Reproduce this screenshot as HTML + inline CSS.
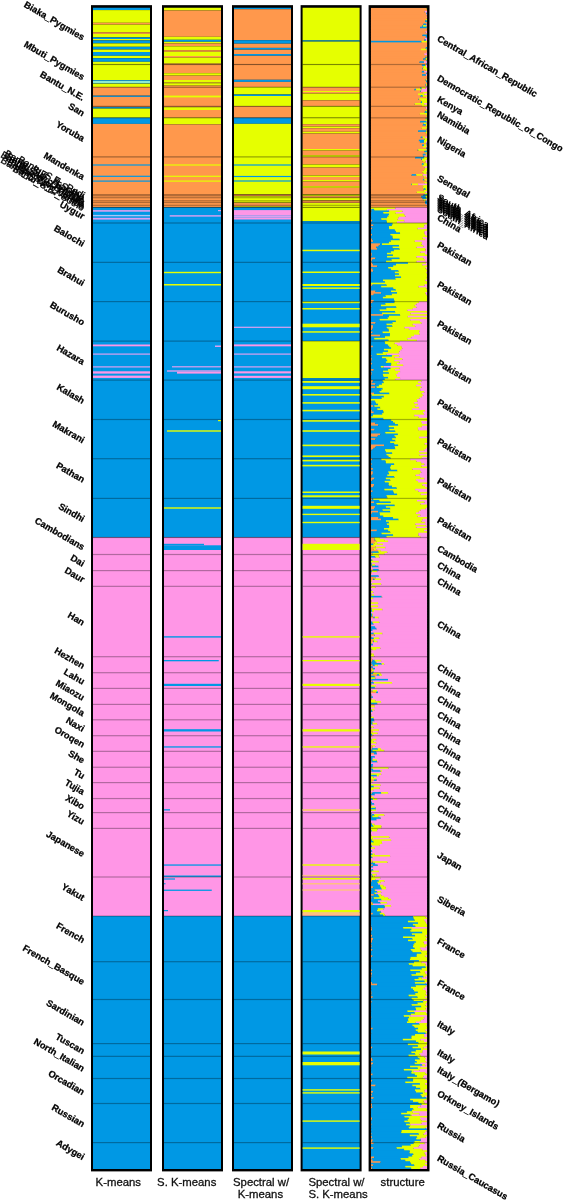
<!DOCTYPE html>
<html><head><meta charset="utf-8"><style>
html,body{margin:0;padding:0;background:#fff;width:564px;height:1200px;overflow:hidden}
svg{display:block}
body{position:relative}
.lab{position:absolute;left:0;top:0;will-change:transform}
</style></head><body>
<svg width="564" height="1200" viewBox="0 0 564 1200">
<rect x="91.00" y="5.15" width="61.00" height="1166.25" fill="#000"/>
<rect x="162.00" y="5.15" width="61.00" height="1166.25" fill="#000"/>
<rect x="232.00" y="5.15" width="61.00" height="1166.25" fill="#000"/>
<rect x="300.60" y="5.15" width="61.00" height="1166.25" fill="#000"/>
<rect x="368.60" y="5.15" width="60.90" height="1166.25" fill="#000"/>
<rect x="93.00" y="7.75" width="57.00" height="2.35" fill="#0098E4"/>
<rect x="93.00" y="10.10" width="57.00" height="12.70" fill="#E6FF00"/>
<rect x="93.00" y="22.80" width="57.00" height="1.80" fill="#FF984C"/>
<rect x="93.00" y="24.60" width="57.00" height="7.70" fill="#E6FF00"/>
<rect x="93.00" y="32.30" width="57.00" height="1.60" fill="#FF984C"/>
<rect x="93.00" y="33.90" width="57.00" height="3.50" fill="#E6FF00"/>
<rect x="93.00" y="37.40" width="57.00" height="1.60" fill="#0098E4"/>
<rect x="93.00" y="39.00" width="57.00" height="1.40" fill="#E6FF00"/>
<rect x="93.00" y="40.40" width="57.00" height="3.00" fill="#0098E4"/>
<rect x="93.00" y="43.40" width="57.00" height="3.40" fill="#E6FF00"/>
<rect x="93.00" y="46.80" width="57.00" height="2.70" fill="#0098E4"/>
<rect x="93.00" y="49.50" width="57.00" height="2.50" fill="#E6FF00"/>
<rect x="93.00" y="52.00" width="57.00" height="3.80" fill="#0098E4"/>
<rect x="93.00" y="55.80" width="57.00" height="2.40" fill="#E6FF00"/>
<rect x="93.00" y="58.20" width="57.00" height="3.60" fill="#0098E4"/>
<rect x="93.00" y="61.80" width="57.00" height="2.60" fill="#E6FF00"/>
<rect x="93.00" y="64.40" width="57.00" height="15.60" fill="#E6FF00"/>
<rect x="93.00" y="80.00" width="57.00" height="0.80" fill="#0098E4"/>
<rect x="93.00" y="80.80" width="57.00" height="2.20" fill="#8CEBD2"/>
<rect x="93.00" y="83.00" width="57.00" height="0.60" fill="#0098E4"/>
<rect x="93.00" y="83.60" width="57.00" height="3.50" fill="#E6FF00"/>
<rect x="93.00" y="87.10" width="57.00" height="8.60" fill="#FF984C"/>
<rect x="93.00" y="95.70" width="57.00" height="1.20" fill="#0098E4"/>
<rect x="93.00" y="96.90" width="57.00" height="9.35" fill="#FF984C"/>
<rect x="93.00" y="106.25" width="57.00" height="0.95" fill="#FF984C"/>
<rect x="93.00" y="107.20" width="57.00" height="1.40" fill="#0098E4"/>
<rect x="93.00" y="108.60" width="57.00" height="9.15" fill="#E6FF00"/>
<rect x="93.00" y="117.75" width="57.00" height="6.15" fill="#0098E4"/>
<rect x="93.00" y="123.90" width="57.00" height="33.00" fill="#FF984C"/>
<rect x="93.00" y="156.90" width="57.00" height="50.40" fill="#FF984C"/>
<rect x="93.00" y="164.40" width="57.00" height="1.20" fill="#0098E4"/>
<rect x="93.00" y="175.70" width="57.00" height="1.20" fill="#0098E4"/>
<rect x="93.00" y="180.50" width="57.00" height="1.20" fill="#0098E4"/>
<rect x="93.00" y="207.30" width="57.00" height="330.10" fill="#0098E4"/>
<rect x="93.00" y="210.10" width="57.00" height="1.60" fill="#DCA0F0"/>
<rect x="93.00" y="214.90" width="57.00" height="1.40" fill="#A8C4F8"/>
<rect x="93.00" y="217.80" width="57.00" height="1.80" fill="#DCA0F0"/>
<rect x="93.00" y="344.50" width="57.00" height="1.80" fill="#FF96E6"/>
<rect x="93.00" y="353.50" width="57.00" height="1.20" fill="#DCA0F0"/>
<rect x="93.00" y="366.30" width="57.00" height="1.20" fill="#DCA0F0"/>
<rect x="93.00" y="371.30" width="57.00" height="2.30" fill="#FF96E6"/>
<rect x="93.00" y="375.60" width="57.00" height="2.30" fill="#FF96E6"/>
<rect x="93.00" y="537.40" width="57.00" height="378.60" fill="#FF96E6"/>
<rect x="93.00" y="916.00" width="57.00" height="253.00" fill="#0098E4"/>
<rect x="164.00" y="7.75" width="57.00" height="2.75" fill="#E6FF00"/>
<rect x="164.00" y="10.50" width="57.00" height="26.30" fill="#FF984C"/>
<rect x="164.00" y="36.80" width="57.00" height="3.00" fill="#E6FF00"/>
<rect x="164.00" y="39.80" width="57.00" height="2.00" fill="#0098E4"/>
<rect x="164.00" y="41.80" width="57.00" height="1.70" fill="#E6FF00"/>
<rect x="164.00" y="43.50" width="57.00" height="2.80" fill="#FF984C"/>
<rect x="164.00" y="46.30" width="57.00" height="3.90" fill="#E6FF00"/>
<rect x="164.00" y="50.20" width="57.00" height="1.60" fill="#FF984C"/>
<rect x="164.00" y="51.80" width="57.00" height="4.20" fill="#E6FF00"/>
<rect x="164.00" y="56.00" width="57.00" height="1.70" fill="#FF984C"/>
<rect x="164.00" y="57.70" width="57.00" height="5.90" fill="#E6FF00"/>
<rect x="164.00" y="63.60" width="57.00" height="0.80" fill="#FF984C"/>
<rect x="164.00" y="64.40" width="57.00" height="8.80" fill="#FF984C"/>
<rect x="164.00" y="73.20" width="57.00" height="2.40" fill="#E6FF00"/>
<rect x="164.00" y="75.60" width="57.00" height="4.40" fill="#FF984C"/>
<rect x="164.00" y="80.00" width="57.00" height="2.60" fill="#E6FF00"/>
<rect x="164.00" y="82.60" width="57.00" height="0.60" fill="#FF984C"/>
<rect x="164.00" y="83.20" width="57.00" height="2.40" fill="#E6FF00"/>
<rect x="164.00" y="85.60" width="57.00" height="1.50" fill="#FF984C"/>
<rect x="164.00" y="87.10" width="57.00" height="19.15" fill="#FF984C"/>
<rect x="164.00" y="95.60" width="57.00" height="1.80" fill="#E6FF00"/>
<rect x="164.00" y="106.25" width="57.00" height="0.95" fill="#FF984C"/>
<rect x="164.00" y="107.20" width="57.00" height="2.80" fill="#E6FF00"/>
<rect x="164.00" y="110.00" width="57.00" height="7.75" fill="#FF984C"/>
<rect x="164.00" y="117.75" width="57.00" height="6.65" fill="#E6FF00"/>
<rect x="164.00" y="124.40" width="57.00" height="32.50" fill="#FF984C"/>
<rect x="164.00" y="156.90" width="57.00" height="50.40" fill="#FF984C"/>
<rect x="164.00" y="164.40" width="57.00" height="1.20" fill="#E6FF00"/>
<rect x="164.00" y="175.70" width="57.00" height="1.20" fill="#E6FF00"/>
<rect x="164.00" y="180.50" width="57.00" height="1.20" fill="#E6FF00"/>
<rect x="164.00" y="207.30" width="57.00" height="330.10" fill="#0098E4"/>
<rect x="164.00" y="271.80" width="57.00" height="1.40" fill="#E6FF00"/>
<rect x="164.00" y="284.00" width="57.00" height="1.50" fill="#E6FF00"/>
<rect x="164.00" y="507.30" width="57.00" height="1.40" fill="#E6FF00"/>
<rect x="164.00" y="537.40" width="57.00" height="378.60" fill="#FF96E6"/>
<rect x="164.00" y="545.30" width="57.00" height="4.70" fill="#0098E4"/>
<rect x="164.00" y="636.20" width="57.00" height="1.40" fill="#0098E4"/>
<rect x="164.00" y="683.80" width="57.00" height="2.20" fill="#0098E4"/>
<rect x="164.00" y="729.20" width="57.00" height="2.30" fill="#0098E4"/>
<rect x="164.00" y="746.30" width="57.00" height="1.30" fill="#0098E4"/>
<rect x="164.00" y="864.40" width="57.00" height="1.30" fill="#0098E4"/>
<rect x="164.00" y="875.50" width="57.00" height="1.40" fill="#0098E4"/>
<rect x="164.00" y="916.00" width="57.00" height="253.00" fill="#0098E4"/>
<rect x="169.70" y="215.20" width="51.30" height="1.40" fill="#DCA0F0"/>
<rect x="218.00" y="210.00" width="3.00" height="1.20" fill="#DCA0F0"/>
<rect x="215.00" y="345.50" width="6.00" height="1.50" fill="#DCA0F0"/>
<rect x="172.00" y="366.20" width="49.00" height="1.20" fill="#DCA0F0"/>
<rect x="167.00" y="370.30" width="54.00" height="1.40" fill="#DCA0F0"/>
<rect x="177.00" y="371.70" width="44.00" height="1.90" fill="#FF96E6"/>
<rect x="218.00" y="420.00" width="3.00" height="1.20" fill="#E6FF00"/>
<rect x="167.00" y="430.30" width="54.00" height="1.40" fill="#E6FF00"/>
<rect x="164.00" y="543.80" width="40.00" height="1.50" fill="#0098E4"/>
<rect x="164.00" y="660.00" width="54.75" height="1.30" fill="#0098E4"/>
<rect x="164.00" y="809.20" width="6.00" height="1.30" fill="#0098E4"/>
<rect x="164.00" y="878.40" width="11.00" height="1.20" fill="#0098E4"/>
<rect x="164.00" y="883.20" width="1.50" height="1.10" fill="#0098E4"/>
<rect x="164.00" y="889.60" width="47.75" height="1.30" fill="#0098E4"/>
<rect x="164.00" y="910.00" width="4.00" height="1.20" fill="#0098E4"/>
<rect x="234.00" y="7.75" width="57.00" height="1.45" fill="#0098E4"/>
<rect x="234.00" y="9.20" width="57.00" height="31.00" fill="#FF984C"/>
<rect x="234.00" y="40.20" width="57.00" height="3.50" fill="#0098E4"/>
<rect x="234.00" y="43.70" width="57.00" height="4.20" fill="#FF984C"/>
<rect x="234.00" y="47.90" width="57.00" height="1.80" fill="#0098E4"/>
<rect x="234.00" y="49.70" width="57.00" height="4.30" fill="#FF984C"/>
<rect x="234.00" y="54.00" width="57.00" height="1.80" fill="#0098E4"/>
<rect x="234.00" y="55.80" width="57.00" height="8.60" fill="#FF984C"/>
<rect x="234.00" y="64.40" width="57.00" height="15.40" fill="#FF984C"/>
<rect x="234.00" y="79.80" width="57.00" height="2.10" fill="#0098E4"/>
<rect x="234.00" y="81.90" width="57.00" height="5.20" fill="#FF984C"/>
<rect x="234.00" y="87.10" width="57.00" height="7.40" fill="#E6FF00"/>
<rect x="234.00" y="94.50" width="57.00" height="1.50" fill="#0098E4"/>
<rect x="234.00" y="96.00" width="57.00" height="10.25" fill="#E6FF00"/>
<rect x="234.00" y="106.25" width="57.00" height="11.50" fill="#FF984C"/>
<rect x="234.00" y="117.75" width="57.00" height="6.05" fill="#0098E4"/>
<rect x="234.00" y="123.80" width="57.00" height="33.10" fill="#E6FF00"/>
<rect x="234.00" y="156.90" width="57.00" height="37.60" fill="#E6FF00"/>
<rect x="234.00" y="164.40" width="57.00" height="1.20" fill="#0098E4"/>
<rect x="234.00" y="175.90" width="57.00" height="1.20" fill="#0098E4"/>
<rect x="234.00" y="180.40" width="57.00" height="1.20" fill="#0098E4"/>
<rect x="234.00" y="194.50" width="57.00" height="1.70" fill="#FF984C"/>
<rect x="234.00" y="196.20" width="57.00" height="6.60" fill="#E6FF00"/>
<rect x="234.00" y="202.80" width="57.00" height="3.60" fill="#FF984C"/>
<rect x="234.00" y="206.40" width="57.00" height="0.90" fill="#E6FF00"/>
<rect x="234.00" y="207.30" width="57.00" height="330.10" fill="#0098E4"/>
<rect x="234.00" y="210.10" width="57.00" height="5.50" fill="#FF96E6"/>
<rect x="234.00" y="217.40" width="57.00" height="2.10" fill="#FF96E6"/>
<rect x="234.00" y="215.60" width="57.00" height="1.80" fill="#DCA0F0"/>
<rect x="234.00" y="326.70" width="57.00" height="1.20" fill="#DCA0F0"/>
<rect x="234.00" y="344.40" width="57.00" height="1.90" fill="#FF96E6"/>
<rect x="234.00" y="353.50" width="57.00" height="1.20" fill="#DCA0F0"/>
<rect x="234.00" y="366.30" width="57.00" height="1.20" fill="#DCA0F0"/>
<rect x="234.00" y="371.30" width="57.00" height="2.10" fill="#FF96E6"/>
<rect x="234.00" y="375.80" width="57.00" height="2.10" fill="#FF96E6"/>
<rect x="234.00" y="537.40" width="57.00" height="378.60" fill="#FF96E6"/>
<rect x="234.00" y="916.00" width="57.00" height="253.00" fill="#0098E4"/>
<rect x="302.60" y="7.75" width="57.00" height="32.65" fill="#E6FF00"/>
<rect x="302.60" y="40.40" width="57.00" height="1.20" fill="#0098E4"/>
<rect x="302.60" y="41.60" width="57.00" height="22.80" fill="#E6FF00"/>
<rect x="302.60" y="64.40" width="57.00" height="22.70" fill="#E6FF00"/>
<rect x="302.60" y="87.10" width="57.00" height="3.90" fill="#FF984C"/>
<rect x="302.60" y="91.00" width="57.00" height="1.00" fill="#E6FF00"/>
<rect x="302.60" y="92.00" width="57.00" height="1.60" fill="#FF984C"/>
<rect x="302.60" y="93.60" width="57.00" height="6.80" fill="#E6FF00"/>
<rect x="302.60" y="100.40" width="57.00" height="5.85" fill="#FF984C"/>
<rect x="302.60" y="106.25" width="57.00" height="11.50" fill="#E6FF00"/>
<rect x="302.60" y="117.75" width="57.00" height="6.45" fill="#E6FF00"/>
<rect x="302.60" y="124.20" width="57.00" height="2.30" fill="#FF984C"/>
<rect x="302.60" y="126.50" width="57.00" height="1.70" fill="#E6FF00"/>
<rect x="302.60" y="128.20" width="57.00" height="3.60" fill="#FF984C"/>
<rect x="302.60" y="131.80" width="57.00" height="1.70" fill="#E6FF00"/>
<rect x="302.60" y="133.50" width="57.00" height="15.50" fill="#FF984C"/>
<rect x="302.60" y="149.00" width="57.00" height="1.60" fill="#E6FF00"/>
<rect x="302.60" y="150.60" width="57.00" height="4.70" fill="#FF984C"/>
<rect x="302.60" y="155.30" width="57.00" height="1.60" fill="#E6FF00"/>
<rect x="302.60" y="156.90" width="57.00" height="7.60" fill="#FF984C"/>
<rect x="302.60" y="164.50" width="57.00" height="3.00" fill="#E6FF00"/>
<rect x="302.60" y="167.50" width="57.00" height="8.00" fill="#FF984C"/>
<rect x="302.60" y="175.50" width="57.00" height="1.50" fill="#E6FF00"/>
<rect x="302.60" y="177.00" width="57.00" height="3.00" fill="#FF984C"/>
<rect x="302.60" y="180.00" width="57.00" height="1.60" fill="#E6FF00"/>
<rect x="302.60" y="181.60" width="57.00" height="4.60" fill="#FF984C"/>
<rect x="302.60" y="186.20" width="57.00" height="1.60" fill="#E6FF00"/>
<rect x="302.60" y="187.80" width="57.00" height="6.70" fill="#FF984C"/>
<rect x="302.60" y="194.50" width="57.00" height="1.50" fill="#E6FF00"/>
<rect x="302.60" y="196.00" width="57.00" height="1.80" fill="#FF984C"/>
<rect x="302.60" y="197.80" width="57.00" height="2.80" fill="#E6FF00"/>
<rect x="302.60" y="200.60" width="57.00" height="2.40" fill="#FF984C"/>
<rect x="302.60" y="203.00" width="57.00" height="4.30" fill="#E6FF00"/>
<rect x="302.60" y="207.30" width="57.00" height="13.90" fill="#E6FF00"/>
<rect x="302.60" y="221.20" width="57.00" height="119.80" fill="#0098E4"/>
<rect x="302.60" y="249.70" width="57.00" height="1.50" fill="#E6FF00"/>
<rect x="302.60" y="271.50" width="57.00" height="1.50" fill="#E6FF00"/>
<rect x="302.60" y="284.00" width="57.00" height="2.00" fill="#E6FF00"/>
<rect x="302.60" y="287.40" width="57.00" height="1.50" fill="#E6FF00"/>
<rect x="302.60" y="301.50" width="57.00" height="1.70" fill="#E6FF00"/>
<rect x="302.60" y="308.00" width="57.00" height="1.50" fill="#E6FF00"/>
<rect x="302.60" y="323.70" width="57.00" height="3.60" fill="#E6FF00"/>
<rect x="302.60" y="331.20" width="57.00" height="1.50" fill="#E6FF00"/>
<rect x="302.60" y="341.00" width="57.00" height="37.20" fill="#E6FF00"/>
<rect x="302.60" y="378.20" width="57.00" height="159.20" fill="#0098E4"/>
<rect x="302.60" y="381.00" width="57.00" height="1.80" fill="#E6FF00"/>
<rect x="302.60" y="386.20" width="57.00" height="3.00" fill="#E6FF00"/>
<rect x="302.60" y="394.00" width="57.00" height="1.60" fill="#E6FF00"/>
<rect x="302.60" y="402.10" width="57.00" height="1.60" fill="#E6FF00"/>
<rect x="302.60" y="409.80" width="57.00" height="1.60" fill="#E6FF00"/>
<rect x="302.60" y="420.10" width="57.00" height="1.60" fill="#E6FF00"/>
<rect x="302.60" y="430.20" width="57.00" height="1.60" fill="#E6FF00"/>
<rect x="302.60" y="444.60" width="57.00" height="1.60" fill="#E6FF00"/>
<rect x="302.60" y="455.40" width="57.00" height="1.60" fill="#E6FF00"/>
<rect x="302.60" y="459.80" width="57.00" height="1.60" fill="#E6FF00"/>
<rect x="302.60" y="464.80" width="57.00" height="1.60" fill="#E6FF00"/>
<rect x="302.60" y="491.50" width="57.00" height="1.50" fill="#E6FF00"/>
<rect x="302.60" y="495.30" width="57.00" height="2.00" fill="#E6FF00"/>
<rect x="302.60" y="505.80" width="57.00" height="3.00" fill="#E6FF00"/>
<rect x="302.60" y="513.70" width="57.00" height="1.40" fill="#E6FF00"/>
<rect x="302.60" y="521.80" width="57.00" height="1.40" fill="#E6FF00"/>
<rect x="302.60" y="537.40" width="57.00" height="378.60" fill="#FF96E6"/>
<rect x="302.60" y="543.80" width="57.00" height="6.20" fill="#E6FF00"/>
<rect x="302.60" y="636.20" width="57.00" height="1.40" fill="#E6FF00"/>
<rect x="302.60" y="660.00" width="57.00" height="1.30" fill="#E6FF00"/>
<rect x="302.60" y="683.80" width="57.00" height="2.20" fill="#E6FF00"/>
<rect x="302.60" y="729.20" width="57.00" height="2.30" fill="#E6FF00"/>
<rect x="302.60" y="746.30" width="57.00" height="1.30" fill="#E6FF00"/>
<rect x="302.60" y="809.00" width="57.00" height="2.00" fill="#FFC080"/>
<rect x="302.60" y="864.30" width="57.00" height="1.40" fill="#E6FF00"/>
<rect x="302.60" y="874.90" width="57.00" height="1.40" fill="#FFC080"/>
<rect x="302.60" y="878.00" width="57.00" height="1.50" fill="#E6FF00"/>
<rect x="302.60" y="883.00" width="57.00" height="1.50" fill="#FFC080"/>
<rect x="302.60" y="889.30" width="57.00" height="1.40" fill="#FFC080"/>
<rect x="302.60" y="910.00" width="57.00" height="2.50" fill="#E6FF00"/>
<rect x="302.60" y="912.80" width="57.00" height="2.80" fill="#FFC080"/>
<rect x="302.60" y="916.00" width="57.00" height="253.00" fill="#0098E4"/>
<rect x="302.60" y="1051.50" width="57.00" height="3.00" fill="#E6FF00"/>
<rect x="302.60" y="1062.00" width="57.00" height="3.30" fill="#E6FF00"/>
<rect x="302.60" y="1089.20" width="57.00" height="1.40" fill="#E6FF00"/>
<rect x="302.60" y="1092.20" width="57.00" height="1.40" fill="#E6FF00"/>
<rect x="302.60" y="1120.40" width="57.00" height="1.40" fill="#E6FF00"/>
<rect x="302.60" y="1147.40" width="57.00" height="1.40" fill="#E6FF00"/>
<defs><clipPath id="c5"><rect x="370.80" y="7.75" width="56.40" height="1161.25"/></clipPath></defs>
<g clip-path="url(#c5)">
<rect x="370.80" y="7.75" width="55.71" height="2.57" fill="#FF984C"/>
<rect x="426.51" y="7.75" width="0.12" height="2.57" fill="#0098E4"/>
<rect x="426.62" y="7.75" width="0.58" height="2.57" fill="#E6FF00"/>
<rect x="370.80" y="9.32" width="56.34" height="2.57" fill="#FF984C"/>
<rect x="427.14" y="9.32" width="0.06" height="2.57" fill="#0098E4"/>
<rect x="370.80" y="10.90" width="53.84" height="2.57" fill="#FF984C"/>
<rect x="424.64" y="10.90" width="0.20" height="2.57" fill="#0098E4"/>
<rect x="424.84" y="10.90" width="2.36" height="2.57" fill="#FF96E6"/>
<rect x="370.80" y="12.47" width="55.28" height="2.57" fill="#FF984C"/>
<rect x="426.08" y="12.47" width="0.78" height="2.57" fill="#0098E4"/>
<rect x="426.86" y="12.47" width="0.06" height="2.57" fill="#E6FF00"/>
<rect x="426.92" y="12.47" width="0.28" height="2.57" fill="#FF96E6"/>
<rect x="370.80" y="14.04" width="55.31" height="2.57" fill="#FF984C"/>
<rect x="426.11" y="14.04" width="0.25" height="2.57" fill="#E6FF00"/>
<rect x="426.35" y="14.04" width="0.85" height="2.57" fill="#FF96E6"/>
<rect x="370.80" y="15.62" width="56.32" height="2.57" fill="#FF984C"/>
<rect x="427.12" y="15.62" width="0.08" height="2.57" fill="#E6FF00"/>
<rect x="370.80" y="17.19" width="55.89" height="2.57" fill="#FF984C"/>
<rect x="426.69" y="17.19" width="0.51" height="2.57" fill="#FF96E6"/>
<rect x="370.80" y="18.77" width="54.94" height="2.57" fill="#FF984C"/>
<rect x="425.74" y="18.77" width="1.46" height="2.57" fill="#E6FF00"/>
<rect x="370.80" y="20.34" width="54.26" height="2.57" fill="#FF984C"/>
<rect x="425.06" y="20.34" width="2.04" height="2.57" fill="#0098E4"/>
<rect x="427.10" y="20.34" width="0.10" height="2.57" fill="#FF96E6"/>
<rect x="370.80" y="21.91" width="56.15" height="2.57" fill="#FF984C"/>
<rect x="426.95" y="21.91" width="0.21" height="2.57" fill="#E6FF00"/>
<rect x="370.80" y="23.49" width="52.54" height="2.57" fill="#FF984C"/>
<rect x="423.34" y="23.49" width="3.13" height="2.57" fill="#0098E4"/>
<rect x="426.48" y="23.49" width="0.72" height="2.57" fill="#FF96E6"/>
<rect x="370.80" y="25.06" width="51.21" height="2.57" fill="#FF984C"/>
<rect x="422.01" y="25.06" width="0.90" height="2.57" fill="#0098E4"/>
<rect x="422.91" y="25.06" width="3.43" height="2.57" fill="#E6FF00"/>
<rect x="426.34" y="25.06" width="0.86" height="2.57" fill="#FF96E6"/>
<rect x="370.80" y="26.63" width="49.26" height="2.57" fill="#FF984C"/>
<rect x="420.06" y="26.63" width="6.78" height="2.57" fill="#0098E4"/>
<rect x="426.84" y="26.63" width="0.36" height="2.57" fill="#E6FF00"/>
<rect x="370.80" y="28.21" width="56.13" height="2.57" fill="#FF984C"/>
<rect x="426.97" y="28.21" width="0.23" height="2.57" fill="#E6FF00"/>
<rect x="370.80" y="29.78" width="56.40" height="2.57" fill="#FF984C"/>
<rect x="370.80" y="31.35" width="54.52" height="2.57" fill="#FF984C"/>
<rect x="425.32" y="31.35" width="0.13" height="2.57" fill="#0098E4"/>
<rect x="425.45" y="31.35" width="1.75" height="2.57" fill="#FF96E6"/>
<rect x="370.80" y="32.93" width="56.40" height="2.57" fill="#FF984C"/>
<rect x="370.80" y="34.50" width="51.65" height="2.57" fill="#FF984C"/>
<rect x="422.45" y="34.50" width="4.75" height="2.57" fill="#0098E4"/>
<rect x="370.80" y="36.08" width="55.02" height="2.57" fill="#FF984C"/>
<rect x="425.82" y="36.08" width="1.38" height="2.57" fill="#0098E4"/>
<rect x="370.80" y="37.65" width="53.94" height="2.57" fill="#FF984C"/>
<rect x="424.74" y="37.65" width="2.46" height="2.57" fill="#FF96E6"/>
<rect x="370.80" y="39.22" width="53.46" height="2.57" fill="#FF984C"/>
<rect x="424.26" y="39.22" width="1.72" height="2.57" fill="#0098E4"/>
<rect x="425.97" y="39.22" width="1.23" height="2.57" fill="#FF96E6"/>
<rect x="370.80" y="40.80" width="50.76" height="2.57" fill="#0098E4"/>
<rect x="421.56" y="40.80" width="5.64" height="2.57" fill="#E6FF00"/>
<rect x="370.80" y="42.37" width="56.40" height="2.57" fill="#FF984C"/>
<rect x="370.80" y="43.94" width="56.40" height="2.57" fill="#FF984C"/>
<rect x="370.80" y="45.52" width="56.40" height="2.57" fill="#FF984C"/>
<rect x="370.80" y="47.09" width="54.92" height="2.57" fill="#FF984C"/>
<rect x="425.72" y="47.09" width="1.48" height="2.57" fill="#0098E4"/>
<rect x="370.80" y="48.66" width="50.20" height="2.57" fill="#FF984C"/>
<rect x="421.00" y="48.66" width="5.70" height="2.57" fill="#E6FF00"/>
<rect x="426.70" y="48.66" width="0.50" height="2.57" fill="#FF96E6"/>
<rect x="370.80" y="50.24" width="56.40" height="2.57" fill="#FF984C"/>
<rect x="370.80" y="51.81" width="55.77" height="2.57" fill="#FF984C"/>
<rect x="426.57" y="51.81" width="0.63" height="2.57" fill="#FF96E6"/>
<rect x="370.80" y="53.38" width="53.37" height="2.57" fill="#FF984C"/>
<rect x="424.20" y="53.38" width="3.00" height="2.57" fill="#FF96E6"/>
<rect x="370.80" y="54.96" width="56.40" height="2.57" fill="#FF984C"/>
<rect x="370.80" y="56.53" width="54.70" height="2.57" fill="#FF984C"/>
<rect x="425.50" y="56.53" width="1.20" height="2.57" fill="#0098E4"/>
<rect x="426.70" y="56.53" width="0.50" height="2.57" fill="#E6FF00"/>
<rect x="370.80" y="58.11" width="52.44" height="2.57" fill="#FF984C"/>
<rect x="423.24" y="58.11" width="2.39" height="2.57" fill="#0098E4"/>
<rect x="425.63" y="58.11" width="1.57" height="2.57" fill="#E6FF00"/>
<rect x="370.80" y="59.68" width="55.68" height="2.57" fill="#FF984C"/>
<rect x="426.48" y="59.68" width="0.72" height="2.57" fill="#0098E4"/>
<rect x="370.80" y="61.25" width="48.80" height="2.57" fill="#FF984C"/>
<rect x="419.60" y="61.25" width="4.33" height="2.57" fill="#0098E4"/>
<rect x="423.94" y="61.25" width="3.26" height="2.57" fill="#FF96E6"/>
<rect x="370.80" y="62.83" width="55.69" height="2.57" fill="#FF984C"/>
<rect x="426.49" y="62.83" width="0.71" height="2.57" fill="#0098E4"/>
<rect x="370.80" y="64.40" width="51.10" height="2.62" fill="#FF984C"/>
<rect x="421.90" y="64.40" width="3.32" height="2.62" fill="#0098E4"/>
<rect x="425.21" y="64.40" width="0.75" height="2.62" fill="#E6FF00"/>
<rect x="425.97" y="64.40" width="1.23" height="2.62" fill="#FF96E6"/>
<rect x="370.80" y="66.02" width="52.49" height="2.62" fill="#FF984C"/>
<rect x="423.29" y="66.02" width="2.83" height="2.62" fill="#E6FF00"/>
<rect x="426.11" y="66.02" width="1.09" height="2.62" fill="#FF96E6"/>
<rect x="370.80" y="67.64" width="51.61" height="2.62" fill="#FF984C"/>
<rect x="422.41" y="67.64" width="0.60" height="2.62" fill="#0098E4"/>
<rect x="423.00" y="67.64" width="4.20" height="2.62" fill="#E6FF00"/>
<rect x="370.80" y="69.26" width="54.80" height="2.62" fill="#FF984C"/>
<rect x="425.60" y="69.26" width="1.60" height="2.62" fill="#E6FF00"/>
<rect x="370.80" y="70.89" width="51.04" height="2.62" fill="#FF984C"/>
<rect x="421.84" y="70.89" width="2.35" height="2.62" fill="#0098E4"/>
<rect x="424.20" y="70.89" width="3.00" height="2.62" fill="#FF96E6"/>
<rect x="370.80" y="72.51" width="55.55" height="2.62" fill="#FF984C"/>
<rect x="426.35" y="72.51" width="0.67" height="2.62" fill="#0098E4"/>
<rect x="427.02" y="72.51" width="0.18" height="2.62" fill="#E6FF00"/>
<rect x="370.80" y="74.13" width="51.24" height="2.62" fill="#FF984C"/>
<rect x="422.04" y="74.13" width="3.84" height="2.62" fill="#0098E4"/>
<rect x="425.88" y="74.13" width="1.32" height="2.62" fill="#FF96E6"/>
<rect x="370.80" y="75.75" width="56.40" height="2.62" fill="#FF984C"/>
<rect x="370.80" y="77.37" width="56.40" height="2.62" fill="#FF984C"/>
<rect x="370.80" y="78.99" width="54.25" height="2.62" fill="#FF984C"/>
<rect x="425.05" y="78.99" width="0.66" height="2.62" fill="#0098E4"/>
<rect x="425.71" y="78.99" width="1.05" height="2.62" fill="#E6FF00"/>
<rect x="426.76" y="78.99" width="0.44" height="2.62" fill="#FF96E6"/>
<rect x="370.80" y="80.61" width="55.26" height="2.62" fill="#FF984C"/>
<rect x="426.06" y="80.61" width="1.14" height="2.62" fill="#0098E4"/>
<rect x="370.80" y="82.24" width="56.24" height="2.62" fill="#FF984C"/>
<rect x="427.04" y="82.24" width="0.16" height="2.62" fill="#FF96E6"/>
<rect x="370.80" y="83.86" width="54.65" height="2.62" fill="#FF984C"/>
<rect x="425.45" y="83.86" width="0.62" height="2.62" fill="#0098E4"/>
<rect x="426.08" y="83.86" width="1.03" height="2.62" fill="#E6FF00"/>
<rect x="427.11" y="83.86" width="0.09" height="2.62" fill="#FF96E6"/>
<rect x="370.80" y="85.48" width="55.37" height="2.62" fill="#FF984C"/>
<rect x="426.17" y="85.48" width="0.45" height="2.62" fill="#0098E4"/>
<rect x="426.61" y="85.48" width="0.59" height="2.62" fill="#FF96E6"/>
<rect x="370.80" y="87.10" width="49.40" height="2.60" fill="#FF984C"/>
<rect x="420.20" y="87.10" width="1.37" height="2.60" fill="#0098E4"/>
<rect x="421.57" y="87.10" width="3.98" height="2.60" fill="#E6FF00"/>
<rect x="425.55" y="87.10" width="1.65" height="2.60" fill="#FF96E6"/>
<rect x="370.80" y="88.70" width="43.67" height="2.60" fill="#FF984C"/>
<rect x="414.47" y="88.70" width="1.58" height="2.60" fill="#0098E4"/>
<rect x="416.05" y="88.70" width="5.29" height="2.60" fill="#E6FF00"/>
<rect x="421.33" y="88.70" width="5.87" height="2.60" fill="#FF96E6"/>
<rect x="370.80" y="90.29" width="49.46" height="2.60" fill="#FF984C"/>
<rect x="420.26" y="90.29" width="0.66" height="2.60" fill="#0098E4"/>
<rect x="420.92" y="90.29" width="6.28" height="2.60" fill="#FF96E6"/>
<rect x="370.80" y="91.89" width="52.10" height="2.60" fill="#FF984C"/>
<rect x="422.90" y="91.89" width="4.30" height="2.60" fill="#E6FF00"/>
<rect x="370.80" y="93.48" width="47.20" height="2.60" fill="#FF984C"/>
<rect x="418.00" y="93.48" width="6.27" height="2.60" fill="#E6FF00"/>
<rect x="424.28" y="93.48" width="2.92" height="2.60" fill="#FF96E6"/>
<rect x="370.80" y="95.08" width="49.77" height="2.60" fill="#FF984C"/>
<rect x="420.57" y="95.08" width="2.20" height="2.60" fill="#0098E4"/>
<rect x="422.77" y="95.08" width="4.43" height="2.60" fill="#E6FF00"/>
<rect x="370.80" y="96.67" width="55.35" height="2.60" fill="#FF984C"/>
<rect x="426.15" y="96.67" width="1.05" height="2.60" fill="#FF96E6"/>
<rect x="370.80" y="98.27" width="47.87" height="2.60" fill="#FF984C"/>
<rect x="418.67" y="98.27" width="0.45" height="2.60" fill="#0098E4"/>
<rect x="419.12" y="98.27" width="8.08" height="2.60" fill="#E6FF00"/>
<rect x="370.80" y="99.87" width="50.47" height="2.60" fill="#FF984C"/>
<rect x="421.27" y="99.87" width="5.93" height="2.60" fill="#E6FF00"/>
<rect x="370.80" y="101.46" width="50.02" height="2.60" fill="#FF984C"/>
<rect x="420.82" y="101.46" width="1.23" height="2.60" fill="#0098E4"/>
<rect x="422.05" y="101.46" width="5.15" height="2.60" fill="#E6FF00"/>
<rect x="370.80" y="103.06" width="43.95" height="2.60" fill="#FF984C"/>
<rect x="414.75" y="103.06" width="0.13" height="2.60" fill="#0098E4"/>
<rect x="414.88" y="103.06" width="9.29" height="2.60" fill="#E6FF00"/>
<rect x="424.17" y="103.06" width="3.03" height="2.60" fill="#FF96E6"/>
<rect x="370.80" y="104.65" width="50.95" height="2.60" fill="#FF984C"/>
<rect x="421.75" y="104.65" width="5.45" height="2.60" fill="#E6FF00"/>
<rect x="370.80" y="106.25" width="54.60" height="2.64" fill="#FF984C"/>
<rect x="425.40" y="106.25" width="1.80" height="2.64" fill="#FF96E6"/>
<rect x="370.80" y="107.89" width="55.48" height="2.64" fill="#FF984C"/>
<rect x="426.28" y="107.89" width="0.92" height="2.64" fill="#FF96E6"/>
<rect x="370.80" y="109.54" width="54.64" height="2.64" fill="#FF984C"/>
<rect x="425.44" y="109.54" width="1.76" height="2.64" fill="#E6FF00"/>
<rect x="370.80" y="111.18" width="53.93" height="2.64" fill="#FF984C"/>
<rect x="424.73" y="111.18" width="2.12" height="2.64" fill="#0098E4"/>
<rect x="426.85" y="111.18" width="0.28" height="2.64" fill="#E6FF00"/>
<rect x="427.13" y="111.18" width="0.07" height="2.64" fill="#FF96E6"/>
<rect x="370.80" y="112.82" width="49.07" height="2.64" fill="#FF984C"/>
<rect x="419.87" y="112.82" width="7.33" height="2.64" fill="#E6FF00"/>
<rect x="370.80" y="114.46" width="55.51" height="2.64" fill="#FF984C"/>
<rect x="426.31" y="114.46" width="0.89" height="2.64" fill="#E6FF00"/>
<rect x="370.80" y="116.11" width="56.40" height="2.64" fill="#FF984C"/>
<rect x="370.80" y="117.75" width="54.98" height="2.57" fill="#FF984C"/>
<rect x="425.78" y="117.75" width="0.91" height="2.57" fill="#0098E4"/>
<rect x="426.68" y="117.75" width="0.52" height="2.57" fill="#E6FF00"/>
<rect x="370.80" y="119.32" width="54.33" height="2.57" fill="#FF984C"/>
<rect x="425.13" y="119.32" width="2.07" height="2.57" fill="#E6FF00"/>
<rect x="370.80" y="120.88" width="49.36" height="2.57" fill="#FF984C"/>
<rect x="420.16" y="120.88" width="6.50" height="2.57" fill="#0098E4"/>
<rect x="426.66" y="120.88" width="0.54" height="2.57" fill="#FF96E6"/>
<rect x="370.80" y="122.45" width="52.85" height="2.57" fill="#FF984C"/>
<rect x="423.65" y="122.45" width="3.10" height="2.57" fill="#E6FF00"/>
<rect x="426.75" y="122.45" width="0.45" height="2.57" fill="#FF96E6"/>
<rect x="370.80" y="124.01" width="52.02" height="2.57" fill="#FF984C"/>
<rect x="422.82" y="124.01" width="3.08" height="2.57" fill="#0098E4"/>
<rect x="425.90" y="124.01" width="1.30" height="2.57" fill="#E6FF00"/>
<rect x="370.80" y="125.58" width="55.61" height="2.57" fill="#FF984C"/>
<rect x="426.41" y="125.58" width="0.79" height="2.57" fill="#E6FF00"/>
<rect x="370.80" y="127.15" width="51.05" height="2.57" fill="#FF984C"/>
<rect x="421.85" y="127.15" width="5.03" height="2.57" fill="#E6FF00"/>
<rect x="426.87" y="127.15" width="0.33" height="2.57" fill="#FF96E6"/>
<rect x="370.80" y="128.71" width="55.94" height="2.57" fill="#FF984C"/>
<rect x="426.74" y="128.71" width="0.46" height="2.57" fill="#0098E4"/>
<rect x="370.80" y="130.28" width="47.34" height="2.57" fill="#FF984C"/>
<rect x="418.14" y="130.28" width="8.09" height="2.57" fill="#0098E4"/>
<rect x="426.24" y="130.28" width="0.63" height="2.57" fill="#E6FF00"/>
<rect x="426.87" y="130.28" width="0.33" height="2.57" fill="#FF96E6"/>
<rect x="370.80" y="131.84" width="54.56" height="2.57" fill="#FF984C"/>
<rect x="425.36" y="131.84" width="1.84" height="2.57" fill="#E6FF00"/>
<rect x="370.80" y="133.41" width="56.39" height="2.57" fill="#FF984C"/>
<rect x="370.80" y="134.98" width="56.40" height="2.57" fill="#FF984C"/>
<rect x="370.80" y="136.54" width="49.97" height="2.57" fill="#FF984C"/>
<rect x="420.77" y="136.54" width="1.81" height="2.57" fill="#0098E4"/>
<rect x="422.59" y="136.54" width="2.58" height="2.57" fill="#E6FF00"/>
<rect x="425.17" y="136.54" width="2.03" height="2.57" fill="#FF96E6"/>
<rect x="370.80" y="138.11" width="53.28" height="2.57" fill="#FF984C"/>
<rect x="424.08" y="138.11" width="0.42" height="2.57" fill="#0098E4"/>
<rect x="424.51" y="138.11" width="2.69" height="2.57" fill="#E6FF00"/>
<rect x="370.80" y="139.67" width="48.11" height="2.57" fill="#FF984C"/>
<rect x="418.91" y="139.67" width="5.11" height="2.57" fill="#0098E4"/>
<rect x="424.02" y="139.67" width="3.04" height="2.57" fill="#E6FF00"/>
<rect x="427.06" y="139.67" width="0.14" height="2.57" fill="#FF96E6"/>
<rect x="370.80" y="141.24" width="49.16" height="2.57" fill="#FF984C"/>
<rect x="419.96" y="141.24" width="3.98" height="2.57" fill="#0098E4"/>
<rect x="423.94" y="141.24" width="2.14" height="2.57" fill="#E6FF00"/>
<rect x="426.08" y="141.24" width="1.12" height="2.57" fill="#FF96E6"/>
<rect x="370.80" y="142.81" width="55.69" height="2.57" fill="#FF984C"/>
<rect x="426.49" y="142.81" width="0.71" height="2.57" fill="#0098E4"/>
<rect x="370.80" y="144.37" width="51.24" height="2.57" fill="#FF984C"/>
<rect x="422.04" y="144.37" width="2.04" height="2.57" fill="#0098E4"/>
<rect x="424.08" y="144.37" width="2.45" height="2.57" fill="#E6FF00"/>
<rect x="426.53" y="144.37" width="0.67" height="2.57" fill="#FF96E6"/>
<rect x="370.80" y="145.94" width="52.18" height="2.57" fill="#FF984C"/>
<rect x="422.98" y="145.94" width="3.45" height="2.57" fill="#E6FF00"/>
<rect x="426.43" y="145.94" width="0.77" height="2.57" fill="#FF96E6"/>
<rect x="370.80" y="147.50" width="55.62" height="2.57" fill="#FF984C"/>
<rect x="426.42" y="147.50" width="0.78" height="2.57" fill="#0098E4"/>
<rect x="370.80" y="149.07" width="46.94" height="2.57" fill="#FF984C"/>
<rect x="417.74" y="149.07" width="0.52" height="2.57" fill="#0098E4"/>
<rect x="418.26" y="149.07" width="8.50" height="2.57" fill="#E6FF00"/>
<rect x="426.76" y="149.07" width="0.44" height="2.57" fill="#FF96E6"/>
<rect x="370.80" y="150.64" width="53.61" height="2.57" fill="#FF984C"/>
<rect x="424.41" y="150.64" width="2.57" height="2.57" fill="#0098E4"/>
<rect x="426.98" y="150.64" width="0.22" height="2.57" fill="#E6FF00"/>
<rect x="370.80" y="152.20" width="55.42" height="2.57" fill="#FF984C"/>
<rect x="426.22" y="152.20" width="0.97" height="2.57" fill="#E6FF00"/>
<rect x="370.80" y="153.77" width="52.01" height="2.57" fill="#FF984C"/>
<rect x="422.81" y="153.77" width="2.92" height="2.57" fill="#0098E4"/>
<rect x="425.73" y="153.77" width="0.85" height="2.57" fill="#E6FF00"/>
<rect x="426.58" y="153.77" width="0.62" height="2.57" fill="#FF96E6"/>
<rect x="370.80" y="155.33" width="52.73" height="2.57" fill="#FF984C"/>
<rect x="423.53" y="155.33" width="0.32" height="2.57" fill="#0098E4"/>
<rect x="423.85" y="155.33" width="0.56" height="2.57" fill="#E6FF00"/>
<rect x="424.41" y="155.33" width="2.79" height="2.57" fill="#FF96E6"/>
<rect x="370.80" y="156.90" width="44.39" height="2.57" fill="#FF984C"/>
<rect x="415.19" y="156.90" width="8.93" height="2.57" fill="#0098E4"/>
<rect x="424.12" y="156.90" width="3.08" height="2.57" fill="#E6FF00"/>
<rect x="370.80" y="158.47" width="50.39" height="2.57" fill="#FF984C"/>
<rect x="421.19" y="158.47" width="0.73" height="2.57" fill="#0098E4"/>
<rect x="421.93" y="158.47" width="4.96" height="2.57" fill="#E6FF00"/>
<rect x="426.88" y="158.47" width="0.32" height="2.57" fill="#FF96E6"/>
<rect x="370.80" y="160.03" width="51.76" height="2.57" fill="#FF984C"/>
<rect x="422.56" y="160.03" width="2.95" height="2.57" fill="#E6FF00"/>
<rect x="425.51" y="160.03" width="1.69" height="2.57" fill="#FF96E6"/>
<rect x="370.80" y="161.60" width="53.90" height="2.57" fill="#FF984C"/>
<rect x="424.70" y="161.60" width="1.11" height="2.57" fill="#E6FF00"/>
<rect x="425.81" y="161.60" width="1.39" height="2.57" fill="#FF96E6"/>
<rect x="370.80" y="163.17" width="51.07" height="2.57" fill="#FF984C"/>
<rect x="421.87" y="163.17" width="1.87" height="2.57" fill="#0098E4"/>
<rect x="423.74" y="163.17" width="3.46" height="2.57" fill="#E6FF00"/>
<rect x="370.80" y="164.73" width="51.42" height="2.57" fill="#FF984C"/>
<rect x="422.22" y="164.73" width="4.98" height="2.57" fill="#E6FF00"/>
<rect x="370.80" y="166.30" width="53.66" height="2.57" fill="#FF984C"/>
<rect x="424.46" y="166.30" width="2.74" height="2.57" fill="#FF96E6"/>
<rect x="370.80" y="167.87" width="54.00" height="2.57" fill="#FF984C"/>
<rect x="424.80" y="167.87" width="2.40" height="2.57" fill="#E6FF00"/>
<rect x="370.80" y="169.43" width="53.05" height="2.57" fill="#FF984C"/>
<rect x="423.85" y="169.43" width="3.35" height="2.57" fill="#E6FF00"/>
<rect x="370.80" y="171.00" width="51.49" height="2.57" fill="#FF984C"/>
<rect x="422.29" y="171.00" width="4.20" height="2.57" fill="#E6FF00"/>
<rect x="426.49" y="171.00" width="0.71" height="2.57" fill="#FF96E6"/>
<rect x="370.80" y="172.57" width="53.17" height="2.57" fill="#FF984C"/>
<rect x="423.97" y="172.57" width="2.78" height="2.57" fill="#E6FF00"/>
<rect x="426.76" y="172.57" width="0.44" height="2.57" fill="#FF96E6"/>
<rect x="370.80" y="174.13" width="40.87" height="2.57" fill="#FF984C"/>
<rect x="411.67" y="174.13" width="4.54" height="2.57" fill="#0098E4"/>
<rect x="416.21" y="174.13" width="6.55" height="2.57" fill="#E6FF00"/>
<rect x="422.77" y="174.13" width="4.43" height="2.57" fill="#FF96E6"/>
<rect x="370.80" y="175.70" width="52.68" height="2.57" fill="#FF984C"/>
<rect x="423.48" y="175.70" width="0.16" height="2.57" fill="#0098E4"/>
<rect x="423.63" y="175.70" width="2.34" height="2.57" fill="#E6FF00"/>
<rect x="425.97" y="175.70" width="1.23" height="2.57" fill="#FF96E6"/>
<rect x="370.80" y="177.27" width="56.24" height="2.57" fill="#FF984C"/>
<rect x="427.04" y="177.27" width="0.16" height="2.57" fill="#E6FF00"/>
<rect x="370.80" y="178.83" width="52.17" height="2.57" fill="#FF984C"/>
<rect x="422.97" y="178.83" width="1.32" height="2.57" fill="#0098E4"/>
<rect x="424.29" y="178.83" width="2.91" height="2.57" fill="#E6FF00"/>
<rect x="370.80" y="180.40" width="55.58" height="2.57" fill="#FF984C"/>
<rect x="426.38" y="180.40" width="0.82" height="2.57" fill="#FF96E6"/>
<rect x="370.80" y="181.97" width="53.52" height="2.57" fill="#FF984C"/>
<rect x="424.32" y="181.97" width="2.88" height="2.57" fill="#E6FF00"/>
<rect x="370.80" y="183.53" width="40.36" height="2.57" fill="#FF984C"/>
<rect x="411.16" y="183.53" width="0.60" height="2.57" fill="#0098E4"/>
<rect x="411.76" y="183.53" width="6.36" height="2.57" fill="#E6FF00"/>
<rect x="418.12" y="183.53" width="9.08" height="2.57" fill="#FF96E6"/>
<rect x="370.80" y="185.10" width="52.38" height="2.57" fill="#FF984C"/>
<rect x="423.18" y="185.10" width="4.02" height="2.57" fill="#E6FF00"/>
<rect x="370.80" y="186.67" width="51.99" height="2.57" fill="#FF984C"/>
<rect x="422.79" y="186.67" width="4.41" height="2.57" fill="#E6FF00"/>
<rect x="370.80" y="188.23" width="52.91" height="2.57" fill="#FF984C"/>
<rect x="423.71" y="188.23" width="1.89" height="2.57" fill="#0098E4"/>
<rect x="425.60" y="188.23" width="1.60" height="2.57" fill="#E6FF00"/>
<rect x="370.80" y="189.80" width="53.03" height="2.57" fill="#FF984C"/>
<rect x="423.83" y="189.80" width="3.37" height="2.57" fill="#E6FF00"/>
<rect x="370.80" y="191.37" width="45.90" height="2.57" fill="#FF984C"/>
<rect x="416.70" y="191.37" width="8.59" height="2.57" fill="#E6FF00"/>
<rect x="425.30" y="191.37" width="1.90" height="2.57" fill="#FF96E6"/>
<rect x="370.80" y="192.93" width="54.09" height="2.57" fill="#FF984C"/>
<rect x="424.89" y="192.93" width="2.31" height="2.57" fill="#E6FF00"/>
<rect x="370.80" y="194.50" width="52.49" height="2.20" fill="#FF984C"/>
<rect x="423.29" y="194.50" width="3.87" height="2.20" fill="#0098E4"/>
<rect x="370.80" y="195.70" width="50.41" height="2.90" fill="#FF984C"/>
<rect x="421.21" y="195.70" width="4.30" height="2.90" fill="#0098E4"/>
<rect x="425.52" y="195.70" width="1.68" height="2.90" fill="#E6FF00"/>
<rect x="370.80" y="197.60" width="51.83" height="2.55" fill="#FF984C"/>
<rect x="422.63" y="197.60" width="3.99" height="2.55" fill="#0098E4"/>
<rect x="426.61" y="197.60" width="0.59" height="2.55" fill="#E6FF00"/>
<rect x="370.80" y="199.15" width="52.89" height="2.55" fill="#FF984C"/>
<rect x="423.69" y="199.15" width="2.25" height="2.55" fill="#E6FF00"/>
<rect x="425.94" y="199.15" width="1.26" height="2.55" fill="#FF96E6"/>
<rect x="370.80" y="200.70" width="54.41" height="2.70" fill="#FF984C"/>
<rect x="425.21" y="200.70" width="1.71" height="2.70" fill="#0098E4"/>
<rect x="426.92" y="200.70" width="0.28" height="2.70" fill="#FF96E6"/>
<rect x="370.80" y="202.40" width="54.19" height="2.40" fill="#FF984C"/>
<rect x="424.99" y="202.40" width="2.21" height="2.40" fill="#0098E4"/>
<rect x="370.80" y="203.80" width="55.22" height="2.40" fill="#FF984C"/>
<rect x="426.02" y="203.80" width="0.25" height="2.40" fill="#0098E4"/>
<rect x="426.28" y="203.80" width="0.92" height="2.40" fill="#FF96E6"/>
<rect x="370.80" y="205.20" width="56.39" height="3.10" fill="#FF984C"/>
<rect x="370.80" y="207.30" width="24.52" height="2.56" fill="#E6FF00"/>
<rect x="395.32" y="207.30" width="31.88" height="2.56" fill="#FF96E6"/>
<rect x="370.80" y="208.86" width="0.51" height="2.56" fill="#FF984C"/>
<rect x="371.31" y="208.86" width="2.93" height="2.56" fill="#0098E4"/>
<rect x="374.24" y="208.86" width="12.72" height="2.56" fill="#E6FF00"/>
<rect x="386.96" y="208.86" width="40.24" height="2.56" fill="#FF96E6"/>
<rect x="370.80" y="210.42" width="0.70" height="2.56" fill="#FF984C"/>
<rect x="371.50" y="210.42" width="17.60" height="2.56" fill="#0098E4"/>
<rect x="389.10" y="210.42" width="13.39" height="2.56" fill="#E6FF00"/>
<rect x="402.49" y="210.42" width="24.71" height="2.56" fill="#FF96E6"/>
<rect x="370.80" y="211.98" width="12.44" height="2.56" fill="#0098E4"/>
<rect x="383.24" y="211.98" width="12.43" height="2.56" fill="#E6FF00"/>
<rect x="395.67" y="211.98" width="31.53" height="2.56" fill="#FF96E6"/>
<rect x="370.80" y="213.54" width="18.23" height="2.56" fill="#0098E4"/>
<rect x="389.03" y="213.54" width="15.31" height="2.56" fill="#E6FF00"/>
<rect x="404.35" y="213.54" width="22.85" height="2.56" fill="#FF96E6"/>
<rect x="370.80" y="215.10" width="17.49" height="2.56" fill="#0098E4"/>
<rect x="388.29" y="215.10" width="17.20" height="2.56" fill="#E6FF00"/>
<rect x="405.49" y="215.10" width="21.71" height="2.56" fill="#FF96E6"/>
<rect x="370.80" y="216.66" width="0.43" height="2.56" fill="#FF984C"/>
<rect x="371.23" y="216.66" width="15.81" height="2.56" fill="#0098E4"/>
<rect x="387.04" y="216.66" width="11.60" height="2.56" fill="#E6FF00"/>
<rect x="398.64" y="216.66" width="28.56" height="2.56" fill="#FF96E6"/>
<rect x="370.80" y="218.22" width="10.41" height="2.56" fill="#0098E4"/>
<rect x="381.21" y="218.22" width="16.55" height="2.56" fill="#E6FF00"/>
<rect x="397.77" y="218.22" width="29.43" height="2.56" fill="#FF96E6"/>
<rect x="370.80" y="219.78" width="1.45" height="2.56" fill="#FF984C"/>
<rect x="372.25" y="219.78" width="14.39" height="2.56" fill="#0098E4"/>
<rect x="386.63" y="219.78" width="17.78" height="2.56" fill="#E6FF00"/>
<rect x="404.41" y="219.78" width="22.79" height="2.56" fill="#FF96E6"/>
<rect x="370.80" y="221.34" width="0.31" height="2.56" fill="#FF984C"/>
<rect x="371.11" y="221.34" width="15.80" height="2.56" fill="#0098E4"/>
<rect x="386.91" y="221.34" width="9.99" height="2.56" fill="#E6FF00"/>
<rect x="396.91" y="221.34" width="30.29" height="2.56" fill="#FF96E6"/>
<rect x="370.80" y="222.90" width="0.49" height="2.57" fill="#FF984C"/>
<rect x="371.29" y="222.90" width="21.43" height="2.57" fill="#0098E4"/>
<rect x="392.72" y="222.90" width="34.48" height="2.57" fill="#E6FF00"/>
<rect x="370.80" y="224.47" width="2.69" height="2.57" fill="#FF984C"/>
<rect x="373.49" y="224.47" width="18.39" height="2.57" fill="#0098E4"/>
<rect x="391.87" y="224.47" width="32.51" height="2.57" fill="#E6FF00"/>
<rect x="424.39" y="224.47" width="2.81" height="2.57" fill="#FF96E6"/>
<rect x="370.80" y="226.05" width="18.13" height="2.57" fill="#0098E4"/>
<rect x="388.93" y="226.05" width="35.01" height="2.57" fill="#E6FF00"/>
<rect x="423.94" y="226.05" width="3.26" height="2.57" fill="#FF96E6"/>
<rect x="370.80" y="227.62" width="1.52" height="2.57" fill="#FF984C"/>
<rect x="372.32" y="227.62" width="16.79" height="2.57" fill="#0098E4"/>
<rect x="389.10" y="227.62" width="28.55" height="2.57" fill="#E6FF00"/>
<rect x="417.66" y="227.62" width="9.54" height="2.57" fill="#FF96E6"/>
<rect x="370.80" y="229.20" width="24.05" height="2.57" fill="#0098E4"/>
<rect x="394.85" y="229.20" width="32.35" height="2.57" fill="#E6FF00"/>
<rect x="370.80" y="230.77" width="25.24" height="2.57" fill="#0098E4"/>
<rect x="396.04" y="230.77" width="28.54" height="2.57" fill="#E6FF00"/>
<rect x="424.58" y="230.77" width="2.62" height="2.57" fill="#FF96E6"/>
<rect x="370.80" y="232.34" width="29.24" height="2.57" fill="#0098E4"/>
<rect x="400.04" y="232.34" width="24.25" height="2.57" fill="#E6FF00"/>
<rect x="424.29" y="232.34" width="2.91" height="2.57" fill="#FF96E6"/>
<rect x="370.80" y="233.92" width="1.37" height="2.57" fill="#FF984C"/>
<rect x="372.17" y="233.92" width="18.18" height="2.57" fill="#0098E4"/>
<rect x="390.35" y="233.92" width="34.76" height="2.57" fill="#E6FF00"/>
<rect x="425.11" y="233.92" width="2.09" height="2.57" fill="#FF96E6"/>
<rect x="370.80" y="235.49" width="21.75" height="2.57" fill="#0098E4"/>
<rect x="392.55" y="235.49" width="34.65" height="2.57" fill="#E6FF00"/>
<rect x="370.80" y="237.07" width="0.11" height="2.57" fill="#FF984C"/>
<rect x="370.91" y="237.07" width="21.81" height="2.57" fill="#0098E4"/>
<rect x="392.72" y="237.07" width="30.08" height="2.57" fill="#E6FF00"/>
<rect x="422.80" y="237.07" width="4.40" height="2.57" fill="#FF96E6"/>
<rect x="370.80" y="238.64" width="1.41" height="2.57" fill="#FF984C"/>
<rect x="372.21" y="238.64" width="27.42" height="2.57" fill="#0098E4"/>
<rect x="399.63" y="238.64" width="25.39" height="2.57" fill="#E6FF00"/>
<rect x="425.03" y="238.64" width="2.17" height="2.57" fill="#FF96E6"/>
<rect x="370.80" y="240.21" width="2.27" height="2.57" fill="#FF984C"/>
<rect x="373.07" y="240.21" width="17.69" height="2.57" fill="#0098E4"/>
<rect x="390.76" y="240.21" width="24.04" height="2.57" fill="#E6FF00"/>
<rect x="414.80" y="240.21" width="12.40" height="2.57" fill="#FF96E6"/>
<rect x="370.80" y="241.79" width="18.13" height="2.57" fill="#0098E4"/>
<rect x="388.93" y="241.79" width="33.12" height="2.57" fill="#E6FF00"/>
<rect x="422.05" y="241.79" width="5.15" height="2.57" fill="#FF96E6"/>
<rect x="370.80" y="243.36" width="9.34" height="2.57" fill="#FF984C"/>
<rect x="380.14" y="243.36" width="1.82" height="2.57" fill="#0098E4"/>
<rect x="381.96" y="243.36" width="39.61" height="2.57" fill="#E6FF00"/>
<rect x="421.57" y="243.36" width="5.63" height="2.57" fill="#FF96E6"/>
<rect x="370.80" y="244.94" width="7.88" height="2.57" fill="#FF984C"/>
<rect x="378.68" y="244.94" width="20.37" height="2.57" fill="#0098E4"/>
<rect x="399.05" y="244.94" width="24.52" height="2.57" fill="#E6FF00"/>
<rect x="423.56" y="244.94" width="3.64" height="2.57" fill="#FF96E6"/>
<rect x="370.80" y="246.51" width="5.19" height="2.57" fill="#FF984C"/>
<rect x="375.99" y="246.51" width="16.54" height="2.57" fill="#0098E4"/>
<rect x="392.53" y="246.51" width="24.06" height="2.57" fill="#E6FF00"/>
<rect x="416.59" y="246.51" width="10.61" height="2.57" fill="#FF96E6"/>
<rect x="370.80" y="248.08" width="6.19" height="2.57" fill="#FF984C"/>
<rect x="376.99" y="248.08" width="22.64" height="2.57" fill="#0098E4"/>
<rect x="399.63" y="248.08" width="25.84" height="2.57" fill="#E6FF00"/>
<rect x="425.47" y="248.08" width="1.73" height="2.57" fill="#FF96E6"/>
<rect x="370.80" y="249.66" width="23.04" height="2.57" fill="#0098E4"/>
<rect x="393.84" y="249.66" width="31.80" height="2.57" fill="#E6FF00"/>
<rect x="425.65" y="249.66" width="1.55" height="2.57" fill="#FF96E6"/>
<rect x="370.80" y="251.23" width="20.05" height="2.57" fill="#0098E4"/>
<rect x="390.85" y="251.23" width="29.41" height="2.57" fill="#E6FF00"/>
<rect x="420.26" y="251.23" width="6.94" height="2.57" fill="#FF96E6"/>
<rect x="370.80" y="252.81" width="0.98" height="2.57" fill="#FF984C"/>
<rect x="371.78" y="252.81" width="15.18" height="2.57" fill="#0098E4"/>
<rect x="386.96" y="252.81" width="38.12" height="2.57" fill="#E6FF00"/>
<rect x="425.08" y="252.81" width="2.12" height="2.57" fill="#FF96E6"/>
<rect x="370.80" y="254.38" width="0.96" height="2.57" fill="#FF984C"/>
<rect x="371.76" y="254.38" width="21.18" height="2.57" fill="#0098E4"/>
<rect x="392.94" y="254.38" width="34.26" height="2.57" fill="#E6FF00"/>
<rect x="370.80" y="255.95" width="16.22" height="2.57" fill="#0098E4"/>
<rect x="387.02" y="255.95" width="29.39" height="2.57" fill="#E6FF00"/>
<rect x="416.40" y="255.95" width="10.80" height="2.57" fill="#FF96E6"/>
<rect x="370.80" y="257.53" width="4.65" height="2.57" fill="#FF984C"/>
<rect x="375.45" y="257.53" width="24.07" height="2.57" fill="#0098E4"/>
<rect x="399.52" y="257.53" width="24.17" height="2.57" fill="#E6FF00"/>
<rect x="423.69" y="257.53" width="3.51" height="2.57" fill="#FF96E6"/>
<rect x="370.80" y="259.10" width="1.40" height="2.57" fill="#FF984C"/>
<rect x="372.20" y="259.10" width="19.38" height="2.57" fill="#0098E4"/>
<rect x="391.57" y="259.10" width="33.51" height="2.57" fill="#E6FF00"/>
<rect x="425.08" y="259.10" width="2.12" height="2.57" fill="#FF96E6"/>
<rect x="370.80" y="260.68" width="0.55" height="2.57" fill="#FF984C"/>
<rect x="371.35" y="260.68" width="14.68" height="2.57" fill="#0098E4"/>
<rect x="386.04" y="260.68" width="30.48" height="2.57" fill="#E6FF00"/>
<rect x="416.51" y="260.68" width="10.69" height="2.57" fill="#FF96E6"/>
<rect x="370.80" y="262.25" width="1.40" height="2.57" fill="#FF984C"/>
<rect x="372.20" y="262.25" width="35.78" height="2.57" fill="#0098E4"/>
<rect x="407.98" y="262.25" width="17.98" height="2.57" fill="#E6FF00"/>
<rect x="425.96" y="262.25" width="1.24" height="2.57" fill="#FF96E6"/>
<rect x="370.80" y="263.82" width="2.30" height="2.57" fill="#FF984C"/>
<rect x="373.10" y="263.82" width="22.92" height="2.57" fill="#0098E4"/>
<rect x="396.02" y="263.82" width="26.24" height="2.57" fill="#E6FF00"/>
<rect x="422.26" y="263.82" width="4.94" height="2.57" fill="#FF96E6"/>
<rect x="370.80" y="265.39" width="6.49" height="2.57" fill="#FF984C"/>
<rect x="377.29" y="265.39" width="15.80" height="2.57" fill="#0098E4"/>
<rect x="393.09" y="265.39" width="34.11" height="2.57" fill="#E6FF00"/>
<rect x="370.80" y="266.96" width="17.36" height="2.57" fill="#0098E4"/>
<rect x="388.16" y="266.96" width="37.40" height="2.57" fill="#E6FF00"/>
<rect x="425.55" y="266.96" width="1.65" height="2.57" fill="#FF96E6"/>
<rect x="370.80" y="268.53" width="1.98" height="2.57" fill="#FF984C"/>
<rect x="372.78" y="268.53" width="18.30" height="2.57" fill="#0098E4"/>
<rect x="391.08" y="268.53" width="35.63" height="2.57" fill="#E6FF00"/>
<rect x="426.71" y="268.53" width="0.49" height="2.57" fill="#FF96E6"/>
<rect x="370.80" y="270.10" width="2.41" height="2.57" fill="#FF984C"/>
<rect x="373.21" y="270.10" width="25.39" height="2.57" fill="#0098E4"/>
<rect x="398.60" y="270.10" width="28.60" height="2.57" fill="#E6FF00"/>
<rect x="370.80" y="271.67" width="23.98" height="2.57" fill="#0098E4"/>
<rect x="394.78" y="271.67" width="31.54" height="2.57" fill="#E6FF00"/>
<rect x="426.32" y="271.67" width="0.88" height="2.57" fill="#FF96E6"/>
<rect x="370.80" y="273.24" width="28.12" height="2.57" fill="#0098E4"/>
<rect x="398.92" y="273.24" width="28.28" height="2.57" fill="#E6FF00"/>
<rect x="370.80" y="274.81" width="24.16" height="2.57" fill="#0098E4"/>
<rect x="394.96" y="274.81" width="32.01" height="2.57" fill="#E6FF00"/>
<rect x="426.97" y="274.81" width="0.23" height="2.57" fill="#FF96E6"/>
<rect x="370.80" y="276.38" width="30.25" height="2.57" fill="#0098E4"/>
<rect x="401.05" y="276.38" width="25.77" height="2.57" fill="#E6FF00"/>
<rect x="426.82" y="276.38" width="0.38" height="2.57" fill="#FF96E6"/>
<rect x="370.80" y="277.95" width="24.63" height="2.57" fill="#0098E4"/>
<rect x="395.43" y="277.95" width="31.77" height="2.57" fill="#E6FF00"/>
<rect x="370.80" y="279.52" width="12.20" height="2.57" fill="#0098E4"/>
<rect x="383.00" y="279.52" width="42.28" height="2.57" fill="#E6FF00"/>
<rect x="425.28" y="279.52" width="1.92" height="2.57" fill="#FF96E6"/>
<rect x="370.80" y="281.09" width="14.14" height="2.57" fill="#0098E4"/>
<rect x="384.94" y="281.09" width="42.26" height="2.57" fill="#E6FF00"/>
<rect x="370.80" y="282.66" width="56.40" height="2.57" fill="#E6FF00"/>
<rect x="370.80" y="284.23" width="1.74" height="2.57" fill="#FF984C"/>
<rect x="372.54" y="284.23" width="14.06" height="2.57" fill="#0098E4"/>
<rect x="386.60" y="284.23" width="38.00" height="2.57" fill="#E6FF00"/>
<rect x="424.60" y="284.23" width="2.60" height="2.57" fill="#FF96E6"/>
<rect x="370.80" y="285.80" width="10.31" height="2.57" fill="#0098E4"/>
<rect x="381.11" y="285.80" width="37.50" height="2.57" fill="#E6FF00"/>
<rect x="418.61" y="285.80" width="8.59" height="2.57" fill="#FF96E6"/>
<rect x="370.80" y="287.37" width="22.47" height="2.57" fill="#0098E4"/>
<rect x="393.27" y="287.37" width="33.18" height="2.57" fill="#E6FF00"/>
<rect x="426.45" y="287.37" width="0.75" height="2.57" fill="#FF96E6"/>
<rect x="370.80" y="288.94" width="24.95" height="2.57" fill="#0098E4"/>
<rect x="395.75" y="288.94" width="31.45" height="2.57" fill="#E6FF00"/>
<rect x="370.80" y="290.51" width="4.72" height="2.57" fill="#FF984C"/>
<rect x="375.52" y="290.51" width="15.41" height="2.57" fill="#0098E4"/>
<rect x="390.93" y="290.51" width="36.27" height="2.57" fill="#E6FF00"/>
<rect x="370.80" y="292.08" width="10.31" height="2.57" fill="#FF984C"/>
<rect x="381.11" y="292.08" width="15.90" height="2.57" fill="#0098E4"/>
<rect x="397.01" y="292.08" width="28.38" height="2.57" fill="#E6FF00"/>
<rect x="425.38" y="292.08" width="1.82" height="2.57" fill="#FF96E6"/>
<rect x="370.80" y="293.65" width="2.86" height="2.57" fill="#FF984C"/>
<rect x="373.66" y="293.65" width="18.14" height="2.57" fill="#0098E4"/>
<rect x="391.80" y="293.65" width="34.41" height="2.57" fill="#E6FF00"/>
<rect x="426.21" y="293.65" width="0.99" height="2.57" fill="#FF96E6"/>
<rect x="370.80" y="295.22" width="14.74" height="2.57" fill="#0098E4"/>
<rect x="385.54" y="295.22" width="41.66" height="2.57" fill="#E6FF00"/>
<rect x="370.80" y="296.79" width="12.09" height="2.57" fill="#0098E4"/>
<rect x="382.89" y="296.79" width="44.31" height="2.57" fill="#E6FF00"/>
<rect x="370.80" y="298.36" width="23.15" height="2.57" fill="#0098E4"/>
<rect x="393.95" y="298.36" width="33.08" height="2.57" fill="#E6FF00"/>
<rect x="427.03" y="298.36" width="0.17" height="2.57" fill="#FF96E6"/>
<rect x="370.80" y="299.93" width="2.99" height="2.57" fill="#FF984C"/>
<rect x="373.79" y="299.93" width="20.86" height="2.57" fill="#0098E4"/>
<rect x="394.65" y="299.93" width="32.55" height="2.57" fill="#E6FF00"/>
<rect x="370.80" y="301.50" width="1.78" height="2.58" fill="#FF984C"/>
<rect x="372.58" y="301.50" width="21.76" height="2.58" fill="#0098E4"/>
<rect x="394.35" y="301.50" width="24.47" height="2.58" fill="#E6FF00"/>
<rect x="418.82" y="301.50" width="8.38" height="2.58" fill="#FF96E6"/>
<rect x="370.80" y="303.08" width="14.56" height="2.58" fill="#0098E4"/>
<rect x="385.36" y="303.08" width="31.18" height="2.58" fill="#E6FF00"/>
<rect x="416.54" y="303.08" width="10.66" height="2.58" fill="#FF96E6"/>
<rect x="370.80" y="304.66" width="10.13" height="2.58" fill="#0098E4"/>
<rect x="380.93" y="304.66" width="33.80" height="2.58" fill="#E6FF00"/>
<rect x="414.72" y="304.66" width="12.48" height="2.58" fill="#FF96E6"/>
<rect x="370.80" y="306.24" width="0.76" height="2.58" fill="#FF984C"/>
<rect x="371.56" y="306.24" width="24.67" height="2.58" fill="#0098E4"/>
<rect x="396.23" y="306.24" width="20.33" height="2.58" fill="#E6FF00"/>
<rect x="416.56" y="306.24" width="10.64" height="2.58" fill="#FF96E6"/>
<rect x="370.80" y="307.82" width="0.20" height="2.58" fill="#FF984C"/>
<rect x="371.00" y="307.82" width="15.23" height="2.58" fill="#0098E4"/>
<rect x="386.22" y="307.82" width="26.59" height="2.58" fill="#E6FF00"/>
<rect x="412.81" y="307.82" width="14.39" height="2.58" fill="#FF96E6"/>
<rect x="370.80" y="309.40" width="8.82" height="2.58" fill="#0098E4"/>
<rect x="379.62" y="309.40" width="27.67" height="2.58" fill="#E6FF00"/>
<rect x="407.28" y="309.40" width="19.92" height="2.58" fill="#FF96E6"/>
<rect x="370.80" y="310.98" width="24.36" height="2.58" fill="#0098E4"/>
<rect x="395.16" y="310.98" width="31.82" height="2.58" fill="#E6FF00"/>
<rect x="426.98" y="310.98" width="0.22" height="2.58" fill="#FF96E6"/>
<rect x="370.80" y="312.56" width="0.12" height="2.58" fill="#FF984C"/>
<rect x="370.92" y="312.56" width="11.18" height="2.58" fill="#0098E4"/>
<rect x="382.10" y="312.56" width="28.51" height="2.58" fill="#E6FF00"/>
<rect x="410.61" y="312.56" width="16.59" height="2.58" fill="#FF96E6"/>
<rect x="370.80" y="314.14" width="12.28" height="2.58" fill="#FF984C"/>
<rect x="383.08" y="314.14" width="17.04" height="2.58" fill="#0098E4"/>
<rect x="400.12" y="314.14" width="27.08" height="2.58" fill="#E6FF00"/>
<rect x="370.80" y="315.72" width="18.19" height="2.58" fill="#0098E4"/>
<rect x="388.99" y="315.72" width="18.83" height="2.58" fill="#E6FF00"/>
<rect x="407.82" y="315.72" width="19.38" height="2.58" fill="#FF96E6"/>
<rect x="370.80" y="317.30" width="16.83" height="2.58" fill="#0098E4"/>
<rect x="387.63" y="317.30" width="39.57" height="2.58" fill="#E6FF00"/>
<rect x="370.80" y="318.88" width="8.77" height="2.58" fill="#0098E4"/>
<rect x="379.57" y="318.88" width="30.71" height="2.58" fill="#E6FF00"/>
<rect x="410.27" y="318.88" width="16.93" height="2.58" fill="#FF96E6"/>
<rect x="370.80" y="320.46" width="25.02" height="2.58" fill="#0098E4"/>
<rect x="395.82" y="320.46" width="24.15" height="2.58" fill="#E6FF00"/>
<rect x="419.97" y="320.46" width="7.23" height="2.58" fill="#FF96E6"/>
<rect x="370.80" y="322.04" width="4.79" height="2.58" fill="#FF984C"/>
<rect x="375.59" y="322.04" width="16.91" height="2.58" fill="#0098E4"/>
<rect x="392.50" y="322.04" width="29.23" height="2.58" fill="#E6FF00"/>
<rect x="421.73" y="322.04" width="5.47" height="2.58" fill="#FF96E6"/>
<rect x="370.80" y="323.62" width="15.60" height="2.58" fill="#0098E4"/>
<rect x="386.40" y="323.62" width="26.32" height="2.58" fill="#E6FF00"/>
<rect x="412.72" y="323.62" width="14.48" height="2.58" fill="#FF96E6"/>
<rect x="370.80" y="325.20" width="2.23" height="2.58" fill="#FF984C"/>
<rect x="373.03" y="325.20" width="19.26" height="2.58" fill="#0098E4"/>
<rect x="392.29" y="325.20" width="22.91" height="2.58" fill="#E6FF00"/>
<rect x="415.20" y="325.20" width="12.00" height="2.58" fill="#FF96E6"/>
<rect x="370.80" y="326.78" width="2.09" height="2.58" fill="#FF984C"/>
<rect x="372.89" y="326.78" width="13.77" height="2.58" fill="#0098E4"/>
<rect x="386.66" y="326.78" width="17.91" height="2.58" fill="#E6FF00"/>
<rect x="404.56" y="326.78" width="22.64" height="2.58" fill="#FF96E6"/>
<rect x="370.80" y="328.36" width="1.50" height="2.58" fill="#FF984C"/>
<rect x="372.30" y="328.36" width="16.27" height="2.58" fill="#0098E4"/>
<rect x="388.58" y="328.36" width="20.57" height="2.58" fill="#E6FF00"/>
<rect x="409.15" y="328.36" width="18.05" height="2.58" fill="#FF96E6"/>
<rect x="370.80" y="329.94" width="18.12" height="2.58" fill="#0098E4"/>
<rect x="388.92" y="329.94" width="30.84" height="2.58" fill="#E6FF00"/>
<rect x="419.76" y="329.94" width="7.44" height="2.58" fill="#FF96E6"/>
<rect x="370.80" y="331.52" width="1.82" height="2.58" fill="#FF984C"/>
<rect x="372.62" y="331.52" width="9.88" height="2.58" fill="#0098E4"/>
<rect x="382.51" y="331.52" width="36.53" height="2.58" fill="#E6FF00"/>
<rect x="419.04" y="331.52" width="8.16" height="2.58" fill="#FF96E6"/>
<rect x="370.80" y="333.10" width="0.11" height="2.58" fill="#FF984C"/>
<rect x="370.91" y="333.10" width="19.10" height="2.58" fill="#0098E4"/>
<rect x="390.01" y="333.10" width="29.77" height="2.58" fill="#E6FF00"/>
<rect x="419.78" y="333.10" width="7.42" height="2.58" fill="#FF96E6"/>
<rect x="370.80" y="334.68" width="9.59" height="2.58" fill="#FF984C"/>
<rect x="380.39" y="334.68" width="9.44" height="2.58" fill="#0098E4"/>
<rect x="389.83" y="334.68" width="24.16" height="2.58" fill="#E6FF00"/>
<rect x="413.99" y="334.68" width="13.21" height="2.58" fill="#FF96E6"/>
<rect x="370.80" y="336.26" width="14.19" height="2.58" fill="#0098E4"/>
<rect x="384.99" y="336.26" width="26.29" height="2.58" fill="#E6FF00"/>
<rect x="411.28" y="336.26" width="15.92" height="2.58" fill="#FF96E6"/>
<rect x="370.80" y="337.84" width="3.38" height="2.58" fill="#0098E4"/>
<rect x="374.18" y="337.84" width="33.21" height="2.58" fill="#E6FF00"/>
<rect x="407.39" y="337.84" width="19.81" height="2.58" fill="#FF96E6"/>
<rect x="370.84" y="339.42" width="17.70" height="2.58" fill="#0098E4"/>
<rect x="388.54" y="339.42" width="28.35" height="2.58" fill="#E6FF00"/>
<rect x="416.89" y="339.42" width="10.31" height="2.58" fill="#FF96E6"/>
<rect x="370.80" y="341.00" width="13.96" height="2.56" fill="#0098E4"/>
<rect x="384.76" y="341.00" width="15.21" height="2.56" fill="#E6FF00"/>
<rect x="399.97" y="341.00" width="27.23" height="2.56" fill="#FF96E6"/>
<rect x="370.80" y="342.56" width="14.41" height="2.56" fill="#0098E4"/>
<rect x="385.21" y="342.56" width="9.45" height="2.56" fill="#E6FF00"/>
<rect x="394.66" y="342.56" width="32.54" height="2.56" fill="#FF96E6"/>
<rect x="370.80" y="344.12" width="17.04" height="2.56" fill="#0098E4"/>
<rect x="387.84" y="344.12" width="9.56" height="2.56" fill="#E6FF00"/>
<rect x="397.40" y="344.12" width="29.80" height="2.56" fill="#FF96E6"/>
<rect x="370.80" y="345.68" width="2.12" height="2.56" fill="#FF984C"/>
<rect x="372.92" y="345.68" width="16.41" height="2.56" fill="#0098E4"/>
<rect x="389.33" y="345.68" width="12.28" height="2.56" fill="#E6FF00"/>
<rect x="401.61" y="345.68" width="25.59" height="2.56" fill="#FF96E6"/>
<rect x="370.80" y="347.24" width="20.24" height="2.56" fill="#0098E4"/>
<rect x="391.04" y="347.24" width="11.25" height="2.56" fill="#E6FF00"/>
<rect x="402.29" y="347.24" width="24.91" height="2.56" fill="#FF96E6"/>
<rect x="370.80" y="348.80" width="0.58" height="2.56" fill="#FF984C"/>
<rect x="371.38" y="348.80" width="12.53" height="2.56" fill="#0098E4"/>
<rect x="383.91" y="348.80" width="17.32" height="2.56" fill="#E6FF00"/>
<rect x="401.23" y="348.80" width="25.97" height="2.56" fill="#FF96E6"/>
<rect x="370.80" y="350.36" width="17.22" height="2.56" fill="#0098E4"/>
<rect x="388.02" y="350.36" width="11.47" height="2.56" fill="#E6FF00"/>
<rect x="399.50" y="350.36" width="27.70" height="2.56" fill="#FF96E6"/>
<rect x="370.80" y="351.92" width="11.93" height="2.56" fill="#0098E4"/>
<rect x="382.73" y="351.92" width="16.12" height="2.56" fill="#E6FF00"/>
<rect x="398.85" y="351.92" width="28.35" height="2.56" fill="#FF96E6"/>
<rect x="370.80" y="353.48" width="5.72" height="2.56" fill="#0098E4"/>
<rect x="376.52" y="353.48" width="10.10" height="2.56" fill="#E6FF00"/>
<rect x="386.61" y="353.48" width="40.59" height="2.56" fill="#FF96E6"/>
<rect x="370.80" y="355.04" width="0.87" height="2.56" fill="#FF984C"/>
<rect x="371.67" y="355.04" width="20.29" height="2.56" fill="#0098E4"/>
<rect x="391.96" y="355.04" width="7.24" height="2.56" fill="#E6FF00"/>
<rect x="399.20" y="355.04" width="28.00" height="2.56" fill="#FF96E6"/>
<rect x="370.80" y="356.60" width="11.17" height="2.56" fill="#0098E4"/>
<rect x="381.97" y="356.60" width="12.48" height="2.56" fill="#E6FF00"/>
<rect x="394.45" y="356.60" width="32.75" height="2.56" fill="#FF96E6"/>
<rect x="370.80" y="358.16" width="1.05" height="2.56" fill="#FF984C"/>
<rect x="371.85" y="358.16" width="14.31" height="2.56" fill="#0098E4"/>
<rect x="386.16" y="358.16" width="16.33" height="2.56" fill="#E6FF00"/>
<rect x="402.49" y="358.16" width="24.71" height="2.56" fill="#FF96E6"/>
<rect x="370.80" y="359.72" width="0.70" height="2.56" fill="#FF984C"/>
<rect x="371.50" y="359.72" width="15.75" height="2.56" fill="#0098E4"/>
<rect x="387.25" y="359.72" width="6.92" height="2.56" fill="#E6FF00"/>
<rect x="394.17" y="359.72" width="33.03" height="2.56" fill="#FF96E6"/>
<rect x="370.80" y="361.28" width="15.04" height="2.56" fill="#0098E4"/>
<rect x="385.84" y="361.28" width="13.67" height="2.56" fill="#E6FF00"/>
<rect x="399.51" y="361.28" width="27.69" height="2.56" fill="#FF96E6"/>
<rect x="370.80" y="362.84" width="1.26" height="2.56" fill="#FF984C"/>
<rect x="372.06" y="362.84" width="19.29" height="2.56" fill="#0098E4"/>
<rect x="391.34" y="362.84" width="5.58" height="2.56" fill="#E6FF00"/>
<rect x="396.92" y="362.84" width="30.28" height="2.56" fill="#FF96E6"/>
<rect x="370.80" y="364.40" width="19.97" height="2.56" fill="#0098E4"/>
<rect x="390.77" y="364.40" width="12.35" height="2.56" fill="#E6FF00"/>
<rect x="403.12" y="364.40" width="24.08" height="2.56" fill="#FF96E6"/>
<rect x="370.80" y="365.96" width="10.00" height="2.56" fill="#0098E4"/>
<rect x="380.80" y="365.96" width="2.98" height="2.56" fill="#E6FF00"/>
<rect x="383.78" y="365.96" width="43.42" height="2.56" fill="#FF96E6"/>
<rect x="370.80" y="367.52" width="19.70" height="2.56" fill="#0098E4"/>
<rect x="390.50" y="367.52" width="9.17" height="2.56" fill="#E6FF00"/>
<rect x="399.67" y="367.52" width="27.53" height="2.56" fill="#FF96E6"/>
<rect x="370.80" y="369.08" width="2.91" height="2.56" fill="#FF984C"/>
<rect x="373.71" y="369.08" width="14.26" height="2.56" fill="#0098E4"/>
<rect x="387.96" y="369.08" width="7.11" height="2.56" fill="#E6FF00"/>
<rect x="395.07" y="369.08" width="32.13" height="2.56" fill="#FF96E6"/>
<rect x="370.80" y="370.64" width="12.23" height="2.56" fill="#0098E4"/>
<rect x="383.03" y="370.64" width="17.05" height="2.56" fill="#E6FF00"/>
<rect x="400.09" y="370.64" width="27.11" height="2.56" fill="#FF96E6"/>
<rect x="370.80" y="372.20" width="0.97" height="2.56" fill="#FF984C"/>
<rect x="371.77" y="372.20" width="17.08" height="2.56" fill="#0098E4"/>
<rect x="388.85" y="372.20" width="9.20" height="2.56" fill="#E6FF00"/>
<rect x="398.05" y="372.20" width="29.15" height="2.56" fill="#FF96E6"/>
<rect x="370.80" y="373.76" width="0.76" height="2.56" fill="#FF984C"/>
<rect x="371.56" y="373.76" width="11.29" height="2.56" fill="#0098E4"/>
<rect x="382.84" y="373.76" width="13.32" height="2.56" fill="#E6FF00"/>
<rect x="396.17" y="373.76" width="31.03" height="2.56" fill="#FF96E6"/>
<rect x="370.80" y="375.32" width="12.62" height="2.56" fill="#0098E4"/>
<rect x="383.42" y="375.32" width="13.59" height="2.56" fill="#E6FF00"/>
<rect x="397.01" y="375.32" width="30.19" height="2.56" fill="#FF96E6"/>
<rect x="370.80" y="376.88" width="17.31" height="2.56" fill="#0098E4"/>
<rect x="388.11" y="376.88" width="12.00" height="2.56" fill="#E6FF00"/>
<rect x="400.10" y="376.88" width="27.10" height="2.56" fill="#FF96E6"/>
<rect x="370.80" y="378.44" width="0.38" height="2.56" fill="#FF984C"/>
<rect x="371.18" y="378.44" width="13.42" height="2.56" fill="#0098E4"/>
<rect x="384.60" y="378.44" width="10.61" height="2.56" fill="#E6FF00"/>
<rect x="395.21" y="378.44" width="31.99" height="2.56" fill="#FF96E6"/>
<rect x="370.80" y="380.00" width="2.39" height="2.58" fill="#FF984C"/>
<rect x="373.19" y="380.00" width="9.47" height="2.58" fill="#0098E4"/>
<rect x="382.66" y="380.00" width="39.00" height="2.58" fill="#E6FF00"/>
<rect x="421.66" y="380.00" width="5.54" height="2.58" fill="#FF96E6"/>
<rect x="370.80" y="381.58" width="0.98" height="2.58" fill="#FF984C"/>
<rect x="371.78" y="381.58" width="11.99" height="2.58" fill="#0098E4"/>
<rect x="383.77" y="381.58" width="34.31" height="2.58" fill="#E6FF00"/>
<rect x="418.08" y="381.58" width="9.12" height="2.58" fill="#FF96E6"/>
<rect x="370.80" y="383.15" width="4.70" height="2.58" fill="#FF984C"/>
<rect x="375.50" y="383.15" width="6.38" height="2.58" fill="#0098E4"/>
<rect x="381.87" y="383.15" width="39.18" height="2.58" fill="#E6FF00"/>
<rect x="421.06" y="383.15" width="6.14" height="2.58" fill="#FF96E6"/>
<rect x="370.80" y="384.73" width="8.05" height="2.58" fill="#0098E4"/>
<rect x="378.85" y="384.73" width="37.31" height="2.58" fill="#E6FF00"/>
<rect x="416.15" y="384.73" width="11.05" height="2.58" fill="#FF96E6"/>
<rect x="370.80" y="386.30" width="4.30" height="2.58" fill="#FF984C"/>
<rect x="375.10" y="386.30" width="1.39" height="2.58" fill="#0098E4"/>
<rect x="376.49" y="386.30" width="45.17" height="2.58" fill="#E6FF00"/>
<rect x="421.66" y="386.30" width="5.54" height="2.58" fill="#FF96E6"/>
<rect x="370.80" y="387.88" width="11.88" height="2.58" fill="#0098E4"/>
<rect x="382.68" y="387.88" width="37.42" height="2.58" fill="#E6FF00"/>
<rect x="420.09" y="387.88" width="7.11" height="2.58" fill="#FF96E6"/>
<rect x="370.80" y="389.46" width="10.47" height="2.58" fill="#0098E4"/>
<rect x="381.27" y="389.46" width="38.95" height="2.58" fill="#E6FF00"/>
<rect x="420.23" y="389.46" width="6.97" height="2.58" fill="#FF96E6"/>
<rect x="370.80" y="391.03" width="8.72" height="2.58" fill="#0098E4"/>
<rect x="379.52" y="391.03" width="44.78" height="2.58" fill="#E6FF00"/>
<rect x="424.30" y="391.03" width="2.90" height="2.58" fill="#FF96E6"/>
<rect x="370.80" y="392.61" width="3.24" height="2.58" fill="#FF984C"/>
<rect x="374.04" y="392.61" width="15.24" height="2.58" fill="#0098E4"/>
<rect x="389.28" y="392.61" width="32.48" height="2.58" fill="#E6FF00"/>
<rect x="421.76" y="392.61" width="5.44" height="2.58" fill="#FF96E6"/>
<rect x="370.80" y="394.18" width="0.88" height="2.58" fill="#0098E4"/>
<rect x="371.68" y="394.18" width="51.56" height="2.58" fill="#E6FF00"/>
<rect x="423.24" y="394.18" width="3.96" height="2.58" fill="#FF96E6"/>
<rect x="370.80" y="395.76" width="0.46" height="2.58" fill="#FF984C"/>
<rect x="371.26" y="395.76" width="12.58" height="2.58" fill="#0098E4"/>
<rect x="383.84" y="395.76" width="38.00" height="2.58" fill="#E6FF00"/>
<rect x="421.84" y="395.76" width="5.36" height="2.58" fill="#FF96E6"/>
<rect x="370.80" y="397.34" width="0.36" height="2.58" fill="#FF984C"/>
<rect x="371.16" y="397.34" width="10.33" height="2.58" fill="#0098E4"/>
<rect x="381.49" y="397.34" width="37.88" height="2.58" fill="#E6FF00"/>
<rect x="419.37" y="397.34" width="7.83" height="2.58" fill="#FF96E6"/>
<rect x="370.80" y="398.91" width="46.25" height="2.58" fill="#E6FF00"/>
<rect x="417.05" y="398.91" width="10.15" height="2.58" fill="#FF96E6"/>
<rect x="370.80" y="400.49" width="0.44" height="2.58" fill="#FF984C"/>
<rect x="371.24" y="400.49" width="3.94" height="2.58" fill="#0098E4"/>
<rect x="375.18" y="400.49" width="42.45" height="2.58" fill="#E6FF00"/>
<rect x="417.63" y="400.49" width="9.57" height="2.58" fill="#FF96E6"/>
<rect x="370.80" y="402.06" width="0.63" height="2.58" fill="#FF984C"/>
<rect x="371.43" y="402.06" width="4.46" height="2.58" fill="#0098E4"/>
<rect x="375.89" y="402.06" width="38.28" height="2.58" fill="#E6FF00"/>
<rect x="414.17" y="402.06" width="13.03" height="2.58" fill="#FF96E6"/>
<rect x="370.80" y="403.64" width="0.25" height="2.58" fill="#FF984C"/>
<rect x="371.05" y="403.64" width="6.91" height="2.58" fill="#0098E4"/>
<rect x="377.96" y="403.64" width="39.96" height="2.58" fill="#E6FF00"/>
<rect x="417.92" y="403.64" width="9.28" height="2.58" fill="#FF96E6"/>
<rect x="370.80" y="405.22" width="2.23" height="2.58" fill="#FF984C"/>
<rect x="373.03" y="405.22" width="1.23" height="2.58" fill="#0098E4"/>
<rect x="374.26" y="405.22" width="40.92" height="2.58" fill="#E6FF00"/>
<rect x="415.18" y="405.22" width="12.02" height="2.58" fill="#FF96E6"/>
<rect x="370.80" y="406.79" width="9.39" height="2.58" fill="#0098E4"/>
<rect x="380.19" y="406.79" width="38.89" height="2.58" fill="#E6FF00"/>
<rect x="419.08" y="406.79" width="8.12" height="2.58" fill="#FF96E6"/>
<rect x="370.80" y="408.37" width="6.43" height="2.58" fill="#0098E4"/>
<rect x="377.23" y="408.37" width="34.86" height="2.58" fill="#E6FF00"/>
<rect x="412.09" y="408.37" width="15.11" height="2.58" fill="#FF96E6"/>
<rect x="370.80" y="409.94" width="1.08" height="2.58" fill="#FF984C"/>
<rect x="371.88" y="409.94" width="11.42" height="2.58" fill="#0098E4"/>
<rect x="383.30" y="409.94" width="41.76" height="2.58" fill="#E6FF00"/>
<rect x="425.06" y="409.94" width="2.14" height="2.58" fill="#FF96E6"/>
<rect x="370.80" y="411.52" width="3.02" height="2.58" fill="#FF984C"/>
<rect x="373.82" y="411.52" width="9.72" height="2.58" fill="#0098E4"/>
<rect x="383.54" y="411.52" width="39.44" height="2.58" fill="#E6FF00"/>
<rect x="422.98" y="411.52" width="4.22" height="2.58" fill="#FF96E6"/>
<rect x="370.80" y="413.10" width="11.35" height="2.58" fill="#0098E4"/>
<rect x="382.15" y="413.10" width="42.00" height="2.58" fill="#E6FF00"/>
<rect x="424.15" y="413.10" width="3.05" height="2.58" fill="#FF96E6"/>
<rect x="370.80" y="414.67" width="1.99" height="2.58" fill="#0098E4"/>
<rect x="372.79" y="414.67" width="41.47" height="2.58" fill="#E6FF00"/>
<rect x="414.26" y="414.67" width="12.94" height="2.58" fill="#FF96E6"/>
<rect x="370.80" y="416.25" width="0.31" height="2.58" fill="#FF984C"/>
<rect x="371.11" y="416.25" width="47.58" height="2.58" fill="#E6FF00"/>
<rect x="418.69" y="416.25" width="8.51" height="2.58" fill="#FF96E6"/>
<rect x="370.80" y="417.82" width="12.63" height="2.58" fill="#0098E4"/>
<rect x="383.43" y="417.82" width="43.77" height="2.58" fill="#E6FF00"/>
<rect x="370.80" y="419.40" width="20.45" height="2.57" fill="#0098E4"/>
<rect x="391.25" y="419.40" width="35.74" height="2.57" fill="#E6FF00"/>
<rect x="426.99" y="419.40" width="0.21" height="2.57" fill="#FF96E6"/>
<rect x="370.80" y="420.97" width="22.25" height="2.57" fill="#0098E4"/>
<rect x="393.05" y="420.97" width="28.06" height="2.57" fill="#E6FF00"/>
<rect x="421.11" y="420.97" width="6.09" height="2.57" fill="#FF96E6"/>
<rect x="370.80" y="422.54" width="4.44" height="2.57" fill="#FF984C"/>
<rect x="375.24" y="422.54" width="19.68" height="2.57" fill="#0098E4"/>
<rect x="394.92" y="422.54" width="27.07" height="2.57" fill="#E6FF00"/>
<rect x="421.99" y="422.54" width="5.21" height="2.57" fill="#FF96E6"/>
<rect x="370.80" y="424.10" width="7.51" height="2.57" fill="#FF984C"/>
<rect x="378.31" y="424.10" width="19.75" height="2.57" fill="#0098E4"/>
<rect x="398.06" y="424.10" width="29.14" height="2.57" fill="#E6FF00"/>
<rect x="370.80" y="425.67" width="17.93" height="2.57" fill="#0098E4"/>
<rect x="388.73" y="425.67" width="33.09" height="2.57" fill="#E6FF00"/>
<rect x="421.82" y="425.67" width="5.38" height="2.57" fill="#FF96E6"/>
<rect x="370.80" y="427.24" width="23.25" height="2.57" fill="#0098E4"/>
<rect x="394.05" y="427.24" width="23.92" height="2.57" fill="#E6FF00"/>
<rect x="417.97" y="427.24" width="9.23" height="2.57" fill="#FF96E6"/>
<rect x="370.80" y="428.81" width="3.78" height="2.57" fill="#FF984C"/>
<rect x="374.58" y="428.81" width="14.68" height="2.57" fill="#0098E4"/>
<rect x="389.26" y="428.81" width="29.22" height="2.57" fill="#E6FF00"/>
<rect x="418.48" y="428.81" width="8.72" height="2.57" fill="#FF96E6"/>
<rect x="370.80" y="430.38" width="24.42" height="2.57" fill="#0098E4"/>
<rect x="395.22" y="430.38" width="31.98" height="2.57" fill="#E6FF00"/>
<rect x="370.80" y="431.94" width="14.49" height="2.57" fill="#0098E4"/>
<rect x="385.29" y="431.94" width="41.91" height="2.57" fill="#E6FF00"/>
<rect x="370.80" y="433.51" width="9.54" height="2.57" fill="#FF984C"/>
<rect x="380.34" y="433.51" width="17.52" height="2.57" fill="#0098E4"/>
<rect x="397.86" y="433.51" width="29.34" height="2.57" fill="#E6FF00"/>
<rect x="370.80" y="435.08" width="6.91" height="2.57" fill="#FF984C"/>
<rect x="377.71" y="435.08" width="16.74" height="2.57" fill="#0098E4"/>
<rect x="394.45" y="435.08" width="32.36" height="2.57" fill="#E6FF00"/>
<rect x="426.82" y="435.08" width="0.38" height="2.57" fill="#FF96E6"/>
<rect x="370.80" y="436.65" width="25.08" height="2.57" fill="#0098E4"/>
<rect x="395.88" y="436.65" width="23.26" height="2.57" fill="#E6FF00"/>
<rect x="419.14" y="436.65" width="8.06" height="2.57" fill="#FF96E6"/>
<rect x="370.80" y="438.22" width="4.69" height="2.57" fill="#FF984C"/>
<rect x="375.49" y="438.22" width="16.63" height="2.57" fill="#0098E4"/>
<rect x="392.12" y="438.22" width="35.08" height="2.57" fill="#E6FF00"/>
<rect x="370.80" y="439.78" width="24.55" height="2.57" fill="#0098E4"/>
<rect x="395.35" y="439.78" width="31.85" height="2.57" fill="#E6FF00"/>
<rect x="370.80" y="441.35" width="19.30" height="2.57" fill="#0098E4"/>
<rect x="390.10" y="441.35" width="37.10" height="2.57" fill="#E6FF00"/>
<rect x="370.80" y="442.92" width="0.21" height="2.57" fill="#FF984C"/>
<rect x="371.01" y="442.92" width="23.30" height="2.57" fill="#0098E4"/>
<rect x="394.31" y="442.92" width="30.29" height="2.57" fill="#E6FF00"/>
<rect x="424.60" y="442.92" width="2.60" height="2.57" fill="#FF96E6"/>
<rect x="370.80" y="444.49" width="13.22" height="2.57" fill="#FF984C"/>
<rect x="384.02" y="444.49" width="14.12" height="2.57" fill="#0098E4"/>
<rect x="398.13" y="444.49" width="29.07" height="2.57" fill="#E6FF00"/>
<rect x="370.80" y="446.06" width="4.73" height="2.57" fill="#FF984C"/>
<rect x="375.53" y="446.06" width="19.10" height="2.57" fill="#0098E4"/>
<rect x="394.63" y="446.06" width="32.57" height="2.57" fill="#E6FF00"/>
<rect x="370.80" y="447.62" width="2.71" height="2.57" fill="#FF984C"/>
<rect x="373.51" y="447.62" width="21.69" height="2.57" fill="#0098E4"/>
<rect x="395.20" y="447.62" width="30.87" height="2.57" fill="#E6FF00"/>
<rect x="426.07" y="447.62" width="1.13" height="2.57" fill="#FF96E6"/>
<rect x="370.80" y="449.19" width="0.70" height="2.57" fill="#FF984C"/>
<rect x="371.50" y="449.19" width="13.50" height="2.57" fill="#0098E4"/>
<rect x="385.00" y="449.19" width="39.19" height="2.57" fill="#E6FF00"/>
<rect x="424.19" y="449.19" width="3.01" height="2.57" fill="#FF96E6"/>
<rect x="370.80" y="450.76" width="15.09" height="2.57" fill="#0098E4"/>
<rect x="385.89" y="450.76" width="33.19" height="2.57" fill="#E6FF00"/>
<rect x="419.08" y="450.76" width="8.12" height="2.57" fill="#FF96E6"/>
<rect x="370.80" y="452.33" width="21.33" height="2.57" fill="#0098E4"/>
<rect x="392.13" y="452.33" width="35.07" height="2.57" fill="#E6FF00"/>
<rect x="370.80" y="453.90" width="15.60" height="2.57" fill="#0098E4"/>
<rect x="386.40" y="453.90" width="32.98" height="2.57" fill="#E6FF00"/>
<rect x="419.38" y="453.90" width="7.82" height="2.57" fill="#FF96E6"/>
<rect x="370.80" y="455.46" width="17.69" height="2.57" fill="#0098E4"/>
<rect x="388.49" y="455.46" width="38.71" height="2.57" fill="#E6FF00"/>
<rect x="370.80" y="457.03" width="19.86" height="2.57" fill="#0098E4"/>
<rect x="390.66" y="457.03" width="31.47" height="2.57" fill="#E6FF00"/>
<rect x="422.14" y="457.03" width="5.06" height="2.57" fill="#FF96E6"/>
<rect x="370.80" y="458.60" width="1.45" height="2.59" fill="#FF984C"/>
<rect x="372.25" y="458.60" width="9.05" height="2.59" fill="#0098E4"/>
<rect x="381.30" y="458.60" width="28.82" height="2.59" fill="#E6FF00"/>
<rect x="410.12" y="458.60" width="17.08" height="2.59" fill="#FF96E6"/>
<rect x="370.80" y="460.19" width="14.83" height="2.59" fill="#0098E4"/>
<rect x="385.63" y="460.19" width="30.85" height="2.59" fill="#E6FF00"/>
<rect x="416.48" y="460.19" width="10.72" height="2.59" fill="#FF96E6"/>
<rect x="370.80" y="461.78" width="15.08" height="2.59" fill="#0098E4"/>
<rect x="385.88" y="461.78" width="35.45" height="2.59" fill="#E6FF00"/>
<rect x="421.33" y="461.78" width="5.87" height="2.59" fill="#FF96E6"/>
<rect x="370.80" y="463.36" width="0.97" height="2.59" fill="#FF984C"/>
<rect x="371.77" y="463.36" width="22.37" height="2.59" fill="#0098E4"/>
<rect x="394.14" y="463.36" width="30.28" height="2.59" fill="#E6FF00"/>
<rect x="424.42" y="463.36" width="2.78" height="2.59" fill="#FF96E6"/>
<rect x="370.80" y="464.95" width="20.20" height="2.59" fill="#0098E4"/>
<rect x="391.00" y="464.95" width="30.43" height="2.59" fill="#E6FF00"/>
<rect x="421.43" y="464.95" width="5.77" height="2.59" fill="#FF96E6"/>
<rect x="370.80" y="466.54" width="0.69" height="2.59" fill="#FF984C"/>
<rect x="371.49" y="466.54" width="18.58" height="2.59" fill="#0098E4"/>
<rect x="390.07" y="466.54" width="37.13" height="2.59" fill="#E6FF00"/>
<rect x="370.80" y="468.13" width="2.09" height="2.59" fill="#FF984C"/>
<rect x="372.89" y="468.13" width="17.78" height="2.59" fill="#0098E4"/>
<rect x="390.66" y="468.13" width="21.89" height="2.59" fill="#E6FF00"/>
<rect x="412.55" y="468.13" width="14.65" height="2.59" fill="#FF96E6"/>
<rect x="370.80" y="469.72" width="0.13" height="2.59" fill="#FF984C"/>
<rect x="370.93" y="469.72" width="26.34" height="2.59" fill="#0098E4"/>
<rect x="397.27" y="469.72" width="22.96" height="2.59" fill="#E6FF00"/>
<rect x="420.23" y="469.72" width="6.97" height="2.59" fill="#FF96E6"/>
<rect x="370.80" y="471.30" width="2.10" height="2.59" fill="#FF984C"/>
<rect x="372.90" y="471.30" width="15.33" height="2.59" fill="#0098E4"/>
<rect x="388.23" y="471.30" width="33.12" height="2.59" fill="#E6FF00"/>
<rect x="421.36" y="471.30" width="5.84" height="2.59" fill="#FF96E6"/>
<rect x="370.80" y="472.89" width="1.97" height="2.59" fill="#FF984C"/>
<rect x="372.77" y="472.89" width="16.25" height="2.59" fill="#0098E4"/>
<rect x="389.02" y="472.89" width="30.79" height="2.59" fill="#E6FF00"/>
<rect x="419.81" y="472.89" width="7.39" height="2.59" fill="#FF96E6"/>
<rect x="370.80" y="474.48" width="0.64" height="2.59" fill="#FF984C"/>
<rect x="371.44" y="474.48" width="15.70" height="2.59" fill="#0098E4"/>
<rect x="387.15" y="474.48" width="28.50" height="2.59" fill="#E6FF00"/>
<rect x="415.65" y="474.48" width="11.55" height="2.59" fill="#FF96E6"/>
<rect x="370.80" y="476.07" width="0.36" height="2.59" fill="#FF984C"/>
<rect x="371.16" y="476.07" width="23.21" height="2.59" fill="#0098E4"/>
<rect x="394.38" y="476.07" width="25.79" height="2.59" fill="#E6FF00"/>
<rect x="420.17" y="476.07" width="7.03" height="2.59" fill="#FF96E6"/>
<rect x="370.80" y="477.66" width="3.66" height="2.59" fill="#FF984C"/>
<rect x="374.46" y="477.66" width="11.30" height="2.59" fill="#0098E4"/>
<rect x="385.76" y="477.66" width="38.60" height="2.59" fill="#E6FF00"/>
<rect x="424.36" y="477.66" width="2.84" height="2.59" fill="#FF96E6"/>
<rect x="370.80" y="479.24" width="1.57" height="2.59" fill="#FF984C"/>
<rect x="372.37" y="479.24" width="17.94" height="2.59" fill="#0098E4"/>
<rect x="390.31" y="479.24" width="25.82" height="2.59" fill="#E6FF00"/>
<rect x="416.12" y="479.24" width="11.08" height="2.59" fill="#FF96E6"/>
<rect x="370.80" y="480.83" width="13.86" height="2.59" fill="#0098E4"/>
<rect x="384.66" y="480.83" width="33.41" height="2.59" fill="#E6FF00"/>
<rect x="418.07" y="480.83" width="9.13" height="2.59" fill="#FF96E6"/>
<rect x="370.80" y="482.42" width="0.15" height="2.59" fill="#FF984C"/>
<rect x="370.95" y="482.42" width="17.84" height="2.59" fill="#0098E4"/>
<rect x="388.78" y="482.42" width="38.42" height="2.59" fill="#E6FF00"/>
<rect x="370.80" y="484.01" width="3.24" height="2.59" fill="#FF984C"/>
<rect x="374.04" y="484.01" width="14.63" height="2.59" fill="#0098E4"/>
<rect x="388.67" y="484.01" width="33.69" height="2.59" fill="#E6FF00"/>
<rect x="422.36" y="484.01" width="4.84" height="2.59" fill="#FF96E6"/>
<rect x="370.80" y="485.60" width="2.52" height="2.59" fill="#FF984C"/>
<rect x="373.32" y="485.60" width="18.64" height="2.59" fill="#0098E4"/>
<rect x="391.96" y="485.60" width="33.04" height="2.59" fill="#E6FF00"/>
<rect x="425.00" y="485.60" width="2.20" height="2.59" fill="#FF96E6"/>
<rect x="370.80" y="487.18" width="0.19" height="2.59" fill="#FF984C"/>
<rect x="370.99" y="487.18" width="25.70" height="2.59" fill="#0098E4"/>
<rect x="396.69" y="487.18" width="30.51" height="2.59" fill="#E6FF00"/>
<rect x="370.80" y="488.77" width="13.50" height="2.59" fill="#0098E4"/>
<rect x="384.30" y="488.77" width="30.83" height="2.59" fill="#E6FF00"/>
<rect x="415.14" y="488.77" width="12.06" height="2.59" fill="#FF96E6"/>
<rect x="370.80" y="490.36" width="1.89" height="2.59" fill="#FF984C"/>
<rect x="372.69" y="490.36" width="20.52" height="2.59" fill="#0098E4"/>
<rect x="393.21" y="490.36" width="25.24" height="2.59" fill="#E6FF00"/>
<rect x="418.45" y="490.36" width="8.75" height="2.59" fill="#FF96E6"/>
<rect x="370.80" y="491.95" width="23.05" height="2.59" fill="#0098E4"/>
<rect x="393.85" y="491.95" width="33.35" height="2.59" fill="#E6FF00"/>
<rect x="370.80" y="493.54" width="26.32" height="2.59" fill="#0098E4"/>
<rect x="397.12" y="493.54" width="23.65" height="2.59" fill="#E6FF00"/>
<rect x="420.77" y="493.54" width="6.43" height="2.59" fill="#FF96E6"/>
<rect x="370.80" y="495.12" width="0.58" height="2.59" fill="#FF984C"/>
<rect x="371.38" y="495.12" width="15.14" height="2.59" fill="#0098E4"/>
<rect x="386.52" y="495.12" width="40.68" height="2.59" fill="#E6FF00"/>
<rect x="370.80" y="496.71" width="16.60" height="2.59" fill="#0098E4"/>
<rect x="387.40" y="496.71" width="39.15" height="2.59" fill="#E6FF00"/>
<rect x="426.54" y="496.71" width="0.66" height="2.59" fill="#FF96E6"/>
<rect x="370.80" y="498.30" width="1.56" height="2.56" fill="#FF984C"/>
<rect x="372.36" y="498.30" width="0.78" height="2.56" fill="#0098E4"/>
<rect x="373.14" y="498.30" width="54.06" height="2.56" fill="#E6FF00"/>
<rect x="370.80" y="499.86" width="8.71" height="2.56" fill="#0098E4"/>
<rect x="379.51" y="499.86" width="37.47" height="2.56" fill="#E6FF00"/>
<rect x="416.98" y="499.86" width="10.22" height="2.56" fill="#FF96E6"/>
<rect x="370.80" y="501.43" width="3.20" height="2.56" fill="#FF984C"/>
<rect x="374.00" y="501.43" width="16.68" height="2.56" fill="#0098E4"/>
<rect x="390.68" y="501.43" width="33.93" height="2.56" fill="#E6FF00"/>
<rect x="424.61" y="501.43" width="2.59" height="2.56" fill="#FF96E6"/>
<rect x="370.80" y="502.99" width="0.20" height="2.56" fill="#FF984C"/>
<rect x="371.00" y="502.99" width="5.45" height="2.56" fill="#0098E4"/>
<rect x="376.45" y="502.99" width="44.15" height="2.56" fill="#E6FF00"/>
<rect x="420.60" y="502.99" width="6.60" height="2.56" fill="#FF96E6"/>
<rect x="370.80" y="504.56" width="23.89" height="2.56" fill="#0098E4"/>
<rect x="394.69" y="504.56" width="32.51" height="2.56" fill="#E6FF00"/>
<rect x="370.80" y="506.12" width="4.22" height="2.56" fill="#FF984C"/>
<rect x="375.02" y="506.12" width="10.82" height="2.56" fill="#0098E4"/>
<rect x="385.84" y="506.12" width="41.36" height="2.56" fill="#E6FF00"/>
<rect x="370.80" y="507.68" width="3.20" height="2.56" fill="#FF984C"/>
<rect x="374.00" y="507.68" width="16.22" height="2.56" fill="#0098E4"/>
<rect x="390.22" y="507.68" width="35.37" height="2.56" fill="#E6FF00"/>
<rect x="425.59" y="507.68" width="1.61" height="2.56" fill="#FF96E6"/>
<rect x="370.80" y="509.25" width="0.36" height="2.56" fill="#FF984C"/>
<rect x="371.16" y="509.25" width="11.33" height="2.56" fill="#0098E4"/>
<rect x="382.49" y="509.25" width="38.25" height="2.56" fill="#E6FF00"/>
<rect x="420.74" y="509.25" width="6.46" height="2.56" fill="#FF96E6"/>
<rect x="370.80" y="510.81" width="7.20" height="2.56" fill="#FF984C"/>
<rect x="378.00" y="510.81" width="12.18" height="2.56" fill="#0098E4"/>
<rect x="390.19" y="510.81" width="28.54" height="2.56" fill="#E6FF00"/>
<rect x="418.73" y="510.81" width="8.47" height="2.56" fill="#FF96E6"/>
<rect x="370.80" y="512.38" width="1.03" height="2.56" fill="#FF984C"/>
<rect x="371.83" y="512.38" width="7.71" height="2.56" fill="#0098E4"/>
<rect x="379.54" y="512.38" width="36.36" height="2.56" fill="#E6FF00"/>
<rect x="415.90" y="512.38" width="11.30" height="2.56" fill="#FF96E6"/>
<rect x="370.80" y="513.94" width="9.09" height="2.56" fill="#0098E4"/>
<rect x="379.89" y="513.94" width="40.61" height="2.56" fill="#E6FF00"/>
<rect x="420.50" y="513.94" width="6.70" height="2.56" fill="#FF96E6"/>
<rect x="370.80" y="515.50" width="0.10" height="2.56" fill="#FF984C"/>
<rect x="370.90" y="515.50" width="12.36" height="2.56" fill="#0098E4"/>
<rect x="383.26" y="515.50" width="34.49" height="2.56" fill="#E6FF00"/>
<rect x="417.75" y="515.50" width="9.45" height="2.56" fill="#FF96E6"/>
<rect x="370.80" y="517.07" width="7.59" height="2.56" fill="#FF984C"/>
<rect x="378.39" y="517.07" width="14.65" height="2.56" fill="#0098E4"/>
<rect x="393.04" y="517.07" width="34.16" height="2.56" fill="#E6FF00"/>
<rect x="370.80" y="518.63" width="10.25" height="2.56" fill="#FF984C"/>
<rect x="381.05" y="518.63" width="17.45" height="2.56" fill="#0098E4"/>
<rect x="398.50" y="518.63" width="24.15" height="2.56" fill="#E6FF00"/>
<rect x="422.64" y="518.63" width="4.56" height="2.56" fill="#FF96E6"/>
<rect x="370.80" y="520.20" width="15.16" height="2.56" fill="#0098E4"/>
<rect x="385.96" y="520.20" width="35.47" height="2.56" fill="#E6FF00"/>
<rect x="421.44" y="520.20" width="5.76" height="2.56" fill="#FF96E6"/>
<rect x="370.80" y="521.76" width="18.10" height="2.56" fill="#0098E4"/>
<rect x="388.90" y="521.76" width="36.24" height="2.56" fill="#E6FF00"/>
<rect x="425.15" y="521.76" width="2.05" height="2.56" fill="#FF96E6"/>
<rect x="370.80" y="523.32" width="0.25" height="2.56" fill="#FF984C"/>
<rect x="371.05" y="523.32" width="15.75" height="2.56" fill="#0098E4"/>
<rect x="386.80" y="523.32" width="28.51" height="2.56" fill="#E6FF00"/>
<rect x="415.31" y="523.32" width="11.89" height="2.56" fill="#FF96E6"/>
<rect x="370.80" y="524.89" width="18.31" height="2.56" fill="#0098E4"/>
<rect x="389.11" y="524.89" width="37.11" height="2.56" fill="#E6FF00"/>
<rect x="426.22" y="524.89" width="0.98" height="2.56" fill="#FF96E6"/>
<rect x="370.80" y="526.45" width="18.29" height="2.56" fill="#0098E4"/>
<rect x="389.09" y="526.45" width="27.31" height="2.56" fill="#E6FF00"/>
<rect x="416.39" y="526.45" width="10.81" height="2.56" fill="#FF96E6"/>
<rect x="370.80" y="528.02" width="13.15" height="2.56" fill="#0098E4"/>
<rect x="383.95" y="528.02" width="43.25" height="2.56" fill="#E6FF00"/>
<rect x="370.80" y="529.58" width="6.07" height="2.56" fill="#FF984C"/>
<rect x="376.87" y="529.58" width="11.29" height="2.56" fill="#0098E4"/>
<rect x="388.16" y="529.58" width="35.86" height="2.56" fill="#E6FF00"/>
<rect x="424.02" y="529.58" width="3.18" height="2.56" fill="#FF96E6"/>
<rect x="370.80" y="531.14" width="19.49" height="2.56" fill="#0098E4"/>
<rect x="390.29" y="531.14" width="36.91" height="2.56" fill="#E6FF00"/>
<rect x="370.80" y="532.71" width="10.68" height="2.56" fill="#0098E4"/>
<rect x="381.48" y="532.71" width="36.97" height="2.56" fill="#E6FF00"/>
<rect x="418.44" y="532.71" width="8.76" height="2.56" fill="#FF96E6"/>
<rect x="370.80" y="534.27" width="0.16" height="2.56" fill="#FF984C"/>
<rect x="370.96" y="534.27" width="22.08" height="2.56" fill="#0098E4"/>
<rect x="393.04" y="534.27" width="25.52" height="2.56" fill="#E6FF00"/>
<rect x="418.56" y="534.27" width="8.64" height="2.56" fill="#FF96E6"/>
<rect x="370.80" y="535.84" width="15.60" height="2.56" fill="#0098E4"/>
<rect x="386.40" y="535.84" width="34.21" height="2.56" fill="#E6FF00"/>
<rect x="420.61" y="535.84" width="6.59" height="2.56" fill="#FF96E6"/>
<rect x="370.80" y="537.40" width="3.55" height="2.55" fill="#FF984C"/>
<rect x="374.35" y="537.40" width="5.60" height="2.55" fill="#E6FF00"/>
<rect x="379.96" y="537.40" width="47.24" height="2.55" fill="#FF96E6"/>
<rect x="370.80" y="538.95" width="3.74" height="2.55" fill="#FF984C"/>
<rect x="374.54" y="538.95" width="0.84" height="2.55" fill="#0098E4"/>
<rect x="375.38" y="538.95" width="9.35" height="2.55" fill="#E6FF00"/>
<rect x="384.74" y="538.95" width="42.46" height="2.55" fill="#FF96E6"/>
<rect x="370.80" y="540.49" width="5.59" height="2.55" fill="#FF984C"/>
<rect x="376.39" y="540.49" width="11.69" height="2.55" fill="#E6FF00"/>
<rect x="388.09" y="540.49" width="39.11" height="2.55" fill="#FF96E6"/>
<rect x="370.80" y="542.04" width="3.65" height="2.55" fill="#FF984C"/>
<rect x="374.45" y="542.04" width="2.77" height="2.55" fill="#E6FF00"/>
<rect x="377.22" y="542.04" width="49.98" height="2.55" fill="#FF96E6"/>
<rect x="370.80" y="543.58" width="2.50" height="2.55" fill="#0098E4"/>
<rect x="373.30" y="543.58" width="9.70" height="2.55" fill="#E6FF00"/>
<rect x="383.00" y="543.58" width="44.20" height="2.55" fill="#FF96E6"/>
<rect x="370.80" y="545.13" width="4.79" height="2.55" fill="#E6FF00"/>
<rect x="375.59" y="545.13" width="51.61" height="2.55" fill="#FF96E6"/>
<rect x="370.80" y="546.67" width="4.52" height="2.55" fill="#FF984C"/>
<rect x="375.32" y="546.67" width="0.12" height="2.55" fill="#0098E4"/>
<rect x="375.44" y="546.67" width="9.92" height="2.55" fill="#E6FF00"/>
<rect x="385.36" y="546.67" width="41.84" height="2.55" fill="#FF96E6"/>
<rect x="370.80" y="548.22" width="2.73" height="2.55" fill="#FF984C"/>
<rect x="373.53" y="548.22" width="2.66" height="2.55" fill="#E6FF00"/>
<rect x="376.19" y="548.22" width="51.01" height="2.55" fill="#FF96E6"/>
<rect x="370.80" y="549.76" width="7.17" height="2.55" fill="#FF984C"/>
<rect x="377.97" y="549.76" width="2.81" height="2.55" fill="#E6FF00"/>
<rect x="380.78" y="549.76" width="46.42" height="2.55" fill="#FF96E6"/>
<rect x="370.80" y="551.31" width="0.60" height="2.55" fill="#FF984C"/>
<rect x="371.40" y="551.31" width="7.21" height="2.55" fill="#0098E4"/>
<rect x="378.61" y="551.31" width="8.80" height="2.55" fill="#E6FF00"/>
<rect x="387.41" y="551.31" width="39.79" height="2.55" fill="#FF96E6"/>
<rect x="370.80" y="552.85" width="1.83" height="2.55" fill="#FF984C"/>
<rect x="372.63" y="552.85" width="11.87" height="2.55" fill="#E6FF00"/>
<rect x="384.50" y="552.85" width="42.70" height="2.55" fill="#FF96E6"/>
<rect x="370.80" y="554.40" width="0.56" height="2.61" fill="#FF984C"/>
<rect x="371.36" y="554.40" width="7.41" height="2.61" fill="#E6FF00"/>
<rect x="378.77" y="554.40" width="48.43" height="2.61" fill="#FF96E6"/>
<rect x="370.80" y="556.01" width="4.64" height="2.61" fill="#0098E4"/>
<rect x="375.44" y="556.01" width="4.15" height="2.61" fill="#E6FF00"/>
<rect x="379.59" y="556.01" width="47.61" height="2.61" fill="#FF96E6"/>
<rect x="370.80" y="557.62" width="56.40" height="2.61" fill="#FF96E6"/>
<rect x="370.80" y="559.23" width="0.43" height="2.61" fill="#FF984C"/>
<rect x="371.23" y="559.23" width="0.98" height="2.61" fill="#0098E4"/>
<rect x="372.21" y="559.23" width="0.85" height="2.61" fill="#E6FF00"/>
<rect x="373.06" y="559.23" width="54.14" height="2.61" fill="#FF96E6"/>
<rect x="370.80" y="560.84" width="7.99" height="2.61" fill="#E6FF00"/>
<rect x="378.79" y="560.84" width="48.41" height="2.61" fill="#FF96E6"/>
<rect x="370.80" y="562.45" width="0.84" height="2.61" fill="#0098E4"/>
<rect x="371.64" y="562.45" width="0.11" height="2.61" fill="#E6FF00"/>
<rect x="371.75" y="562.45" width="55.45" height="2.61" fill="#FF96E6"/>
<rect x="370.80" y="564.06" width="0.68" height="2.61" fill="#FF984C"/>
<rect x="371.48" y="564.06" width="0.62" height="2.61" fill="#0098E4"/>
<rect x="372.10" y="564.06" width="3.12" height="2.61" fill="#E6FF00"/>
<rect x="375.22" y="564.06" width="51.98" height="2.61" fill="#FF96E6"/>
<rect x="370.80" y="565.67" width="1.39" height="2.61" fill="#FF984C"/>
<rect x="372.19" y="565.67" width="6.33" height="2.61" fill="#0098E4"/>
<rect x="378.52" y="565.67" width="48.68" height="2.61" fill="#FF96E6"/>
<rect x="370.80" y="567.28" width="56.40" height="2.61" fill="#FF96E6"/>
<rect x="370.80" y="568.89" width="2.06" height="2.61" fill="#FF984C"/>
<rect x="372.86" y="568.89" width="5.93" height="2.61" fill="#0098E4"/>
<rect x="378.79" y="568.89" width="0.37" height="2.61" fill="#E6FF00"/>
<rect x="379.15" y="568.89" width="48.05" height="2.61" fill="#FF96E6"/>
<rect x="370.80" y="570.50" width="1.08" height="2.58" fill="#0098E4"/>
<rect x="371.88" y="570.50" width="5.31" height="2.58" fill="#E6FF00"/>
<rect x="377.19" y="570.50" width="50.01" height="2.58" fill="#FF96E6"/>
<rect x="370.80" y="572.08" width="1.16" height="2.57" fill="#FF984C"/>
<rect x="371.96" y="572.08" width="55.24" height="2.57" fill="#FF96E6"/>
<rect x="370.80" y="573.65" width="0.26" height="2.58" fill="#FF984C"/>
<rect x="371.06" y="573.65" width="56.14" height="2.58" fill="#FF96E6"/>
<rect x="370.80" y="575.23" width="7.89" height="2.57" fill="#0098E4"/>
<rect x="378.69" y="575.23" width="0.23" height="2.57" fill="#E6FF00"/>
<rect x="378.93" y="575.23" width="48.27" height="2.57" fill="#FF96E6"/>
<rect x="370.80" y="576.80" width="4.74" height="2.58" fill="#FF984C"/>
<rect x="375.54" y="576.80" width="51.66" height="2.58" fill="#FF96E6"/>
<rect x="370.80" y="578.38" width="2.54" height="2.58" fill="#FF984C"/>
<rect x="373.34" y="578.38" width="1.13" height="2.58" fill="#0098E4"/>
<rect x="374.47" y="578.38" width="6.43" height="2.58" fill="#E6FF00"/>
<rect x="380.90" y="578.38" width="46.30" height="2.58" fill="#FF96E6"/>
<rect x="370.80" y="579.95" width="1.01" height="2.57" fill="#E6FF00"/>
<rect x="371.81" y="579.95" width="55.39" height="2.57" fill="#FF96E6"/>
<rect x="370.80" y="581.52" width="0.07" height="2.58" fill="#E6FF00"/>
<rect x="370.87" y="581.52" width="56.33" height="2.58" fill="#FF96E6"/>
<rect x="370.80" y="583.10" width="0.83" height="2.57" fill="#0098E4"/>
<rect x="371.63" y="583.10" width="9.63" height="2.57" fill="#E6FF00"/>
<rect x="381.26" y="583.10" width="45.94" height="2.57" fill="#FF96E6"/>
<rect x="370.80" y="584.67" width="0.16" height="2.58" fill="#FF984C"/>
<rect x="370.96" y="584.67" width="56.24" height="2.58" fill="#FF96E6"/>
<rect x="370.80" y="586.25" width="0.65" height="2.60" fill="#FF984C"/>
<rect x="371.45" y="586.25" width="4.04" height="2.60" fill="#E6FF00"/>
<rect x="375.48" y="586.25" width="51.72" height="2.60" fill="#FF96E6"/>
<rect x="370.80" y="587.85" width="0.18" height="2.60" fill="#FF984C"/>
<rect x="370.98" y="587.85" width="56.22" height="2.60" fill="#FF96E6"/>
<rect x="370.80" y="589.45" width="0.73" height="2.60" fill="#0098E4"/>
<rect x="371.53" y="589.45" width="55.67" height="2.60" fill="#FF96E6"/>
<rect x="370.80" y="591.05" width="2.48" height="2.60" fill="#E6FF00"/>
<rect x="373.28" y="591.05" width="53.92" height="2.60" fill="#FF96E6"/>
<rect x="370.80" y="592.65" width="0.26" height="2.60" fill="#0098E4"/>
<rect x="371.06" y="592.65" width="0.36" height="2.60" fill="#E6FF00"/>
<rect x="371.42" y="592.65" width="55.78" height="2.60" fill="#FF96E6"/>
<rect x="370.80" y="594.24" width="1.17" height="2.60" fill="#FF984C"/>
<rect x="371.97" y="594.24" width="2.08" height="2.60" fill="#E6FF00"/>
<rect x="374.05" y="594.24" width="53.15" height="2.60" fill="#FF96E6"/>
<rect x="370.80" y="595.84" width="10.92" height="2.60" fill="#0098E4"/>
<rect x="381.72" y="595.84" width="0.52" height="2.60" fill="#E6FF00"/>
<rect x="382.24" y="595.84" width="44.96" height="2.60" fill="#FF96E6"/>
<rect x="370.80" y="597.44" width="0.13" height="2.60" fill="#0098E4"/>
<rect x="370.93" y="597.44" width="2.16" height="2.60" fill="#E6FF00"/>
<rect x="373.09" y="597.44" width="54.11" height="2.60" fill="#FF96E6"/>
<rect x="370.80" y="599.04" width="0.47" height="2.60" fill="#FF984C"/>
<rect x="371.27" y="599.04" width="55.93" height="2.60" fill="#FF96E6"/>
<rect x="370.80" y="600.64" width="0.81" height="2.60" fill="#FF984C"/>
<rect x="371.61" y="600.64" width="55.59" height="2.60" fill="#FF96E6"/>
<rect x="370.80" y="602.24" width="0.15" height="2.60" fill="#FF984C"/>
<rect x="370.95" y="602.24" width="7.19" height="2.60" fill="#E6FF00"/>
<rect x="378.13" y="602.24" width="49.07" height="2.60" fill="#FF96E6"/>
<rect x="370.80" y="603.84" width="56.40" height="2.60" fill="#FF96E6"/>
<rect x="370.80" y="605.44" width="7.24" height="2.60" fill="#E6FF00"/>
<rect x="378.04" y="605.44" width="49.16" height="2.60" fill="#FF96E6"/>
<rect x="370.80" y="607.04" width="0.97" height="2.60" fill="#FF984C"/>
<rect x="371.77" y="607.04" width="55.43" height="2.60" fill="#FF96E6"/>
<rect x="370.80" y="608.63" width="0.05" height="2.60" fill="#FF984C"/>
<rect x="370.85" y="608.63" width="0.76" height="2.60" fill="#0098E4"/>
<rect x="371.62" y="608.63" width="10.85" height="2.60" fill="#E6FF00"/>
<rect x="382.46" y="608.63" width="44.74" height="2.60" fill="#FF96E6"/>
<rect x="370.82" y="610.23" width="1.33" height="2.60" fill="#0098E4"/>
<rect x="372.15" y="610.23" width="1.85" height="2.60" fill="#E6FF00"/>
<rect x="374.00" y="610.23" width="53.20" height="2.60" fill="#FF96E6"/>
<rect x="370.80" y="611.83" width="56.40" height="2.60" fill="#FF96E6"/>
<rect x="370.81" y="613.43" width="1.30" height="2.60" fill="#0098E4"/>
<rect x="372.11" y="613.43" width="0.82" height="2.60" fill="#E6FF00"/>
<rect x="372.93" y="613.43" width="54.27" height="2.60" fill="#FF96E6"/>
<rect x="370.80" y="615.03" width="0.46" height="2.60" fill="#FF984C"/>
<rect x="371.26" y="615.03" width="1.13" height="2.60" fill="#0098E4"/>
<rect x="372.39" y="615.03" width="0.43" height="2.60" fill="#E6FF00"/>
<rect x="372.82" y="615.03" width="54.38" height="2.60" fill="#FF96E6"/>
<rect x="370.80" y="616.63" width="2.68" height="2.60" fill="#FF984C"/>
<rect x="373.48" y="616.63" width="1.25" height="2.60" fill="#0098E4"/>
<rect x="374.74" y="616.63" width="3.89" height="2.60" fill="#E6FF00"/>
<rect x="378.63" y="616.63" width="48.57" height="2.60" fill="#FF96E6"/>
<rect x="370.80" y="618.23" width="56.40" height="2.60" fill="#FF96E6"/>
<rect x="370.80" y="619.83" width="0.07" height="2.60" fill="#0098E4"/>
<rect x="370.87" y="619.83" width="56.33" height="2.60" fill="#FF96E6"/>
<rect x="370.80" y="621.42" width="1.69" height="2.60" fill="#0098E4"/>
<rect x="372.49" y="621.42" width="6.91" height="2.60" fill="#E6FF00"/>
<rect x="379.40" y="621.42" width="47.80" height="2.60" fill="#FF96E6"/>
<rect x="370.80" y="623.02" width="2.62" height="2.60" fill="#0098E4"/>
<rect x="373.42" y="623.02" width="53.78" height="2.60" fill="#FF96E6"/>
<rect x="370.80" y="624.62" width="0.35" height="2.60" fill="#FF984C"/>
<rect x="371.15" y="624.62" width="56.05" height="2.60" fill="#FF96E6"/>
<rect x="370.80" y="626.22" width="4.39" height="2.60" fill="#0098E4"/>
<rect x="375.19" y="626.22" width="52.01" height="2.60" fill="#FF96E6"/>
<rect x="370.80" y="627.82" width="5.80" height="2.60" fill="#0098E4"/>
<rect x="376.60" y="627.82" width="50.60" height="2.60" fill="#FF96E6"/>
<rect x="370.80" y="629.42" width="1.53" height="2.60" fill="#0098E4"/>
<rect x="372.33" y="629.42" width="54.87" height="2.60" fill="#FF96E6"/>
<rect x="370.80" y="631.02" width="56.40" height="2.60" fill="#FF96E6"/>
<rect x="370.80" y="632.62" width="2.90" height="2.60" fill="#0098E4"/>
<rect x="373.70" y="632.62" width="8.69" height="2.60" fill="#E6FF00"/>
<rect x="382.39" y="632.62" width="44.81" height="2.60" fill="#FF96E6"/>
<rect x="370.80" y="634.22" width="3.36" height="2.60" fill="#FF984C"/>
<rect x="374.16" y="634.22" width="0.61" height="2.60" fill="#0098E4"/>
<rect x="374.77" y="634.22" width="52.43" height="2.60" fill="#FF96E6"/>
<rect x="370.80" y="635.81" width="0.51" height="2.60" fill="#FF984C"/>
<rect x="371.31" y="635.81" width="0.16" height="2.60" fill="#0098E4"/>
<rect x="371.47" y="635.81" width="55.73" height="2.60" fill="#FF96E6"/>
<rect x="370.80" y="637.41" width="2.87" height="2.60" fill="#0098E4"/>
<rect x="373.67" y="637.41" width="5.57" height="2.60" fill="#E6FF00"/>
<rect x="379.25" y="637.41" width="47.95" height="2.60" fill="#FF96E6"/>
<rect x="370.80" y="639.01" width="2.28" height="2.60" fill="#FF984C"/>
<rect x="373.08" y="639.01" width="0.07" height="2.60" fill="#0098E4"/>
<rect x="373.16" y="639.01" width="1.90" height="2.60" fill="#E6FF00"/>
<rect x="375.05" y="639.01" width="52.15" height="2.60" fill="#FF96E6"/>
<rect x="370.80" y="640.61" width="2.65" height="2.60" fill="#FF984C"/>
<rect x="373.45" y="640.61" width="0.59" height="2.60" fill="#0098E4"/>
<rect x="374.04" y="640.61" width="3.39" height="2.60" fill="#E6FF00"/>
<rect x="377.43" y="640.61" width="49.77" height="2.60" fill="#FF96E6"/>
<rect x="370.80" y="642.21" width="0.41" height="2.60" fill="#FF984C"/>
<rect x="371.21" y="642.21" width="0.90" height="2.60" fill="#E6FF00"/>
<rect x="372.11" y="642.21" width="55.09" height="2.60" fill="#FF96E6"/>
<rect x="370.80" y="643.81" width="0.36" height="2.60" fill="#FF984C"/>
<rect x="371.16" y="643.81" width="1.76" height="2.60" fill="#0098E4"/>
<rect x="372.92" y="643.81" width="54.28" height="2.60" fill="#FF96E6"/>
<rect x="370.80" y="645.41" width="56.40" height="2.60" fill="#FF96E6"/>
<rect x="370.80" y="647.01" width="9.71" height="2.60" fill="#E6FF00"/>
<rect x="380.51" y="647.01" width="46.69" height="2.60" fill="#FF96E6"/>
<rect x="370.80" y="648.61" width="0.92" height="2.60" fill="#FF984C"/>
<rect x="371.72" y="648.61" width="0.49" height="2.60" fill="#0098E4"/>
<rect x="372.20" y="648.61" width="3.88" height="2.60" fill="#E6FF00"/>
<rect x="376.09" y="648.61" width="51.11" height="2.60" fill="#FF96E6"/>
<rect x="370.80" y="650.20" width="0.42" height="2.60" fill="#FF984C"/>
<rect x="371.22" y="650.20" width="55.98" height="2.60" fill="#FF96E6"/>
<rect x="370.80" y="651.80" width="0.53" height="2.60" fill="#FF984C"/>
<rect x="371.35" y="651.80" width="55.85" height="2.60" fill="#FF96E6"/>
<rect x="370.80" y="653.40" width="0.74" height="2.60" fill="#FF984C"/>
<rect x="371.54" y="653.40" width="2.22" height="2.60" fill="#E6FF00"/>
<rect x="373.76" y="653.40" width="53.44" height="2.60" fill="#FF96E6"/>
<rect x="370.80" y="655.00" width="0.18" height="2.60" fill="#FF984C"/>
<rect x="370.98" y="655.00" width="3.41" height="2.60" fill="#E6FF00"/>
<rect x="374.39" y="655.00" width="52.81" height="2.60" fill="#FF96E6"/>
<rect x="370.80" y="656.60" width="0.45" height="2.60" fill="#0098E4"/>
<rect x="371.25" y="656.60" width="55.95" height="2.60" fill="#FF96E6"/>
<rect x="370.80" y="658.20" width="1.55" height="2.60" fill="#FF984C"/>
<rect x="372.35" y="658.20" width="54.85" height="2.60" fill="#FF96E6"/>
<rect x="370.80" y="659.80" width="1.67" height="2.60" fill="#FF984C"/>
<rect x="372.47" y="659.80" width="2.25" height="2.60" fill="#0098E4"/>
<rect x="374.72" y="659.80" width="6.58" height="2.60" fill="#E6FF00"/>
<rect x="381.30" y="659.80" width="45.90" height="2.60" fill="#FF96E6"/>
<rect x="370.80" y="661.40" width="0.66" height="2.60" fill="#FF984C"/>
<rect x="371.46" y="661.40" width="4.40" height="2.60" fill="#0098E4"/>
<rect x="375.85" y="661.40" width="0.76" height="2.60" fill="#E6FF00"/>
<rect x="376.62" y="661.40" width="50.58" height="2.60" fill="#FF96E6"/>
<rect x="370.80" y="663.00" width="0.77" height="2.60" fill="#FF984C"/>
<rect x="371.57" y="663.00" width="10.03" height="2.60" fill="#0098E4"/>
<rect x="381.60" y="663.00" width="2.59" height="2.60" fill="#E6FF00"/>
<rect x="384.20" y="663.00" width="43.00" height="2.60" fill="#FF96E6"/>
<rect x="370.80" y="664.60" width="2.07" height="2.60" fill="#FF984C"/>
<rect x="372.87" y="664.60" width="1.67" height="2.60" fill="#0098E4"/>
<rect x="374.54" y="664.60" width="3.37" height="2.60" fill="#E6FF00"/>
<rect x="377.91" y="664.60" width="49.29" height="2.60" fill="#FF96E6"/>
<rect x="370.80" y="666.20" width="1.94" height="2.60" fill="#0098E4"/>
<rect x="372.74" y="666.20" width="54.46" height="2.60" fill="#FF96E6"/>
<rect x="370.80" y="667.80" width="2.01" height="2.60" fill="#FF984C"/>
<rect x="372.81" y="667.80" width="2.18" height="2.60" fill="#0098E4"/>
<rect x="375.00" y="667.80" width="52.20" height="2.60" fill="#FF96E6"/>
<rect x="370.80" y="669.40" width="0.92" height="2.60" fill="#FF984C"/>
<rect x="371.72" y="669.40" width="2.26" height="2.60" fill="#E6FF00"/>
<rect x="373.98" y="669.40" width="53.22" height="2.60" fill="#FF96E6"/>
<rect x="370.80" y="671.00" width="1.96" height="2.60" fill="#FF984C"/>
<rect x="372.76" y="671.00" width="0.86" height="2.60" fill="#0098E4"/>
<rect x="373.62" y="671.00" width="53.58" height="2.60" fill="#FF96E6"/>
<rect x="370.80" y="672.60" width="2.27" height="2.57" fill="#0098E4"/>
<rect x="373.07" y="672.60" width="7.69" height="2.57" fill="#E6FF00"/>
<rect x="380.76" y="672.60" width="46.44" height="2.57" fill="#FF96E6"/>
<rect x="370.80" y="674.17" width="6.08" height="2.57" fill="#FF984C"/>
<rect x="376.88" y="674.17" width="2.42" height="2.57" fill="#0098E4"/>
<rect x="379.30" y="674.17" width="2.58" height="2.57" fill="#E6FF00"/>
<rect x="381.89" y="674.17" width="45.31" height="2.57" fill="#FF96E6"/>
<rect x="370.80" y="675.74" width="3.95" height="2.57" fill="#0098E4"/>
<rect x="374.75" y="675.74" width="0.57" height="2.57" fill="#E6FF00"/>
<rect x="375.33" y="675.74" width="51.87" height="2.57" fill="#FF96E6"/>
<rect x="370.80" y="677.31" width="4.54" height="2.57" fill="#E6FF00"/>
<rect x="375.34" y="677.31" width="51.86" height="2.57" fill="#FF96E6"/>
<rect x="370.80" y="678.88" width="0.50" height="2.57" fill="#FF984C"/>
<rect x="371.30" y="678.88" width="16.70" height="2.57" fill="#0098E4"/>
<rect x="388.00" y="678.88" width="39.20" height="2.57" fill="#FF96E6"/>
<rect x="370.80" y="680.45" width="1.73" height="2.57" fill="#FF984C"/>
<rect x="372.53" y="680.45" width="54.67" height="2.57" fill="#FF96E6"/>
<rect x="370.80" y="682.02" width="0.08" height="2.57" fill="#FF984C"/>
<rect x="370.88" y="682.02" width="2.94" height="2.57" fill="#0098E4"/>
<rect x="373.82" y="682.02" width="18.27" height="2.57" fill="#E6FF00"/>
<rect x="392.09" y="682.02" width="35.11" height="2.57" fill="#FF96E6"/>
<rect x="370.80" y="683.59" width="0.65" height="2.57" fill="#FF984C"/>
<rect x="371.45" y="683.59" width="55.75" height="2.57" fill="#FF96E6"/>
<rect x="370.80" y="685.16" width="5.27" height="2.57" fill="#E6FF00"/>
<rect x="376.07" y="685.16" width="51.13" height="2.57" fill="#FF96E6"/>
<rect x="370.80" y="686.73" width="4.02" height="2.57" fill="#0098E4"/>
<rect x="374.82" y="686.73" width="52.38" height="2.57" fill="#FF96E6"/>
<rect x="370.82" y="688.30" width="56.38" height="2.60" fill="#FF96E6"/>
<rect x="370.80" y="689.90" width="0.90" height="2.60" fill="#FF984C"/>
<rect x="371.70" y="689.90" width="0.78" height="2.60" fill="#0098E4"/>
<rect x="372.48" y="689.90" width="4.52" height="2.60" fill="#E6FF00"/>
<rect x="377.01" y="689.90" width="50.19" height="2.60" fill="#FF96E6"/>
<rect x="370.80" y="691.50" width="5.46" height="2.60" fill="#FF984C"/>
<rect x="376.26" y="691.50" width="1.73" height="2.60" fill="#0098E4"/>
<rect x="377.99" y="691.50" width="49.21" height="2.60" fill="#FF96E6"/>
<rect x="370.80" y="693.10" width="0.43" height="2.60" fill="#0098E4"/>
<rect x="371.23" y="693.10" width="55.97" height="2.60" fill="#FF96E6"/>
<rect x="370.80" y="694.70" width="1.01" height="2.60" fill="#FF984C"/>
<rect x="371.81" y="694.70" width="0.24" height="2.60" fill="#0098E4"/>
<rect x="372.05" y="694.70" width="55.15" height="2.60" fill="#FF96E6"/>
<rect x="370.80" y="696.30" width="0.43" height="2.60" fill="#FF984C"/>
<rect x="371.23" y="696.30" width="1.68" height="2.60" fill="#0098E4"/>
<rect x="372.91" y="696.30" width="54.29" height="2.60" fill="#FF96E6"/>
<rect x="370.80" y="697.90" width="0.96" height="2.60" fill="#FF984C"/>
<rect x="371.76" y="697.90" width="55.44" height="2.60" fill="#FF96E6"/>
<rect x="370.80" y="699.50" width="4.79" height="2.60" fill="#E6FF00"/>
<rect x="375.59" y="699.50" width="51.61" height="2.60" fill="#FF96E6"/>
<rect x="370.80" y="701.10" width="0.27" height="2.60" fill="#FF984C"/>
<rect x="371.07" y="701.10" width="10.01" height="2.60" fill="#E6FF00"/>
<rect x="381.08" y="701.10" width="46.12" height="2.60" fill="#FF96E6"/>
<rect x="370.80" y="702.70" width="6.56" height="2.60" fill="#0098E4"/>
<rect x="377.36" y="702.70" width="49.84" height="2.60" fill="#FF96E6"/>
<rect x="370.80" y="704.30" width="3.43" height="2.54" fill="#FF984C"/>
<rect x="374.23" y="704.30" width="52.97" height="2.54" fill="#FF96E6"/>
<rect x="370.80" y="705.84" width="0.26" height="2.54" fill="#FF984C"/>
<rect x="371.06" y="705.84" width="3.82" height="2.54" fill="#E6FF00"/>
<rect x="374.88" y="705.84" width="52.32" height="2.54" fill="#FF96E6"/>
<rect x="370.80" y="707.38" width="56.40" height="2.54" fill="#FF96E6"/>
<rect x="370.80" y="708.92" width="0.37" height="2.54" fill="#FF984C"/>
<rect x="371.17" y="708.92" width="0.46" height="2.54" fill="#0098E4"/>
<rect x="371.63" y="708.92" width="2.89" height="2.54" fill="#E6FF00"/>
<rect x="374.52" y="708.92" width="52.68" height="2.54" fill="#FF96E6"/>
<rect x="370.80" y="710.46" width="1.66" height="2.54" fill="#0098E4"/>
<rect x="372.46" y="710.46" width="54.74" height="2.54" fill="#FF96E6"/>
<rect x="370.80" y="712.00" width="56.40" height="2.54" fill="#FF96E6"/>
<rect x="370.80" y="713.54" width="0.59" height="2.54" fill="#E6FF00"/>
<rect x="371.39" y="713.54" width="55.81" height="2.54" fill="#FF96E6"/>
<rect x="370.80" y="715.08" width="0.52" height="2.54" fill="#0098E4"/>
<rect x="371.32" y="715.08" width="55.88" height="2.54" fill="#FF96E6"/>
<rect x="370.80" y="716.62" width="3.01" height="2.54" fill="#E6FF00"/>
<rect x="373.81" y="716.62" width="53.39" height="2.54" fill="#FF96E6"/>
<rect x="370.80" y="718.16" width="0.26" height="2.54" fill="#FF984C"/>
<rect x="371.06" y="718.16" width="2.72" height="2.54" fill="#0098E4"/>
<rect x="373.77" y="718.16" width="53.43" height="2.54" fill="#FF96E6"/>
<rect x="370.80" y="719.70" width="0.32" height="2.59" fill="#FF984C"/>
<rect x="371.12" y="719.70" width="3.28" height="2.59" fill="#0098E4"/>
<rect x="374.40" y="719.70" width="52.80" height="2.59" fill="#FF96E6"/>
<rect x="370.80" y="721.29" width="0.98" height="2.59" fill="#0098E4"/>
<rect x="371.78" y="721.29" width="0.84" height="2.59" fill="#E6FF00"/>
<rect x="372.62" y="721.29" width="54.58" height="2.59" fill="#FF96E6"/>
<rect x="370.80" y="722.88" width="1.73" height="2.59" fill="#0098E4"/>
<rect x="372.53" y="722.88" width="4.68" height="2.59" fill="#E6FF00"/>
<rect x="377.20" y="722.88" width="50.00" height="2.59" fill="#FF96E6"/>
<rect x="370.80" y="724.47" width="56.40" height="2.59" fill="#FF96E6"/>
<rect x="370.80" y="726.06" width="0.41" height="2.59" fill="#0098E4"/>
<rect x="371.21" y="726.06" width="2.48" height="2.59" fill="#E6FF00"/>
<rect x="373.68" y="726.06" width="53.52" height="2.59" fill="#FF96E6"/>
<rect x="370.80" y="727.65" width="0.40" height="2.59" fill="#FF984C"/>
<rect x="371.20" y="727.65" width="56.00" height="2.59" fill="#FF96E6"/>
<rect x="370.80" y="729.24" width="0.32" height="2.59" fill="#FF984C"/>
<rect x="371.12" y="729.24" width="7.82" height="2.59" fill="#E6FF00"/>
<rect x="378.94" y="729.24" width="48.26" height="2.59" fill="#FF96E6"/>
<rect x="370.80" y="730.83" width="2.04" height="2.59" fill="#FF984C"/>
<rect x="372.84" y="730.83" width="54.36" height="2.59" fill="#FF96E6"/>
<rect x="370.80" y="732.42" width="0.43" height="2.59" fill="#FF984C"/>
<rect x="371.23" y="732.42" width="6.52" height="2.59" fill="#E6FF00"/>
<rect x="377.75" y="732.42" width="49.45" height="2.59" fill="#FF96E6"/>
<rect x="370.80" y="734.01" width="1.54" height="2.59" fill="#0098E4"/>
<rect x="372.34" y="734.01" width="1.12" height="2.59" fill="#E6FF00"/>
<rect x="373.45" y="734.01" width="53.75" height="2.59" fill="#FF96E6"/>
<rect x="370.80" y="735.60" width="1.30" height="2.56" fill="#FF984C"/>
<rect x="372.10" y="735.60" width="55.10" height="2.56" fill="#FF96E6"/>
<rect x="370.80" y="737.16" width="56.40" height="2.57" fill="#FF96E6"/>
<rect x="370.80" y="738.73" width="0.71" height="2.57" fill="#0098E4"/>
<rect x="371.51" y="738.73" width="4.74" height="2.57" fill="#E6FF00"/>
<rect x="376.25" y="738.73" width="50.95" height="2.57" fill="#FF96E6"/>
<rect x="370.80" y="740.30" width="0.29" height="2.56" fill="#FF984C"/>
<rect x="371.09" y="740.30" width="2.36" height="2.56" fill="#E6FF00"/>
<rect x="373.46" y="740.30" width="53.74" height="2.56" fill="#FF96E6"/>
<rect x="370.80" y="741.86" width="0.35" height="2.56" fill="#FF984C"/>
<rect x="371.15" y="741.86" width="5.27" height="2.56" fill="#E6FF00"/>
<rect x="376.42" y="741.86" width="50.78" height="2.56" fill="#FF96E6"/>
<rect x="370.80" y="743.42" width="56.40" height="2.57" fill="#FF96E6"/>
<rect x="370.80" y="744.99" width="1.50" height="2.57" fill="#FF984C"/>
<rect x="372.30" y="744.99" width="2.97" height="2.57" fill="#E6FF00"/>
<rect x="375.27" y="744.99" width="51.93" height="2.57" fill="#FF96E6"/>
<rect x="370.80" y="746.56" width="1.86" height="2.56" fill="#FF984C"/>
<rect x="372.66" y="746.56" width="54.54" height="2.56" fill="#FF96E6"/>
<rect x="370.80" y="748.12" width="1.12" height="2.56" fill="#FF984C"/>
<rect x="371.92" y="748.12" width="5.89" height="2.56" fill="#0098E4"/>
<rect x="377.80" y="748.12" width="3.15" height="2.56" fill="#E6FF00"/>
<rect x="380.95" y="748.12" width="46.25" height="2.56" fill="#FF96E6"/>
<rect x="370.80" y="749.68" width="1.61" height="2.57" fill="#0098E4"/>
<rect x="372.41" y="749.68" width="11.92" height="2.57" fill="#E6FF00"/>
<rect x="384.33" y="749.68" width="42.87" height="2.57" fill="#FF96E6"/>
<rect x="370.80" y="751.25" width="5.58" height="2.59" fill="#0098E4"/>
<rect x="376.38" y="751.25" width="50.82" height="2.59" fill="#FF96E6"/>
<rect x="370.80" y="752.84" width="3.41" height="2.59" fill="#FF984C"/>
<rect x="374.21" y="752.84" width="2.69" height="2.59" fill="#0098E4"/>
<rect x="376.90" y="752.84" width="50.30" height="2.59" fill="#FF96E6"/>
<rect x="370.80" y="754.43" width="56.40" height="2.59" fill="#FF96E6"/>
<rect x="370.80" y="756.02" width="4.09" height="2.59" fill="#0098E4"/>
<rect x="374.89" y="756.02" width="52.31" height="2.59" fill="#FF96E6"/>
<rect x="370.80" y="757.61" width="1.59" height="2.59" fill="#0098E4"/>
<rect x="372.39" y="757.61" width="54.81" height="2.59" fill="#FF96E6"/>
<rect x="370.80" y="759.20" width="0.16" height="2.59" fill="#FF984C"/>
<rect x="370.96" y="759.20" width="1.44" height="2.59" fill="#0098E4"/>
<rect x="372.40" y="759.20" width="4.44" height="2.59" fill="#E6FF00"/>
<rect x="376.84" y="759.20" width="50.36" height="2.59" fill="#FF96E6"/>
<rect x="370.80" y="760.79" width="0.94" height="2.59" fill="#FF984C"/>
<rect x="371.74" y="760.79" width="5.23" height="2.59" fill="#0098E4"/>
<rect x="376.97" y="760.79" width="0.69" height="2.59" fill="#E6FF00"/>
<rect x="377.66" y="760.79" width="49.54" height="2.59" fill="#FF96E6"/>
<rect x="370.80" y="762.38" width="56.40" height="2.59" fill="#FF96E6"/>
<rect x="370.80" y="763.97" width="2.25" height="2.59" fill="#0098E4"/>
<rect x="373.05" y="763.97" width="54.15" height="2.59" fill="#FF96E6"/>
<rect x="370.80" y="765.56" width="1.73" height="2.59" fill="#0098E4"/>
<rect x="372.53" y="765.56" width="54.67" height="2.59" fill="#FF96E6"/>
<rect x="370.80" y="767.15" width="1.08" height="2.53" fill="#FF984C"/>
<rect x="371.88" y="767.15" width="16.76" height="2.53" fill="#E6FF00"/>
<rect x="388.64" y="767.15" width="38.56" height="2.53" fill="#FF96E6"/>
<rect x="370.80" y="768.68" width="0.13" height="2.54" fill="#FF984C"/>
<rect x="370.93" y="768.68" width="2.19" height="2.54" fill="#0098E4"/>
<rect x="373.12" y="768.68" width="54.08" height="2.54" fill="#FF96E6"/>
<rect x="370.80" y="770.22" width="0.95" height="2.53" fill="#FF984C"/>
<rect x="371.75" y="770.22" width="8.77" height="2.53" fill="#0098E4"/>
<rect x="380.51" y="770.22" width="1.46" height="2.53" fill="#E6FF00"/>
<rect x="381.97" y="770.22" width="45.23" height="2.53" fill="#FF96E6"/>
<rect x="370.80" y="771.75" width="56.40" height="2.53" fill="#FF96E6"/>
<rect x="370.80" y="773.29" width="10.42" height="2.54" fill="#E6FF00"/>
<rect x="381.22" y="773.29" width="45.98" height="2.54" fill="#FF96E6"/>
<rect x="370.80" y="774.83" width="0.17" height="2.53" fill="#FF984C"/>
<rect x="370.97" y="774.83" width="5.87" height="2.53" fill="#0098E4"/>
<rect x="376.84" y="774.83" width="2.05" height="2.53" fill="#E6FF00"/>
<rect x="378.89" y="774.83" width="48.31" height="2.53" fill="#FF96E6"/>
<rect x="370.80" y="776.36" width="2.56" height="2.53" fill="#E6FF00"/>
<rect x="373.36" y="776.36" width="53.84" height="2.53" fill="#FF96E6"/>
<rect x="370.80" y="777.89" width="0.27" height="2.53" fill="#FF984C"/>
<rect x="371.07" y="777.89" width="5.42" height="2.53" fill="#E6FF00"/>
<rect x="376.49" y="777.89" width="50.71" height="2.53" fill="#FF96E6"/>
<rect x="370.80" y="779.43" width="3.16" height="2.54" fill="#FF984C"/>
<rect x="373.96" y="779.43" width="2.64" height="2.54" fill="#0098E4"/>
<rect x="376.61" y="779.43" width="50.59" height="2.54" fill="#FF96E6"/>
<rect x="370.80" y="780.97" width="0.36" height="2.53" fill="#0098E4"/>
<rect x="371.16" y="780.97" width="1.22" height="2.53" fill="#E6FF00"/>
<rect x="372.39" y="780.97" width="54.81" height="2.53" fill="#FF96E6"/>
<rect x="370.80" y="782.50" width="56.40" height="2.60" fill="#FF96E6"/>
<rect x="370.81" y="784.10" width="9.88" height="2.60" fill="#E6FF00"/>
<rect x="380.69" y="784.10" width="46.51" height="2.60" fill="#FF96E6"/>
<rect x="370.80" y="785.69" width="2.87" height="2.59" fill="#0098E4"/>
<rect x="373.67" y="785.69" width="53.53" height="2.59" fill="#FF96E6"/>
<rect x="370.80" y="787.28" width="9.01" height="2.60" fill="#E6FF00"/>
<rect x="379.81" y="787.28" width="47.39" height="2.60" fill="#FF96E6"/>
<rect x="370.80" y="788.88" width="2.60" height="2.60" fill="#E6FF00"/>
<rect x="373.40" y="788.88" width="53.80" height="2.60" fill="#FF96E6"/>
<rect x="370.80" y="790.48" width="56.40" height="2.60" fill="#FF96E6"/>
<rect x="370.80" y="792.07" width="1.54" height="2.60" fill="#FF984C"/>
<rect x="372.34" y="792.07" width="8.76" height="2.60" fill="#0098E4"/>
<rect x="381.10" y="792.07" width="7.03" height="2.60" fill="#E6FF00"/>
<rect x="388.13" y="792.07" width="39.07" height="2.60" fill="#FF96E6"/>
<rect x="370.80" y="793.67" width="3.87" height="2.59" fill="#0098E4"/>
<rect x="374.67" y="793.67" width="52.53" height="2.59" fill="#FF96E6"/>
<rect x="370.80" y="795.26" width="1.22" height="2.60" fill="#FF984C"/>
<rect x="372.02" y="795.26" width="55.18" height="2.60" fill="#FF96E6"/>
<rect x="370.83" y="796.86" width="3.31" height="2.60" fill="#E6FF00"/>
<rect x="374.14" y="796.86" width="53.06" height="2.60" fill="#FF96E6"/>
<rect x="370.80" y="798.45" width="1.85" height="2.56" fill="#0098E4"/>
<rect x="372.65" y="798.45" width="4.48" height="2.56" fill="#E6FF00"/>
<rect x="377.12" y="798.45" width="50.08" height="2.56" fill="#FF96E6"/>
<rect x="370.80" y="800.01" width="56.40" height="2.56" fill="#FF96E6"/>
<rect x="370.80" y="801.57" width="1.18" height="2.56" fill="#0098E4"/>
<rect x="371.98" y="801.57" width="55.22" height="2.56" fill="#FF96E6"/>
<rect x="370.80" y="803.13" width="0.32" height="2.56" fill="#FF984C"/>
<rect x="371.12" y="803.13" width="3.09" height="2.56" fill="#0098E4"/>
<rect x="374.20" y="803.13" width="53.00" height="2.56" fill="#FF96E6"/>
<rect x="370.80" y="804.69" width="1.00" height="2.56" fill="#FF984C"/>
<rect x="371.80" y="804.69" width="55.40" height="2.56" fill="#FF96E6"/>
<rect x="370.80" y="806.26" width="4.67" height="2.56" fill="#E6FF00"/>
<rect x="375.47" y="806.26" width="51.73" height="2.56" fill="#FF96E6"/>
<rect x="370.80" y="807.82" width="5.01" height="2.56" fill="#0098E4"/>
<rect x="375.81" y="807.82" width="51.39" height="2.56" fill="#FF96E6"/>
<rect x="370.80" y="809.38" width="0.51" height="2.56" fill="#FF984C"/>
<rect x="371.31" y="809.38" width="4.69" height="2.56" fill="#E6FF00"/>
<rect x="376.00" y="809.38" width="51.20" height="2.56" fill="#FF96E6"/>
<rect x="370.80" y="810.94" width="0.07" height="2.56" fill="#FF984C"/>
<rect x="370.87" y="810.94" width="56.33" height="2.56" fill="#FF96E6"/>
<rect x="370.80" y="812.50" width="0.95" height="2.58" fill="#0098E4"/>
<rect x="371.75" y="812.50" width="55.45" height="2.58" fill="#FF96E6"/>
<rect x="370.80" y="814.08" width="0.88" height="2.58" fill="#FF984C"/>
<rect x="371.68" y="814.08" width="2.62" height="2.58" fill="#0098E4"/>
<rect x="374.30" y="814.08" width="10.17" height="2.58" fill="#E6FF00"/>
<rect x="384.47" y="814.08" width="42.73" height="2.58" fill="#FF96E6"/>
<rect x="370.80" y="815.66" width="1.43" height="2.58" fill="#0098E4"/>
<rect x="372.23" y="815.66" width="6.13" height="2.58" fill="#E6FF00"/>
<rect x="378.36" y="815.66" width="48.84" height="2.58" fill="#FF96E6"/>
<rect x="370.80" y="817.24" width="9.88" height="2.58" fill="#0098E4"/>
<rect x="380.68" y="817.24" width="0.23" height="2.58" fill="#E6FF00"/>
<rect x="380.91" y="817.24" width="46.29" height="2.58" fill="#FF96E6"/>
<rect x="370.80" y="818.82" width="0.10" height="2.58" fill="#FF984C"/>
<rect x="370.90" y="818.82" width="5.51" height="2.58" fill="#0098E4"/>
<rect x="376.41" y="818.82" width="50.79" height="2.58" fill="#FF96E6"/>
<rect x="370.80" y="820.40" width="56.40" height="2.58" fill="#FF96E6"/>
<rect x="370.80" y="821.98" width="0.92" height="2.58" fill="#FF984C"/>
<rect x="371.72" y="821.98" width="55.48" height="2.58" fill="#FF96E6"/>
<rect x="370.80" y="823.56" width="1.21" height="2.58" fill="#0098E4"/>
<rect x="372.01" y="823.56" width="2.66" height="2.58" fill="#E6FF00"/>
<rect x="374.67" y="823.56" width="52.53" height="2.58" fill="#FF96E6"/>
<rect x="370.80" y="825.14" width="2.48" height="2.58" fill="#0098E4"/>
<rect x="373.28" y="825.14" width="8.31" height="2.58" fill="#E6FF00"/>
<rect x="381.59" y="825.14" width="45.61" height="2.58" fill="#FF96E6"/>
<rect x="370.80" y="826.72" width="10.54" height="2.58" fill="#E6FF00"/>
<rect x="381.34" y="826.72" width="45.86" height="2.58" fill="#FF96E6"/>
<rect x="370.84" y="828.30" width="6.80" height="2.57" fill="#E6FF00"/>
<rect x="377.64" y="828.30" width="49.56" height="2.57" fill="#FF96E6"/>
<rect x="370.80" y="829.87" width="0.97" height="2.57" fill="#0098E4"/>
<rect x="371.77" y="829.87" width="5.32" height="2.57" fill="#E6FF00"/>
<rect x="377.09" y="829.87" width="50.11" height="2.57" fill="#FF96E6"/>
<rect x="370.80" y="831.44" width="56.40" height="2.57" fill="#FF96E6"/>
<rect x="370.80" y="833.00" width="56.40" height="2.57" fill="#FF96E6"/>
<rect x="370.80" y="834.57" width="0.90" height="2.57" fill="#FF984C"/>
<rect x="371.70" y="834.57" width="55.50" height="2.57" fill="#FF96E6"/>
<rect x="370.80" y="836.14" width="18.72" height="2.57" fill="#E6FF00"/>
<rect x="389.52" y="836.14" width="37.68" height="2.57" fill="#FF96E6"/>
<rect x="370.80" y="837.71" width="2.02" height="2.57" fill="#E6FF00"/>
<rect x="372.82" y="837.71" width="54.38" height="2.57" fill="#FF96E6"/>
<rect x="370.80" y="839.27" width="1.03" height="2.57" fill="#0098E4"/>
<rect x="371.83" y="839.27" width="19.29" height="2.57" fill="#E6FF00"/>
<rect x="391.12" y="839.27" width="36.08" height="2.57" fill="#FF96E6"/>
<rect x="370.80" y="840.84" width="2.79" height="2.57" fill="#0098E4"/>
<rect x="373.59" y="840.84" width="8.18" height="2.57" fill="#E6FF00"/>
<rect x="381.77" y="840.84" width="45.43" height="2.57" fill="#FF96E6"/>
<rect x="370.80" y="842.41" width="11.30" height="2.57" fill="#E6FF00"/>
<rect x="382.10" y="842.41" width="45.10" height="2.57" fill="#FF96E6"/>
<rect x="370.80" y="843.98" width="1.15" height="2.57" fill="#FF984C"/>
<rect x="371.95" y="843.98" width="7.88" height="2.57" fill="#E6FF00"/>
<rect x="379.83" y="843.98" width="47.37" height="2.57" fill="#FF96E6"/>
<rect x="370.80" y="845.55" width="1.15" height="2.57" fill="#0098E4"/>
<rect x="371.95" y="845.55" width="55.25" height="2.57" fill="#FF96E6"/>
<rect x="370.80" y="847.11" width="4.07" height="2.57" fill="#E6FF00"/>
<rect x="374.87" y="847.11" width="52.33" height="2.57" fill="#FF96E6"/>
<rect x="370.80" y="848.68" width="56.40" height="2.57" fill="#FF96E6"/>
<rect x="370.80" y="850.25" width="1.37" height="2.57" fill="#0098E4"/>
<rect x="372.17" y="850.25" width="55.03" height="2.57" fill="#FF96E6"/>
<rect x="370.80" y="851.82" width="56.40" height="2.57" fill="#FF96E6"/>
<rect x="370.80" y="853.38" width="1.60" height="2.57" fill="#0098E4"/>
<rect x="372.40" y="853.38" width="2.40" height="2.57" fill="#E6FF00"/>
<rect x="374.80" y="853.38" width="52.40" height="2.57" fill="#FF96E6"/>
<rect x="370.80" y="854.95" width="19.34" height="2.57" fill="#E6FF00"/>
<rect x="390.14" y="854.95" width="37.06" height="2.57" fill="#FF96E6"/>
<rect x="370.80" y="856.52" width="1.35" height="2.57" fill="#0098E4"/>
<rect x="372.15" y="856.52" width="0.49" height="2.57" fill="#E6FF00"/>
<rect x="372.63" y="856.52" width="54.57" height="2.57" fill="#FF96E6"/>
<rect x="370.80" y="858.09" width="56.40" height="2.57" fill="#FF96E6"/>
<rect x="370.80" y="859.65" width="1.60" height="2.57" fill="#E6FF00"/>
<rect x="372.40" y="859.65" width="54.80" height="2.57" fill="#FF96E6"/>
<rect x="370.80" y="861.22" width="1.55" height="2.57" fill="#FF984C"/>
<rect x="372.35" y="861.22" width="0.34" height="2.57" fill="#0098E4"/>
<rect x="372.69" y="861.22" width="14.89" height="2.57" fill="#E6FF00"/>
<rect x="387.59" y="861.22" width="39.61" height="2.57" fill="#FF96E6"/>
<rect x="370.80" y="862.79" width="0.08" height="2.57" fill="#FF984C"/>
<rect x="370.88" y="862.79" width="4.26" height="2.57" fill="#0098E4"/>
<rect x="375.14" y="862.79" width="52.06" height="2.57" fill="#FF96E6"/>
<rect x="370.80" y="864.36" width="2.01" height="2.57" fill="#FF984C"/>
<rect x="372.81" y="864.36" width="4.96" height="2.57" fill="#0098E4"/>
<rect x="377.77" y="864.36" width="49.43" height="2.57" fill="#FF96E6"/>
<rect x="370.80" y="865.93" width="2.30" height="2.57" fill="#0098E4"/>
<rect x="373.10" y="865.93" width="54.10" height="2.57" fill="#FF96E6"/>
<rect x="370.80" y="867.49" width="56.40" height="2.57" fill="#FF96E6"/>
<rect x="370.80" y="869.06" width="0.44" height="2.57" fill="#FF984C"/>
<rect x="371.24" y="869.06" width="1.98" height="2.57" fill="#0098E4"/>
<rect x="373.22" y="869.06" width="53.98" height="2.57" fill="#FF96E6"/>
<rect x="370.80" y="870.63" width="0.80" height="2.57" fill="#FF984C"/>
<rect x="371.60" y="870.63" width="0.11" height="2.57" fill="#0098E4"/>
<rect x="371.71" y="870.63" width="7.20" height="2.57" fill="#E6FF00"/>
<rect x="378.91" y="870.63" width="48.29" height="2.57" fill="#FF96E6"/>
<rect x="370.80" y="872.20" width="56.40" height="2.57" fill="#FF96E6"/>
<rect x="370.80" y="873.76" width="1.05" height="2.57" fill="#0098E4"/>
<rect x="371.85" y="873.76" width="4.90" height="2.57" fill="#E6FF00"/>
<rect x="376.75" y="873.76" width="50.45" height="2.57" fill="#FF96E6"/>
<rect x="370.80" y="875.33" width="1.15" height="2.57" fill="#FF984C"/>
<rect x="371.95" y="875.33" width="0.86" height="2.57" fill="#0098E4"/>
<rect x="372.80" y="875.33" width="1.85" height="2.57" fill="#E6FF00"/>
<rect x="374.65" y="875.33" width="52.55" height="2.57" fill="#FF96E6"/>
<rect x="370.80" y="876.90" width="0.52" height="2.56" fill="#FF984C"/>
<rect x="371.32" y="876.90" width="9.15" height="2.56" fill="#E6FF00"/>
<rect x="380.47" y="876.90" width="46.73" height="2.56" fill="#FF96E6"/>
<rect x="370.80" y="878.46" width="0.39" height="2.56" fill="#FF984C"/>
<rect x="371.19" y="878.46" width="4.27" height="2.56" fill="#E6FF00"/>
<rect x="375.45" y="878.46" width="51.75" height="2.56" fill="#FF96E6"/>
<rect x="370.80" y="880.03" width="1.14" height="2.56" fill="#FF984C"/>
<rect x="371.94" y="880.03" width="6.87" height="2.56" fill="#0098E4"/>
<rect x="378.80" y="880.03" width="5.87" height="2.56" fill="#E6FF00"/>
<rect x="384.68" y="880.03" width="42.52" height="2.56" fill="#FF96E6"/>
<rect x="370.80" y="881.59" width="0.26" height="2.56" fill="#FF984C"/>
<rect x="371.06" y="881.59" width="6.26" height="2.56" fill="#0098E4"/>
<rect x="377.32" y="881.59" width="3.35" height="2.56" fill="#E6FF00"/>
<rect x="380.68" y="881.59" width="46.52" height="2.56" fill="#FF96E6"/>
<rect x="370.80" y="883.16" width="7.25" height="2.56" fill="#0098E4"/>
<rect x="378.05" y="883.16" width="0.06" height="2.56" fill="#E6FF00"/>
<rect x="378.11" y="883.16" width="49.09" height="2.56" fill="#FF96E6"/>
<rect x="370.80" y="884.72" width="9.21" height="2.56" fill="#0098E4"/>
<rect x="380.01" y="884.72" width="3.50" height="2.56" fill="#E6FF00"/>
<rect x="383.51" y="884.72" width="43.69" height="2.56" fill="#FF96E6"/>
<rect x="370.80" y="886.28" width="2.38" height="2.56" fill="#FF984C"/>
<rect x="373.18" y="886.28" width="7.48" height="2.56" fill="#0098E4"/>
<rect x="380.67" y="886.28" width="5.10" height="2.56" fill="#E6FF00"/>
<rect x="385.76" y="886.28" width="41.44" height="2.56" fill="#FF96E6"/>
<rect x="370.80" y="887.85" width="0.28" height="2.56" fill="#FF984C"/>
<rect x="371.08" y="887.85" width="10.55" height="2.56" fill="#0098E4"/>
<rect x="381.63" y="887.85" width="4.45" height="2.56" fill="#E6FF00"/>
<rect x="386.07" y="887.85" width="41.13" height="2.56" fill="#FF96E6"/>
<rect x="370.80" y="889.41" width="0.62" height="2.56" fill="#FF984C"/>
<rect x="371.42" y="889.41" width="3.40" height="2.56" fill="#0098E4"/>
<rect x="374.82" y="889.41" width="1.23" height="2.56" fill="#E6FF00"/>
<rect x="376.05" y="889.41" width="51.15" height="2.56" fill="#FF96E6"/>
<rect x="370.80" y="890.98" width="6.59" height="2.56" fill="#0098E4"/>
<rect x="377.39" y="890.98" width="3.95" height="2.56" fill="#E6FF00"/>
<rect x="381.34" y="890.98" width="45.86" height="2.56" fill="#FF96E6"/>
<rect x="370.80" y="892.54" width="0.08" height="2.56" fill="#FF984C"/>
<rect x="370.88" y="892.54" width="3.61" height="2.56" fill="#0098E4"/>
<rect x="374.49" y="892.54" width="1.60" height="2.56" fill="#E6FF00"/>
<rect x="376.09" y="892.54" width="51.11" height="2.56" fill="#FF96E6"/>
<rect x="370.80" y="894.10" width="3.06" height="2.56" fill="#FF984C"/>
<rect x="373.86" y="894.10" width="4.37" height="2.56" fill="#0098E4"/>
<rect x="378.23" y="894.10" width="3.15" height="2.56" fill="#E6FF00"/>
<rect x="381.38" y="894.10" width="45.82" height="2.56" fill="#FF96E6"/>
<rect x="370.80" y="895.67" width="8.46" height="2.56" fill="#0098E4"/>
<rect x="379.26" y="895.67" width="4.91" height="2.56" fill="#E6FF00"/>
<rect x="384.17" y="895.67" width="43.03" height="2.56" fill="#FF96E6"/>
<rect x="370.80" y="897.23" width="0.90" height="2.56" fill="#FF984C"/>
<rect x="371.70" y="897.23" width="2.04" height="2.56" fill="#0098E4"/>
<rect x="373.74" y="897.23" width="14.63" height="2.56" fill="#E6FF00"/>
<rect x="388.37" y="897.23" width="38.83" height="2.56" fill="#FF96E6"/>
<rect x="370.80" y="898.80" width="10.54" height="2.56" fill="#0098E4"/>
<rect x="381.34" y="898.80" width="9.65" height="2.56" fill="#E6FF00"/>
<rect x="391.00" y="898.80" width="36.20" height="2.56" fill="#FF96E6"/>
<rect x="370.80" y="900.36" width="7.06" height="2.56" fill="#0098E4"/>
<rect x="377.86" y="900.36" width="49.34" height="2.56" fill="#FF96E6"/>
<rect x="370.80" y="901.92" width="1.84" height="2.56" fill="#FF984C"/>
<rect x="372.64" y="901.92" width="7.81" height="2.56" fill="#0098E4"/>
<rect x="380.45" y="901.92" width="6.65" height="2.56" fill="#E6FF00"/>
<rect x="387.10" y="901.92" width="40.10" height="2.56" fill="#FF96E6"/>
<rect x="370.80" y="903.49" width="0.72" height="2.56" fill="#FF984C"/>
<rect x="371.52" y="903.49" width="1.37" height="2.56" fill="#E6FF00"/>
<rect x="372.89" y="903.49" width="54.31" height="2.56" fill="#FF96E6"/>
<rect x="370.80" y="905.05" width="13.86" height="2.56" fill="#0098E4"/>
<rect x="384.66" y="905.05" width="6.42" height="2.56" fill="#E6FF00"/>
<rect x="391.08" y="905.05" width="36.12" height="2.56" fill="#FF96E6"/>
<rect x="370.80" y="906.62" width="13.99" height="2.56" fill="#0098E4"/>
<rect x="384.79" y="906.62" width="42.41" height="2.56" fill="#FF96E6"/>
<rect x="370.80" y="908.18" width="6.95" height="2.56" fill="#0098E4"/>
<rect x="377.75" y="908.18" width="5.54" height="2.56" fill="#E6FF00"/>
<rect x="383.29" y="908.18" width="43.91" height="2.56" fill="#FF96E6"/>
<rect x="370.80" y="909.74" width="0.17" height="2.56" fill="#FF984C"/>
<rect x="370.97" y="909.74" width="5.98" height="2.56" fill="#0098E4"/>
<rect x="376.95" y="909.74" width="3.26" height="2.56" fill="#E6FF00"/>
<rect x="380.21" y="909.74" width="46.99" height="2.56" fill="#FF96E6"/>
<rect x="370.80" y="911.31" width="10.10" height="2.56" fill="#0098E4"/>
<rect x="380.90" y="911.31" width="0.32" height="2.56" fill="#E6FF00"/>
<rect x="381.21" y="911.31" width="45.99" height="2.56" fill="#FF96E6"/>
<rect x="370.80" y="912.87" width="2.07" height="2.56" fill="#FF984C"/>
<rect x="372.87" y="912.87" width="6.83" height="2.56" fill="#0098E4"/>
<rect x="379.71" y="912.87" width="4.68" height="2.56" fill="#E6FF00"/>
<rect x="384.39" y="912.87" width="42.81" height="2.56" fill="#FF96E6"/>
<rect x="370.84" y="914.44" width="12.40" height="2.56" fill="#0098E4"/>
<rect x="383.24" y="914.44" width="2.08" height="2.56" fill="#E6FF00"/>
<rect x="385.32" y="914.44" width="41.88" height="2.56" fill="#FF96E6"/>
<rect x="370.80" y="916.00" width="42.35" height="2.57" fill="#0098E4"/>
<rect x="413.15" y="916.00" width="12.50" height="2.57" fill="#E6FF00"/>
<rect x="425.65" y="916.00" width="1.55" height="2.57" fill="#FF96E6"/>
<rect x="370.80" y="917.57" width="0.15" height="2.57" fill="#FF984C"/>
<rect x="370.95" y="917.57" width="42.76" height="2.57" fill="#0098E4"/>
<rect x="413.71" y="917.57" width="13.49" height="2.57" fill="#E6FF00"/>
<rect x="370.80" y="919.14" width="43.92" height="2.57" fill="#0098E4"/>
<rect x="414.72" y="919.14" width="9.38" height="2.57" fill="#E6FF00"/>
<rect x="424.10" y="919.14" width="3.10" height="2.57" fill="#FF96E6"/>
<rect x="370.80" y="920.72" width="37.12" height="2.57" fill="#0098E4"/>
<rect x="407.92" y="920.72" width="17.52" height="2.57" fill="#E6FF00"/>
<rect x="425.45" y="920.72" width="1.75" height="2.57" fill="#FF96E6"/>
<rect x="370.80" y="922.29" width="47.23" height="2.57" fill="#0098E4"/>
<rect x="418.03" y="922.29" width="8.03" height="2.57" fill="#E6FF00"/>
<rect x="426.06" y="922.29" width="1.14" height="2.57" fill="#FF96E6"/>
<rect x="370.80" y="923.86" width="42.04" height="2.57" fill="#0098E4"/>
<rect x="412.84" y="923.86" width="14.36" height="2.57" fill="#E6FF00"/>
<rect x="370.80" y="925.43" width="0.65" height="2.57" fill="#FF984C"/>
<rect x="371.45" y="925.43" width="43.88" height="2.57" fill="#0098E4"/>
<rect x="415.33" y="925.43" width="11.87" height="2.57" fill="#E6FF00"/>
<rect x="370.80" y="927.01" width="0.99" height="2.57" fill="#FF984C"/>
<rect x="371.79" y="927.01" width="31.34" height="2.57" fill="#0098E4"/>
<rect x="403.13" y="927.01" width="8.89" height="2.57" fill="#E6FF00"/>
<rect x="412.03" y="927.01" width="15.17" height="2.57" fill="#FF96E6"/>
<rect x="370.80" y="928.58" width="1.36" height="2.57" fill="#FF984C"/>
<rect x="372.16" y="928.58" width="39.23" height="2.57" fill="#0098E4"/>
<rect x="411.39" y="928.58" width="15.81" height="2.57" fill="#E6FF00"/>
<rect x="370.80" y="930.15" width="0.53" height="2.57" fill="#FF984C"/>
<rect x="371.33" y="930.15" width="38.95" height="2.57" fill="#0098E4"/>
<rect x="410.28" y="930.15" width="16.92" height="2.57" fill="#E6FF00"/>
<rect x="370.81" y="931.72" width="51.43" height="2.57" fill="#0098E4"/>
<rect x="422.24" y="931.72" width="4.96" height="2.57" fill="#E6FF00"/>
<rect x="370.80" y="933.30" width="0.47" height="2.57" fill="#FF984C"/>
<rect x="371.27" y="933.30" width="40.52" height="2.57" fill="#0098E4"/>
<rect x="411.79" y="933.30" width="15.41" height="2.57" fill="#E6FF00"/>
<rect x="370.80" y="934.87" width="1.55" height="2.57" fill="#FF984C"/>
<rect x="372.35" y="934.87" width="42.68" height="2.57" fill="#0098E4"/>
<rect x="415.03" y="934.87" width="10.59" height="2.57" fill="#E6FF00"/>
<rect x="425.62" y="934.87" width="1.58" height="2.57" fill="#FF96E6"/>
<rect x="370.80" y="936.44" width="0.73" height="2.57" fill="#FF984C"/>
<rect x="371.53" y="936.44" width="31.46" height="2.57" fill="#0098E4"/>
<rect x="402.99" y="936.44" width="24.21" height="2.57" fill="#E6FF00"/>
<rect x="370.80" y="938.01" width="2.32" height="2.57" fill="#FF984C"/>
<rect x="373.12" y="938.01" width="39.44" height="2.57" fill="#0098E4"/>
<rect x="412.56" y="938.01" width="13.34" height="2.57" fill="#E6FF00"/>
<rect x="425.91" y="938.01" width="1.29" height="2.57" fill="#FF96E6"/>
<rect x="370.80" y="939.59" width="1.44" height="2.57" fill="#FF984C"/>
<rect x="372.24" y="939.59" width="35.76" height="2.57" fill="#0098E4"/>
<rect x="408.00" y="939.59" width="19.20" height="2.57" fill="#E6FF00"/>
<rect x="370.80" y="941.16" width="1.09" height="2.57" fill="#FF984C"/>
<rect x="371.89" y="941.16" width="43.97" height="2.57" fill="#0098E4"/>
<rect x="415.85" y="941.16" width="7.75" height="2.57" fill="#E6FF00"/>
<rect x="423.61" y="941.16" width="3.59" height="2.57" fill="#FF96E6"/>
<rect x="370.80" y="942.73" width="43.47" height="2.57" fill="#0098E4"/>
<rect x="414.27" y="942.73" width="9.92" height="2.57" fill="#E6FF00"/>
<rect x="424.19" y="942.73" width="3.01" height="2.57" fill="#FF96E6"/>
<rect x="370.80" y="944.30" width="0.84" height="2.57" fill="#FF984C"/>
<rect x="371.64" y="944.30" width="41.65" height="2.57" fill="#0098E4"/>
<rect x="413.29" y="944.30" width="13.91" height="2.57" fill="#E6FF00"/>
<rect x="370.80" y="945.88" width="0.93" height="2.57" fill="#FF984C"/>
<rect x="371.73" y="945.88" width="41.23" height="2.57" fill="#0098E4"/>
<rect x="412.96" y="945.88" width="12.90" height="2.57" fill="#E6FF00"/>
<rect x="425.85" y="945.88" width="1.35" height="2.57" fill="#FF96E6"/>
<rect x="370.80" y="947.45" width="43.81" height="2.57" fill="#0098E4"/>
<rect x="414.61" y="947.45" width="5.53" height="2.57" fill="#E6FF00"/>
<rect x="420.14" y="947.45" width="7.06" height="2.57" fill="#FF96E6"/>
<rect x="370.80" y="949.02" width="1.67" height="2.57" fill="#FF984C"/>
<rect x="372.47" y="949.02" width="38.28" height="2.57" fill="#0098E4"/>
<rect x="410.75" y="949.02" width="10.84" height="2.57" fill="#E6FF00"/>
<rect x="421.58" y="949.02" width="5.62" height="2.57" fill="#FF96E6"/>
<rect x="370.80" y="950.59" width="41.65" height="2.57" fill="#0098E4"/>
<rect x="412.45" y="950.59" width="14.75" height="2.57" fill="#E6FF00"/>
<rect x="370.80" y="952.17" width="50.56" height="2.57" fill="#0098E4"/>
<rect x="421.36" y="952.17" width="5.41" height="2.57" fill="#E6FF00"/>
<rect x="426.77" y="952.17" width="0.43" height="2.57" fill="#FF96E6"/>
<rect x="370.80" y="953.74" width="45.95" height="2.57" fill="#0098E4"/>
<rect x="416.75" y="953.74" width="10.45" height="2.57" fill="#E6FF00"/>
<rect x="370.80" y="955.31" width="1.72" height="2.57" fill="#FF984C"/>
<rect x="372.52" y="955.31" width="43.99" height="2.57" fill="#0098E4"/>
<rect x="416.51" y="955.31" width="8.72" height="2.57" fill="#E6FF00"/>
<rect x="425.23" y="955.31" width="1.97" height="2.57" fill="#FF96E6"/>
<rect x="370.80" y="956.88" width="0.29" height="2.57" fill="#FF984C"/>
<rect x="371.09" y="956.88" width="39.47" height="2.57" fill="#0098E4"/>
<rect x="410.56" y="956.88" width="16.64" height="2.57" fill="#E6FF00"/>
<rect x="370.80" y="958.46" width="39.11" height="2.57" fill="#0098E4"/>
<rect x="409.91" y="958.46" width="17.29" height="2.57" fill="#E6FF00"/>
<rect x="370.80" y="960.03" width="48.16" height="2.57" fill="#0098E4"/>
<rect x="418.96" y="960.03" width="8.24" height="2.57" fill="#E6FF00"/>
<rect x="370.80" y="961.60" width="43.22" height="2.58" fill="#0098E4"/>
<rect x="414.02" y="961.60" width="7.44" height="2.58" fill="#E6FF00"/>
<rect x="421.46" y="961.60" width="5.74" height="2.58" fill="#FF96E6"/>
<rect x="370.80" y="963.18" width="37.92" height="2.57" fill="#0098E4"/>
<rect x="408.72" y="963.18" width="16.90" height="2.57" fill="#E6FF00"/>
<rect x="425.62" y="963.18" width="1.58" height="2.57" fill="#FF96E6"/>
<rect x="370.80" y="964.75" width="41.88" height="2.58" fill="#0098E4"/>
<rect x="412.68" y="964.75" width="13.35" height="2.58" fill="#E6FF00"/>
<rect x="426.03" y="964.75" width="1.17" height="2.58" fill="#FF96E6"/>
<rect x="370.80" y="966.33" width="54.83" height="2.57" fill="#0098E4"/>
<rect x="425.63" y="966.33" width="1.57" height="2.57" fill="#E6FF00"/>
<rect x="370.80" y="967.90" width="50.84" height="2.58" fill="#0098E4"/>
<rect x="421.64" y="967.90" width="5.56" height="2.58" fill="#E6FF00"/>
<rect x="370.80" y="969.48" width="1.29" height="2.57" fill="#FF984C"/>
<rect x="372.09" y="969.48" width="38.12" height="2.57" fill="#0098E4"/>
<rect x="410.22" y="969.48" width="16.98" height="2.57" fill="#E6FF00"/>
<rect x="370.80" y="971.05" width="49.46" height="2.58" fill="#0098E4"/>
<rect x="420.26" y="971.05" width="4.58" height="2.58" fill="#E6FF00"/>
<rect x="424.84" y="971.05" width="2.36" height="2.58" fill="#FF96E6"/>
<rect x="370.80" y="972.62" width="1.22" height="2.58" fill="#FF984C"/>
<rect x="372.02" y="972.62" width="43.91" height="2.58" fill="#0098E4"/>
<rect x="415.93" y="972.62" width="9.66" height="2.58" fill="#E6FF00"/>
<rect x="425.59" y="972.62" width="1.61" height="2.58" fill="#FF96E6"/>
<rect x="370.80" y="974.20" width="0.70" height="2.57" fill="#FF984C"/>
<rect x="371.50" y="974.20" width="39.92" height="2.57" fill="#0098E4"/>
<rect x="411.42" y="974.20" width="15.78" height="2.57" fill="#E6FF00"/>
<rect x="370.80" y="975.77" width="0.79" height="2.58" fill="#FF984C"/>
<rect x="371.59" y="975.77" width="51.85" height="2.58" fill="#0098E4"/>
<rect x="423.45" y="975.77" width="2.05" height="2.58" fill="#E6FF00"/>
<rect x="425.50" y="975.77" width="1.70" height="2.58" fill="#FF96E6"/>
<rect x="370.80" y="977.35" width="47.57" height="2.57" fill="#0098E4"/>
<rect x="418.37" y="977.35" width="3.54" height="2.57" fill="#E6FF00"/>
<rect x="421.91" y="977.35" width="5.29" height="2.57" fill="#FF96E6"/>
<rect x="370.80" y="978.92" width="43.69" height="2.58" fill="#0098E4"/>
<rect x="414.49" y="978.92" width="12.38" height="2.58" fill="#E6FF00"/>
<rect x="426.88" y="978.92" width="0.32" height="2.58" fill="#FF96E6"/>
<rect x="370.80" y="980.50" width="53.78" height="2.58" fill="#0098E4"/>
<rect x="424.58" y="980.50" width="2.62" height="2.58" fill="#E6FF00"/>
<rect x="370.80" y="982.08" width="1.30" height="2.57" fill="#FF984C"/>
<rect x="372.10" y="982.08" width="42.80" height="2.57" fill="#0098E4"/>
<rect x="414.90" y="982.08" width="10.60" height="2.57" fill="#E6FF00"/>
<rect x="425.50" y="982.08" width="1.70" height="2.57" fill="#FF96E6"/>
<rect x="370.80" y="983.65" width="6.52" height="2.58" fill="#FF984C"/>
<rect x="377.32" y="983.65" width="49.88" height="2.58" fill="#0098E4"/>
<rect x="370.80" y="985.23" width="44.93" height="2.57" fill="#0098E4"/>
<rect x="415.73" y="985.23" width="10.45" height="2.57" fill="#E6FF00"/>
<rect x="426.18" y="985.23" width="1.02" height="2.57" fill="#FF96E6"/>
<rect x="370.80" y="986.80" width="40.16" height="2.58" fill="#0098E4"/>
<rect x="410.96" y="986.80" width="13.86" height="2.58" fill="#E6FF00"/>
<rect x="424.82" y="986.80" width="2.38" height="2.58" fill="#FF96E6"/>
<rect x="370.80" y="988.38" width="0.48" height="2.58" fill="#FF984C"/>
<rect x="371.28" y="988.38" width="41.65" height="2.58" fill="#0098E4"/>
<rect x="412.92" y="988.38" width="10.05" height="2.58" fill="#E6FF00"/>
<rect x="422.97" y="988.38" width="4.23" height="2.58" fill="#FF96E6"/>
<rect x="370.80" y="989.95" width="0.29" height="2.57" fill="#FF984C"/>
<rect x="371.09" y="989.95" width="43.05" height="2.57" fill="#0098E4"/>
<rect x="414.14" y="989.95" width="11.67" height="2.57" fill="#E6FF00"/>
<rect x="425.81" y="989.95" width="1.39" height="2.57" fill="#FF96E6"/>
<rect x="370.80" y="991.52" width="0.82" height="2.58" fill="#FF984C"/>
<rect x="371.62" y="991.52" width="46.23" height="2.58" fill="#0098E4"/>
<rect x="417.85" y="991.52" width="8.54" height="2.58" fill="#E6FF00"/>
<rect x="426.38" y="991.52" width="0.82" height="2.58" fill="#FF96E6"/>
<rect x="370.80" y="993.10" width="0.74" height="2.57" fill="#FF984C"/>
<rect x="371.54" y="993.10" width="43.68" height="2.57" fill="#0098E4"/>
<rect x="415.22" y="993.10" width="10.54" height="2.57" fill="#E6FF00"/>
<rect x="425.76" y="993.10" width="1.44" height="2.57" fill="#FF96E6"/>
<rect x="370.80" y="994.67" width="0.35" height="2.58" fill="#FF984C"/>
<rect x="371.15" y="994.67" width="37.41" height="2.58" fill="#0098E4"/>
<rect x="408.57" y="994.67" width="18.63" height="2.58" fill="#E6FF00"/>
<rect x="370.80" y="996.25" width="1.95" height="2.57" fill="#FF984C"/>
<rect x="372.75" y="996.25" width="44.82" height="2.57" fill="#0098E4"/>
<rect x="417.57" y="996.25" width="7.51" height="2.57" fill="#E6FF00"/>
<rect x="425.08" y="996.25" width="2.12" height="2.57" fill="#FF96E6"/>
<rect x="370.80" y="997.82" width="0.07" height="2.58" fill="#FF984C"/>
<rect x="370.87" y="997.82" width="40.74" height="2.58" fill="#0098E4"/>
<rect x="411.61" y="997.82" width="15.59" height="2.58" fill="#E6FF00"/>
<rect x="370.80" y="999.40" width="0.08" height="2.58" fill="#FF984C"/>
<rect x="370.88" y="999.40" width="42.72" height="2.58" fill="#0098E4"/>
<rect x="413.61" y="999.40" width="9.90" height="2.58" fill="#E6FF00"/>
<rect x="423.51" y="999.40" width="3.69" height="2.58" fill="#FF96E6"/>
<rect x="370.80" y="1000.98" width="0.96" height="2.57" fill="#FF984C"/>
<rect x="371.76" y="1000.98" width="51.36" height="2.57" fill="#0098E4"/>
<rect x="423.12" y="1000.98" width="4.08" height="2.57" fill="#E6FF00"/>
<rect x="370.80" y="1002.55" width="46.61" height="2.58" fill="#0098E4"/>
<rect x="417.41" y="1002.55" width="8.79" height="2.58" fill="#E6FF00"/>
<rect x="426.20" y="1002.55" width="1.00" height="2.58" fill="#FF96E6"/>
<rect x="370.80" y="1004.12" width="40.80" height="2.57" fill="#0098E4"/>
<rect x="411.60" y="1004.12" width="13.85" height="2.57" fill="#E6FF00"/>
<rect x="425.45" y="1004.12" width="1.75" height="2.57" fill="#FF96E6"/>
<rect x="370.80" y="1005.70" width="0.31" height="2.58" fill="#FF984C"/>
<rect x="371.11" y="1005.70" width="50.09" height="2.58" fill="#0098E4"/>
<rect x="421.19" y="1005.70" width="6.01" height="2.58" fill="#E6FF00"/>
<rect x="370.80" y="1007.27" width="44.63" height="2.58" fill="#0098E4"/>
<rect x="415.43" y="1007.27" width="10.25" height="2.58" fill="#E6FF00"/>
<rect x="425.67" y="1007.27" width="1.53" height="2.58" fill="#FF96E6"/>
<rect x="370.80" y="1008.85" width="45.22" height="2.57" fill="#0098E4"/>
<rect x="416.02" y="1008.85" width="10.35" height="2.57" fill="#E6FF00"/>
<rect x="426.37" y="1008.85" width="0.83" height="2.57" fill="#FF96E6"/>
<rect x="370.80" y="1010.42" width="0.33" height="2.58" fill="#FF984C"/>
<rect x="371.13" y="1010.42" width="36.16" height="2.58" fill="#0098E4"/>
<rect x="407.29" y="1010.42" width="6.78" height="2.58" fill="#E6FF00"/>
<rect x="414.07" y="1010.42" width="13.13" height="2.58" fill="#FF96E6"/>
<rect x="370.80" y="1012.00" width="44.02" height="2.57" fill="#0098E4"/>
<rect x="414.82" y="1012.00" width="11.43" height="2.57" fill="#E6FF00"/>
<rect x="426.25" y="1012.00" width="0.95" height="2.57" fill="#FF96E6"/>
<rect x="370.80" y="1013.57" width="0.12" height="2.58" fill="#FF984C"/>
<rect x="370.92" y="1013.57" width="39.77" height="2.58" fill="#0098E4"/>
<rect x="410.70" y="1013.57" width="16.50" height="2.58" fill="#E6FF00"/>
<rect x="370.80" y="1015.15" width="0.09" height="2.58" fill="#FF984C"/>
<rect x="370.89" y="1015.15" width="32.85" height="2.58" fill="#0098E4"/>
<rect x="403.74" y="1015.15" width="6.37" height="2.58" fill="#E6FF00"/>
<rect x="410.11" y="1015.15" width="17.09" height="2.58" fill="#FF96E6"/>
<rect x="370.80" y="1016.73" width="0.71" height="2.57" fill="#FF984C"/>
<rect x="371.51" y="1016.73" width="37.61" height="2.57" fill="#0098E4"/>
<rect x="409.11" y="1016.73" width="15.50" height="2.57" fill="#E6FF00"/>
<rect x="424.61" y="1016.73" width="2.59" height="2.57" fill="#FF96E6"/>
<rect x="370.80" y="1018.30" width="0.12" height="2.58" fill="#FF984C"/>
<rect x="370.92" y="1018.30" width="36.96" height="2.58" fill="#0098E4"/>
<rect x="407.89" y="1018.30" width="15.38" height="2.58" fill="#E6FF00"/>
<rect x="423.26" y="1018.30" width="3.94" height="2.58" fill="#FF96E6"/>
<rect x="370.80" y="1019.88" width="37.60" height="2.58" fill="#0098E4"/>
<rect x="408.40" y="1019.88" width="12.47" height="2.58" fill="#E6FF00"/>
<rect x="420.87" y="1019.88" width="6.33" height="2.58" fill="#FF96E6"/>
<rect x="370.80" y="1021.45" width="36.10" height="2.58" fill="#0098E4"/>
<rect x="406.90" y="1021.45" width="8.71" height="2.58" fill="#E6FF00"/>
<rect x="415.61" y="1021.45" width="11.59" height="2.58" fill="#FF96E6"/>
<rect x="370.80" y="1023.02" width="48.58" height="2.57" fill="#0098E4"/>
<rect x="419.38" y="1023.02" width="7.82" height="2.57" fill="#E6FF00"/>
<rect x="370.80" y="1024.60" width="41.54" height="2.58" fill="#0098E4"/>
<rect x="412.34" y="1024.60" width="13.98" height="2.58" fill="#E6FF00"/>
<rect x="426.31" y="1024.60" width="0.89" height="2.58" fill="#FF96E6"/>
<rect x="370.80" y="1026.17" width="0.32" height="2.58" fill="#FF984C"/>
<rect x="371.12" y="1026.17" width="43.28" height="2.58" fill="#0098E4"/>
<rect x="414.40" y="1026.17" width="12.80" height="2.58" fill="#E6FF00"/>
<rect x="370.80" y="1027.75" width="1.97" height="2.58" fill="#FF984C"/>
<rect x="372.77" y="1027.75" width="45.30" height="2.58" fill="#0098E4"/>
<rect x="418.07" y="1027.75" width="9.13" height="2.58" fill="#E6FF00"/>
<rect x="370.80" y="1029.33" width="0.12" height="2.58" fill="#FF984C"/>
<rect x="370.92" y="1029.33" width="44.71" height="2.58" fill="#0098E4"/>
<rect x="415.63" y="1029.33" width="9.59" height="2.58" fill="#E6FF00"/>
<rect x="425.22" y="1029.33" width="1.98" height="2.58" fill="#FF96E6"/>
<rect x="370.80" y="1030.90" width="46.97" height="2.57" fill="#0098E4"/>
<rect x="417.77" y="1030.90" width="9.43" height="2.57" fill="#E6FF00"/>
<rect x="370.80" y="1032.47" width="0.46" height="2.58" fill="#FF984C"/>
<rect x="371.26" y="1032.47" width="54.41" height="2.58" fill="#0098E4"/>
<rect x="425.66" y="1032.47" width="0.81" height="2.58" fill="#E6FF00"/>
<rect x="426.47" y="1032.47" width="0.73" height="2.58" fill="#FF96E6"/>
<rect x="370.80" y="1034.05" width="44.20" height="2.58" fill="#0098E4"/>
<rect x="415.00" y="1034.05" width="9.08" height="2.58" fill="#E6FF00"/>
<rect x="424.07" y="1034.05" width="3.13" height="2.58" fill="#FF96E6"/>
<rect x="370.80" y="1035.62" width="40.69" height="2.58" fill="#0098E4"/>
<rect x="411.49" y="1035.62" width="12.66" height="2.58" fill="#E6FF00"/>
<rect x="424.15" y="1035.62" width="3.05" height="2.58" fill="#FF96E6"/>
<rect x="370.80" y="1037.20" width="40.60" height="2.58" fill="#0098E4"/>
<rect x="411.40" y="1037.20" width="15.80" height="2.58" fill="#E6FF00"/>
<rect x="370.80" y="1038.78" width="31.98" height="2.57" fill="#0098E4"/>
<rect x="402.78" y="1038.78" width="17.68" height="2.57" fill="#E6FF00"/>
<rect x="420.46" y="1038.78" width="6.74" height="2.57" fill="#FF96E6"/>
<rect x="370.80" y="1040.35" width="45.13" height="2.58" fill="#0098E4"/>
<rect x="415.93" y="1040.35" width="8.08" height="2.58" fill="#E6FF00"/>
<rect x="424.01" y="1040.35" width="3.19" height="2.58" fill="#FF96E6"/>
<rect x="370.80" y="1041.92" width="0.30" height="2.58" fill="#FF984C"/>
<rect x="371.10" y="1041.92" width="47.46" height="2.58" fill="#0098E4"/>
<rect x="418.56" y="1041.92" width="8.64" height="2.58" fill="#E6FF00"/>
<rect x="370.80" y="1043.50" width="36.99" height="2.59" fill="#0098E4"/>
<rect x="407.79" y="1043.50" width="19.41" height="2.59" fill="#E6FF00"/>
<rect x="370.80" y="1045.09" width="47.15" height="2.59" fill="#0098E4"/>
<rect x="417.95" y="1045.09" width="8.13" height="2.59" fill="#E6FF00"/>
<rect x="426.08" y="1045.09" width="1.12" height="2.59" fill="#FF96E6"/>
<rect x="370.80" y="1046.69" width="1.61" height="2.59" fill="#FF984C"/>
<rect x="372.41" y="1046.69" width="39.98" height="2.59" fill="#0098E4"/>
<rect x="412.39" y="1046.69" width="11.11" height="2.59" fill="#E6FF00"/>
<rect x="423.50" y="1046.69" width="3.70" height="2.59" fill="#FF96E6"/>
<rect x="370.85" y="1048.28" width="50.11" height="2.59" fill="#0098E4"/>
<rect x="420.96" y="1048.28" width="6.24" height="2.59" fill="#E6FF00"/>
<rect x="370.80" y="1049.88" width="0.45" height="2.59" fill="#FF984C"/>
<rect x="371.25" y="1049.88" width="44.56" height="2.59" fill="#0098E4"/>
<rect x="415.81" y="1049.88" width="6.95" height="2.59" fill="#E6FF00"/>
<rect x="422.76" y="1049.88" width="4.44" height="2.59" fill="#FF96E6"/>
<rect x="370.80" y="1051.47" width="0.56" height="2.59" fill="#FF984C"/>
<rect x="371.36" y="1051.47" width="39.90" height="2.59" fill="#0098E4"/>
<rect x="411.26" y="1051.47" width="10.98" height="2.59" fill="#E6FF00"/>
<rect x="422.24" y="1051.47" width="4.96" height="2.59" fill="#FF96E6"/>
<rect x="370.80" y="1053.06" width="44.44" height="2.59" fill="#0098E4"/>
<rect x="415.24" y="1053.06" width="4.23" height="2.59" fill="#E6FF00"/>
<rect x="419.47" y="1053.06" width="7.73" height="2.59" fill="#FF96E6"/>
<rect x="370.80" y="1054.66" width="37.69" height="2.59" fill="#0098E4"/>
<rect x="408.49" y="1054.66" width="12.28" height="2.59" fill="#E6FF00"/>
<rect x="420.77" y="1054.66" width="6.43" height="2.59" fill="#FF96E6"/>
<rect x="370.80" y="1056.25" width="46.87" height="2.58" fill="#0098E4"/>
<rect x="417.67" y="1056.25" width="6.99" height="2.58" fill="#E6FF00"/>
<rect x="424.66" y="1056.25" width="2.54" height="2.58" fill="#FF96E6"/>
<rect x="370.80" y="1057.83" width="1.49" height="2.58" fill="#FF984C"/>
<rect x="372.29" y="1057.83" width="47.33" height="2.58" fill="#0098E4"/>
<rect x="419.62" y="1057.83" width="6.49" height="2.58" fill="#E6FF00"/>
<rect x="426.11" y="1057.83" width="1.09" height="2.58" fill="#FF96E6"/>
<rect x="370.80" y="1059.41" width="1.96" height="2.58" fill="#FF984C"/>
<rect x="372.76" y="1059.41" width="42.21" height="2.58" fill="#0098E4"/>
<rect x="414.97" y="1059.41" width="9.98" height="2.58" fill="#E6FF00"/>
<rect x="424.95" y="1059.41" width="2.25" height="2.58" fill="#FF96E6"/>
<rect x="370.80" y="1061.00" width="46.04" height="2.58" fill="#0098E4"/>
<rect x="416.84" y="1061.00" width="9.67" height="2.58" fill="#E6FF00"/>
<rect x="426.51" y="1061.00" width="0.69" height="2.58" fill="#FF96E6"/>
<rect x="370.80" y="1062.58" width="2.39" height="2.58" fill="#FF984C"/>
<rect x="373.19" y="1062.58" width="41.40" height="2.58" fill="#0098E4"/>
<rect x="414.60" y="1062.58" width="5.59" height="2.58" fill="#E6FF00"/>
<rect x="420.19" y="1062.58" width="7.01" height="2.58" fill="#FF96E6"/>
<rect x="370.80" y="1064.16" width="0.65" height="2.58" fill="#FF984C"/>
<rect x="371.45" y="1064.16" width="50.68" height="2.58" fill="#0098E4"/>
<rect x="422.14" y="1064.16" width="3.04" height="2.58" fill="#E6FF00"/>
<rect x="425.17" y="1064.16" width="2.03" height="2.58" fill="#FF96E6"/>
<rect x="370.80" y="1065.74" width="0.69" height="2.58" fill="#FF984C"/>
<rect x="371.49" y="1065.74" width="38.58" height="2.58" fill="#0098E4"/>
<rect x="410.07" y="1065.74" width="10.09" height="2.58" fill="#E6FF00"/>
<rect x="420.16" y="1065.74" width="7.04" height="2.58" fill="#FF96E6"/>
<rect x="370.80" y="1067.33" width="47.02" height="2.58" fill="#0098E4"/>
<rect x="417.82" y="1067.33" width="9.38" height="2.58" fill="#E6FF00"/>
<rect x="370.80" y="1068.91" width="0.33" height="2.58" fill="#FF984C"/>
<rect x="371.13" y="1068.91" width="32.66" height="2.58" fill="#0098E4"/>
<rect x="403.80" y="1068.91" width="15.73" height="2.58" fill="#E6FF00"/>
<rect x="419.53" y="1068.91" width="7.67" height="2.58" fill="#FF96E6"/>
<rect x="370.80" y="1070.49" width="40.94" height="2.58" fill="#0098E4"/>
<rect x="411.74" y="1070.49" width="1.56" height="2.58" fill="#E6FF00"/>
<rect x="413.30" y="1070.49" width="13.90" height="2.58" fill="#FF96E6"/>
<rect x="370.80" y="1072.07" width="0.44" height="2.58" fill="#FF984C"/>
<rect x="371.24" y="1072.07" width="40.03" height="2.58" fill="#0098E4"/>
<rect x="411.27" y="1072.07" width="14.17" height="2.58" fill="#E6FF00"/>
<rect x="425.44" y="1072.07" width="1.76" height="2.58" fill="#FF96E6"/>
<rect x="370.80" y="1073.65" width="1.92" height="2.58" fill="#FF984C"/>
<rect x="372.72" y="1073.65" width="42.15" height="2.58" fill="#0098E4"/>
<rect x="414.87" y="1073.65" width="12.24" height="2.58" fill="#E6FF00"/>
<rect x="427.11" y="1073.65" width="0.09" height="2.58" fill="#FF96E6"/>
<rect x="370.80" y="1075.24" width="46.15" height="2.58" fill="#0098E4"/>
<rect x="416.95" y="1075.24" width="6.90" height="2.58" fill="#E6FF00"/>
<rect x="423.84" y="1075.24" width="3.36" height="2.58" fill="#FF96E6"/>
<rect x="370.80" y="1076.82" width="36.42" height="2.58" fill="#0098E4"/>
<rect x="407.22" y="1076.82" width="15.68" height="2.58" fill="#E6FF00"/>
<rect x="422.90" y="1076.82" width="4.30" height="2.58" fill="#FF96E6"/>
<rect x="370.80" y="1078.40" width="42.29" height="2.56" fill="#0098E4"/>
<rect x="413.09" y="1078.40" width="11.96" height="2.56" fill="#E6FF00"/>
<rect x="425.05" y="1078.40" width="2.15" height="2.56" fill="#FF96E6"/>
<rect x="370.80" y="1079.96" width="1.39" height="2.56" fill="#FF984C"/>
<rect x="372.19" y="1079.96" width="40.88" height="2.56" fill="#0098E4"/>
<rect x="413.06" y="1079.96" width="14.14" height="2.56" fill="#E6FF00"/>
<rect x="370.80" y="1081.53" width="0.18" height="2.56" fill="#FF984C"/>
<rect x="370.98" y="1081.53" width="34.24" height="2.56" fill="#0098E4"/>
<rect x="405.21" y="1081.53" width="21.99" height="2.56" fill="#E6FF00"/>
<rect x="370.80" y="1083.09" width="49.11" height="2.56" fill="#0098E4"/>
<rect x="419.91" y="1083.09" width="5.25" height="2.56" fill="#E6FF00"/>
<rect x="425.16" y="1083.09" width="2.04" height="2.56" fill="#FF96E6"/>
<rect x="370.80" y="1084.65" width="4.82" height="2.56" fill="#FF984C"/>
<rect x="375.62" y="1084.65" width="36.63" height="2.56" fill="#0098E4"/>
<rect x="412.25" y="1084.65" width="14.95" height="2.56" fill="#E6FF00"/>
<rect x="370.80" y="1086.21" width="0.19" height="2.56" fill="#FF984C"/>
<rect x="370.99" y="1086.21" width="44.96" height="2.56" fill="#0098E4"/>
<rect x="415.95" y="1086.21" width="11.25" height="2.56" fill="#E6FF00"/>
<rect x="370.80" y="1087.78" width="0.68" height="2.56" fill="#FF984C"/>
<rect x="371.48" y="1087.78" width="48.80" height="2.56" fill="#0098E4"/>
<rect x="420.28" y="1087.78" width="6.92" height="2.56" fill="#E6FF00"/>
<rect x="370.80" y="1089.34" width="44.16" height="2.56" fill="#0098E4"/>
<rect x="414.96" y="1089.34" width="9.49" height="2.56" fill="#E6FF00"/>
<rect x="424.45" y="1089.34" width="2.75" height="2.56" fill="#FF96E6"/>
<rect x="370.80" y="1090.90" width="2.36" height="2.56" fill="#FF984C"/>
<rect x="373.16" y="1090.90" width="42.75" height="2.56" fill="#0098E4"/>
<rect x="415.91" y="1090.90" width="8.82" height="2.56" fill="#E6FF00"/>
<rect x="424.73" y="1090.90" width="2.47" height="2.56" fill="#FF96E6"/>
<rect x="370.80" y="1092.46" width="0.62" height="2.56" fill="#FF984C"/>
<rect x="371.42" y="1092.46" width="51.38" height="2.56" fill="#0098E4"/>
<rect x="422.80" y="1092.46" width="4.40" height="2.56" fill="#E6FF00"/>
<rect x="370.80" y="1094.03" width="1.15" height="2.56" fill="#FF984C"/>
<rect x="371.95" y="1094.03" width="48.59" height="2.56" fill="#0098E4"/>
<rect x="420.54" y="1094.03" width="6.66" height="2.56" fill="#E6FF00"/>
<rect x="370.80" y="1095.59" width="0.06" height="2.56" fill="#FF984C"/>
<rect x="370.86" y="1095.59" width="50.94" height="2.56" fill="#0098E4"/>
<rect x="421.81" y="1095.59" width="2.79" height="2.56" fill="#E6FF00"/>
<rect x="424.60" y="1095.59" width="2.60" height="2.56" fill="#FF96E6"/>
<rect x="370.80" y="1097.15" width="2.90" height="2.56" fill="#FF984C"/>
<rect x="373.70" y="1097.15" width="52.89" height="2.56" fill="#0098E4"/>
<rect x="426.59" y="1097.15" width="0.61" height="2.56" fill="#E6FF00"/>
<rect x="370.80" y="1098.71" width="39.31" height="2.56" fill="#0098E4"/>
<rect x="410.11" y="1098.71" width="16.62" height="2.56" fill="#E6FF00"/>
<rect x="426.72" y="1098.71" width="0.48" height="2.56" fill="#FF96E6"/>
<rect x="370.80" y="1100.28" width="0.75" height="2.56" fill="#FF984C"/>
<rect x="371.55" y="1100.28" width="41.45" height="2.56" fill="#0098E4"/>
<rect x="413.00" y="1100.28" width="10.62" height="2.56" fill="#E6FF00"/>
<rect x="423.63" y="1100.28" width="3.57" height="2.56" fill="#FF96E6"/>
<rect x="370.80" y="1101.84" width="47.76" height="2.56" fill="#0098E4"/>
<rect x="418.56" y="1101.84" width="6.17" height="2.56" fill="#E6FF00"/>
<rect x="424.73" y="1101.84" width="2.47" height="2.56" fill="#FF96E6"/>
<rect x="370.80" y="1103.40" width="1.31" height="2.56" fill="#FF984C"/>
<rect x="372.11" y="1103.40" width="49.57" height="2.56" fill="#0098E4"/>
<rect x="421.68" y="1103.40" width="5.52" height="2.56" fill="#E6FF00"/>
<rect x="370.80" y="1104.96" width="0.94" height="2.56" fill="#FF984C"/>
<rect x="371.74" y="1104.96" width="38.36" height="2.56" fill="#0098E4"/>
<rect x="410.10" y="1104.96" width="10.48" height="2.56" fill="#E6FF00"/>
<rect x="420.58" y="1104.96" width="6.62" height="2.56" fill="#FF96E6"/>
<rect x="370.80" y="1106.53" width="1.73" height="2.56" fill="#FF984C"/>
<rect x="372.53" y="1106.53" width="37.52" height="2.56" fill="#0098E4"/>
<rect x="410.04" y="1106.53" width="7.79" height="2.56" fill="#E6FF00"/>
<rect x="417.84" y="1106.53" width="9.36" height="2.56" fill="#FF96E6"/>
<rect x="370.80" y="1108.09" width="0.18" height="2.56" fill="#FF984C"/>
<rect x="370.98" y="1108.09" width="42.40" height="2.56" fill="#0098E4"/>
<rect x="413.38" y="1108.09" width="13.45" height="2.56" fill="#E6FF00"/>
<rect x="426.83" y="1108.09" width="0.37" height="2.56" fill="#FF96E6"/>
<rect x="370.80" y="1109.66" width="41.02" height="2.56" fill="#0098E4"/>
<rect x="411.82" y="1109.66" width="15.38" height="2.56" fill="#E6FF00"/>
<rect x="370.80" y="1111.22" width="0.16" height="2.56" fill="#FF984C"/>
<rect x="370.96" y="1111.22" width="35.90" height="2.56" fill="#0098E4"/>
<rect x="406.86" y="1111.22" width="5.98" height="2.56" fill="#E6FF00"/>
<rect x="412.84" y="1111.22" width="14.36" height="2.56" fill="#FF96E6"/>
<rect x="370.80" y="1112.78" width="30.35" height="2.56" fill="#0098E4"/>
<rect x="401.15" y="1112.78" width="18.39" height="2.56" fill="#E6FF00"/>
<rect x="419.55" y="1112.78" width="7.65" height="2.56" fill="#FF96E6"/>
<rect x="370.80" y="1114.35" width="39.75" height="2.56" fill="#0098E4"/>
<rect x="410.55" y="1114.35" width="0.97" height="2.56" fill="#E6FF00"/>
<rect x="411.52" y="1114.35" width="15.68" height="2.56" fill="#FF96E6"/>
<rect x="370.80" y="1115.91" width="33.52" height="2.56" fill="#0098E4"/>
<rect x="404.32" y="1115.91" width="22.88" height="2.56" fill="#E6FF00"/>
<rect x="370.80" y="1117.48" width="1.38" height="2.56" fill="#FF984C"/>
<rect x="372.18" y="1117.48" width="36.65" height="2.56" fill="#0098E4"/>
<rect x="408.83" y="1117.48" width="11.18" height="2.56" fill="#E6FF00"/>
<rect x="420.01" y="1117.48" width="7.19" height="2.56" fill="#FF96E6"/>
<rect x="370.80" y="1119.04" width="0.84" height="2.56" fill="#FF984C"/>
<rect x="371.64" y="1119.04" width="36.04" height="2.56" fill="#0098E4"/>
<rect x="407.68" y="1119.04" width="13.55" height="2.56" fill="#E6FF00"/>
<rect x="421.24" y="1119.04" width="5.96" height="2.56" fill="#FF96E6"/>
<rect x="370.80" y="1120.60" width="33.51" height="2.56" fill="#0098E4"/>
<rect x="404.31" y="1120.60" width="22.47" height="2.56" fill="#E6FF00"/>
<rect x="426.78" y="1120.60" width="0.42" height="2.56" fill="#FF96E6"/>
<rect x="370.80" y="1122.17" width="38.97" height="2.56" fill="#0098E4"/>
<rect x="409.77" y="1122.17" width="11.90" height="2.56" fill="#E6FF00"/>
<rect x="421.67" y="1122.17" width="5.53" height="2.56" fill="#FF96E6"/>
<rect x="370.80" y="1123.73" width="0.84" height="2.56" fill="#FF984C"/>
<rect x="371.64" y="1123.73" width="34.43" height="2.56" fill="#0098E4"/>
<rect x="406.07" y="1123.73" width="4.27" height="2.56" fill="#E6FF00"/>
<rect x="410.34" y="1123.73" width="16.86" height="2.56" fill="#FF96E6"/>
<rect x="370.80" y="1125.30" width="38.99" height="2.56" fill="#0098E4"/>
<rect x="409.79" y="1125.30" width="17.41" height="2.56" fill="#E6FF00"/>
<rect x="370.80" y="1126.86" width="0.60" height="2.56" fill="#FF984C"/>
<rect x="371.40" y="1126.86" width="37.35" height="2.56" fill="#0098E4"/>
<rect x="408.75" y="1126.86" width="16.86" height="2.56" fill="#E6FF00"/>
<rect x="425.61" y="1126.86" width="1.59" height="2.56" fill="#FF96E6"/>
<rect x="370.80" y="1128.42" width="56.13" height="2.56" fill="#0098E4"/>
<rect x="426.93" y="1128.42" width="0.27" height="2.56" fill="#E6FF00"/>
<rect x="370.80" y="1129.99" width="0.53" height="2.56" fill="#FF984C"/>
<rect x="371.33" y="1129.99" width="30.29" height="2.56" fill="#0098E4"/>
<rect x="401.61" y="1129.99" width="25.14" height="2.56" fill="#E6FF00"/>
<rect x="426.76" y="1129.99" width="0.44" height="2.56" fill="#FF96E6"/>
<rect x="370.80" y="1131.55" width="30.36" height="2.56" fill="#0098E4"/>
<rect x="401.16" y="1131.55" width="23.88" height="2.56" fill="#E6FF00"/>
<rect x="425.04" y="1131.55" width="2.16" height="2.56" fill="#FF96E6"/>
<rect x="370.80" y="1133.12" width="0.90" height="2.56" fill="#FF984C"/>
<rect x="371.70" y="1133.12" width="47.07" height="2.56" fill="#0098E4"/>
<rect x="418.77" y="1133.12" width="4.76" height="2.56" fill="#E6FF00"/>
<rect x="423.53" y="1133.12" width="3.67" height="2.56" fill="#FF96E6"/>
<rect x="370.80" y="1134.68" width="0.16" height="2.56" fill="#FF984C"/>
<rect x="370.96" y="1134.68" width="38.74" height="2.56" fill="#0098E4"/>
<rect x="409.70" y="1134.68" width="17.50" height="2.56" fill="#E6FF00"/>
<rect x="370.80" y="1136.24" width="1.23" height="2.56" fill="#FF984C"/>
<rect x="372.03" y="1136.24" width="45.04" height="2.56" fill="#0098E4"/>
<rect x="417.07" y="1136.24" width="8.74" height="2.56" fill="#E6FF00"/>
<rect x="425.81" y="1136.24" width="1.39" height="2.56" fill="#FF96E6"/>
<rect x="370.80" y="1137.81" width="0.34" height="2.56" fill="#FF984C"/>
<rect x="371.14" y="1137.81" width="45.01" height="2.56" fill="#0098E4"/>
<rect x="416.15" y="1137.81" width="4.33" height="2.56" fill="#E6FF00"/>
<rect x="420.48" y="1137.81" width="6.72" height="2.56" fill="#FF96E6"/>
<rect x="370.80" y="1139.37" width="2.04" height="2.56" fill="#FF984C"/>
<rect x="372.84" y="1139.37" width="48.05" height="2.56" fill="#0098E4"/>
<rect x="420.88" y="1139.37" width="6.32" height="2.56" fill="#FF96E6"/>
<rect x="370.80" y="1140.94" width="1.42" height="2.56" fill="#FF984C"/>
<rect x="372.22" y="1140.94" width="42.34" height="2.56" fill="#0098E4"/>
<rect x="414.56" y="1140.94" width="5.38" height="2.56" fill="#E6FF00"/>
<rect x="419.94" y="1140.94" width="7.26" height="2.56" fill="#FF96E6"/>
<rect x="370.80" y="1142.50" width="2.95" height="2.56" fill="#FF984C"/>
<rect x="373.75" y="1142.50" width="39.80" height="2.56" fill="#0098E4"/>
<rect x="413.56" y="1142.50" width="11.14" height="2.56" fill="#E6FF00"/>
<rect x="424.69" y="1142.50" width="2.51" height="2.56" fill="#FF96E6"/>
<rect x="370.80" y="1144.06" width="39.79" height="2.56" fill="#0098E4"/>
<rect x="410.59" y="1144.06" width="9.02" height="2.56" fill="#E6FF00"/>
<rect x="419.61" y="1144.06" width="7.59" height="2.56" fill="#FF96E6"/>
<rect x="370.80" y="1145.62" width="31.04" height="2.56" fill="#0098E4"/>
<rect x="401.84" y="1145.62" width="16.75" height="2.56" fill="#E6FF00"/>
<rect x="418.60" y="1145.62" width="8.60" height="2.56" fill="#FF96E6"/>
<rect x="370.80" y="1147.18" width="2.62" height="2.56" fill="#FF984C"/>
<rect x="373.42" y="1147.18" width="23.16" height="2.56" fill="#0098E4"/>
<rect x="396.58" y="1147.18" width="17.03" height="2.56" fill="#E6FF00"/>
<rect x="413.61" y="1147.18" width="13.59" height="2.56" fill="#FF96E6"/>
<rect x="370.80" y="1148.74" width="33.33" height="2.56" fill="#0098E4"/>
<rect x="404.13" y="1148.74" width="18.41" height="2.56" fill="#E6FF00"/>
<rect x="422.54" y="1148.74" width="4.66" height="2.56" fill="#FF96E6"/>
<rect x="370.80" y="1150.29" width="39.05" height="2.56" fill="#0098E4"/>
<rect x="409.85" y="1150.29" width="17.35" height="2.56" fill="#E6FF00"/>
<rect x="370.80" y="1151.85" width="0.08" height="2.56" fill="#FF984C"/>
<rect x="370.88" y="1151.85" width="38.65" height="2.56" fill="#0098E4"/>
<rect x="409.54" y="1151.85" width="14.94" height="2.56" fill="#E6FF00"/>
<rect x="424.48" y="1151.85" width="2.72" height="2.56" fill="#FF96E6"/>
<rect x="370.80" y="1153.41" width="42.50" height="2.56" fill="#0098E4"/>
<rect x="413.30" y="1153.41" width="12.08" height="2.56" fill="#E6FF00"/>
<rect x="425.38" y="1153.41" width="1.82" height="2.56" fill="#FF96E6"/>
<rect x="370.80" y="1154.97" width="41.32" height="2.56" fill="#0098E4"/>
<rect x="412.12" y="1154.97" width="13.96" height="2.56" fill="#E6FF00"/>
<rect x="426.09" y="1154.97" width="1.11" height="2.56" fill="#FF96E6"/>
<rect x="370.80" y="1156.53" width="3.36" height="2.56" fill="#FF984C"/>
<rect x="374.16" y="1156.53" width="34.14" height="2.56" fill="#0098E4"/>
<rect x="408.30" y="1156.53" width="13.03" height="2.56" fill="#E6FF00"/>
<rect x="421.33" y="1156.53" width="5.87" height="2.56" fill="#FF96E6"/>
<rect x="370.80" y="1158.09" width="0.95" height="2.56" fill="#FF984C"/>
<rect x="371.75" y="1158.09" width="28.91" height="2.56" fill="#0098E4"/>
<rect x="400.66" y="1158.09" width="18.72" height="2.56" fill="#E6FF00"/>
<rect x="419.39" y="1158.09" width="7.81" height="2.56" fill="#FF96E6"/>
<rect x="370.80" y="1159.65" width="1.99" height="2.56" fill="#FF984C"/>
<rect x="372.79" y="1159.65" width="32.56" height="2.56" fill="#0098E4"/>
<rect x="405.35" y="1159.65" width="20.17" height="2.56" fill="#E6FF00"/>
<rect x="425.52" y="1159.65" width="1.68" height="2.56" fill="#FF96E6"/>
<rect x="370.80" y="1161.21" width="9.85" height="2.56" fill="#FF984C"/>
<rect x="380.65" y="1161.21" width="29.55" height="2.56" fill="#0098E4"/>
<rect x="410.19" y="1161.21" width="17.01" height="2.56" fill="#E6FF00"/>
<rect x="370.80" y="1162.76" width="40.37" height="2.56" fill="#0098E4"/>
<rect x="411.17" y="1162.76" width="13.89" height="2.56" fill="#E6FF00"/>
<rect x="425.06" y="1162.76" width="2.14" height="2.56" fill="#FF96E6"/>
<rect x="370.80" y="1164.32" width="2.63" height="2.56" fill="#FF984C"/>
<rect x="373.43" y="1164.32" width="40.82" height="2.56" fill="#0098E4"/>
<rect x="414.25" y="1164.32" width="12.95" height="2.56" fill="#E6FF00"/>
<rect x="370.80" y="1165.88" width="34.42" height="2.56" fill="#0098E4"/>
<rect x="405.22" y="1165.88" width="17.76" height="2.56" fill="#E6FF00"/>
<rect x="422.98" y="1165.88" width="4.22" height="2.56" fill="#FF96E6"/>
<rect x="370.80" y="1167.44" width="1.43" height="2.56" fill="#FF984C"/>
<rect x="372.23" y="1167.44" width="38.90" height="2.56" fill="#0098E4"/>
<rect x="411.14" y="1167.44" width="9.02" height="2.56" fill="#E6FF00"/>
<rect x="420.15" y="1167.44" width="7.05" height="2.56" fill="#FF96E6"/>
</g>
<rect x="93.00" y="63.90" width="57.00" height="1.2" fill="#000" fill-opacity="0.3"/>
<rect x="164.00" y="63.90" width="57.00" height="1.2" fill="#000" fill-opacity="0.3"/>
<rect x="234.00" y="63.90" width="57.00" height="1.2" fill="#000" fill-opacity="0.3"/>
<rect x="302.60" y="63.90" width="57.00" height="1.2" fill="#000" fill-opacity="0.3"/>
<rect x="370.80" y="63.90" width="56.40" height="1.2" fill="#000" fill-opacity="0.3"/>
<rect x="93.00" y="86.60" width="57.00" height="1.2" fill="#000" fill-opacity="0.3"/>
<rect x="164.00" y="86.60" width="57.00" height="1.2" fill="#000" fill-opacity="0.3"/>
<rect x="234.00" y="86.60" width="57.00" height="1.2" fill="#000" fill-opacity="0.3"/>
<rect x="302.60" y="86.60" width="57.00" height="1.2" fill="#000" fill-opacity="0.3"/>
<rect x="370.80" y="86.60" width="56.40" height="1.2" fill="#000" fill-opacity="0.3"/>
<rect x="93.00" y="105.75" width="57.00" height="1.2" fill="#000" fill-opacity="0.3"/>
<rect x="164.00" y="105.75" width="57.00" height="1.2" fill="#000" fill-opacity="0.3"/>
<rect x="234.00" y="105.75" width="57.00" height="1.2" fill="#000" fill-opacity="0.3"/>
<rect x="302.60" y="105.75" width="57.00" height="1.2" fill="#000" fill-opacity="0.3"/>
<rect x="370.80" y="105.75" width="56.40" height="1.2" fill="#000" fill-opacity="0.3"/>
<rect x="93.00" y="117.25" width="57.00" height="1.2" fill="#000" fill-opacity="0.3"/>
<rect x="164.00" y="117.25" width="57.00" height="1.2" fill="#000" fill-opacity="0.3"/>
<rect x="234.00" y="117.25" width="57.00" height="1.2" fill="#000" fill-opacity="0.3"/>
<rect x="302.60" y="117.25" width="57.00" height="1.2" fill="#000" fill-opacity="0.3"/>
<rect x="370.80" y="117.25" width="56.40" height="1.2" fill="#000" fill-opacity="0.3"/>
<rect x="93.00" y="156.40" width="57.00" height="1.2" fill="#000" fill-opacity="0.3"/>
<rect x="164.00" y="156.40" width="57.00" height="1.2" fill="#000" fill-opacity="0.3"/>
<rect x="234.00" y="156.40" width="57.00" height="1.2" fill="#000" fill-opacity="0.3"/>
<rect x="302.60" y="156.40" width="57.00" height="1.2" fill="#000" fill-opacity="0.3"/>
<rect x="370.80" y="156.40" width="56.40" height="1.2" fill="#000" fill-opacity="0.3"/>
<rect x="93.00" y="194.00" width="57.00" height="1.2" fill="#000" fill-opacity="0.3"/>
<rect x="164.00" y="194.00" width="57.00" height="1.2" fill="#000" fill-opacity="0.3"/>
<rect x="234.00" y="194.00" width="57.00" height="1.2" fill="#000" fill-opacity="0.3"/>
<rect x="302.60" y="194.00" width="57.00" height="1.2" fill="#000" fill-opacity="0.3"/>
<rect x="370.80" y="194.00" width="56.40" height="1.2" fill="#000" fill-opacity="0.3"/>
<rect x="93.00" y="195.20" width="57.00" height="1.2" fill="#000" fill-opacity="0.3"/>
<rect x="164.00" y="195.20" width="57.00" height="1.2" fill="#000" fill-opacity="0.3"/>
<rect x="234.00" y="195.20" width="57.00" height="1.2" fill="#000" fill-opacity="0.3"/>
<rect x="302.60" y="195.20" width="57.00" height="1.2" fill="#000" fill-opacity="0.3"/>
<rect x="370.80" y="195.20" width="56.40" height="1.2" fill="#000" fill-opacity="0.3"/>
<rect x="93.00" y="197.10" width="57.00" height="1.2" fill="#000" fill-opacity="0.3"/>
<rect x="164.00" y="197.10" width="57.00" height="1.2" fill="#000" fill-opacity="0.3"/>
<rect x="234.00" y="197.10" width="57.00" height="1.2" fill="#000" fill-opacity="0.3"/>
<rect x="302.60" y="197.10" width="57.00" height="1.2" fill="#000" fill-opacity="0.3"/>
<rect x="370.80" y="197.10" width="56.40" height="1.2" fill="#000" fill-opacity="0.3"/>
<rect x="93.00" y="200.20" width="57.00" height="1.2" fill="#000" fill-opacity="0.3"/>
<rect x="164.00" y="200.20" width="57.00" height="1.2" fill="#000" fill-opacity="0.3"/>
<rect x="234.00" y="200.20" width="57.00" height="1.2" fill="#000" fill-opacity="0.3"/>
<rect x="302.60" y="200.20" width="57.00" height="1.2" fill="#000" fill-opacity="0.3"/>
<rect x="370.80" y="200.20" width="56.40" height="1.2" fill="#000" fill-opacity="0.3"/>
<rect x="93.00" y="201.90" width="57.00" height="1.2" fill="#000" fill-opacity="0.3"/>
<rect x="164.00" y="201.90" width="57.00" height="1.2" fill="#000" fill-opacity="0.3"/>
<rect x="234.00" y="201.90" width="57.00" height="1.2" fill="#000" fill-opacity="0.3"/>
<rect x="302.60" y="201.90" width="57.00" height="1.2" fill="#000" fill-opacity="0.3"/>
<rect x="370.80" y="201.90" width="56.40" height="1.2" fill="#000" fill-opacity="0.3"/>
<rect x="93.00" y="204.70" width="57.00" height="1.2" fill="#000" fill-opacity="0.3"/>
<rect x="164.00" y="204.70" width="57.00" height="1.2" fill="#000" fill-opacity="0.3"/>
<rect x="234.00" y="204.70" width="57.00" height="1.2" fill="#000" fill-opacity="0.3"/>
<rect x="302.60" y="204.70" width="57.00" height="1.2" fill="#000" fill-opacity="0.3"/>
<rect x="370.80" y="204.70" width="56.40" height="1.2" fill="#000" fill-opacity="0.3"/>
<rect x="93.00" y="206.80" width="57.00" height="1.2" fill="#000" fill-opacity="0.3"/>
<rect x="164.00" y="206.80" width="57.00" height="1.2" fill="#000" fill-opacity="0.3"/>
<rect x="234.00" y="206.80" width="57.00" height="1.2" fill="#000" fill-opacity="0.3"/>
<rect x="302.60" y="206.80" width="57.00" height="1.2" fill="#000" fill-opacity="0.3"/>
<rect x="370.80" y="206.80" width="56.40" height="1.2" fill="#000" fill-opacity="0.3"/>
<rect x="93.00" y="222.40" width="57.00" height="1.2" fill="#000" fill-opacity="0.3"/>
<rect x="164.00" y="222.40" width="57.00" height="1.2" fill="#000" fill-opacity="0.3"/>
<rect x="234.00" y="222.40" width="57.00" height="1.2" fill="#000" fill-opacity="0.3"/>
<rect x="302.60" y="222.40" width="57.00" height="1.2" fill="#000" fill-opacity="0.3"/>
<rect x="370.80" y="222.40" width="56.40" height="1.2" fill="#000" fill-opacity="0.3"/>
<rect x="93.00" y="261.75" width="57.00" height="1.2" fill="#000" fill-opacity="0.3"/>
<rect x="164.00" y="261.75" width="57.00" height="1.2" fill="#000" fill-opacity="0.3"/>
<rect x="234.00" y="261.75" width="57.00" height="1.2" fill="#000" fill-opacity="0.3"/>
<rect x="302.60" y="261.75" width="57.00" height="1.2" fill="#000" fill-opacity="0.3"/>
<rect x="370.80" y="261.75" width="56.40" height="1.2" fill="#000" fill-opacity="0.3"/>
<rect x="93.00" y="301.00" width="57.00" height="1.2" fill="#000" fill-opacity="0.3"/>
<rect x="164.00" y="301.00" width="57.00" height="1.2" fill="#000" fill-opacity="0.3"/>
<rect x="234.00" y="301.00" width="57.00" height="1.2" fill="#000" fill-opacity="0.3"/>
<rect x="302.60" y="301.00" width="57.00" height="1.2" fill="#000" fill-opacity="0.3"/>
<rect x="370.80" y="301.00" width="56.40" height="1.2" fill="#000" fill-opacity="0.3"/>
<rect x="93.00" y="340.50" width="57.00" height="1.2" fill="#000" fill-opacity="0.3"/>
<rect x="164.00" y="340.50" width="57.00" height="1.2" fill="#000" fill-opacity="0.3"/>
<rect x="234.00" y="340.50" width="57.00" height="1.2" fill="#000" fill-opacity="0.3"/>
<rect x="302.60" y="340.50" width="57.00" height="1.2" fill="#000" fill-opacity="0.3"/>
<rect x="370.80" y="340.50" width="56.40" height="1.2" fill="#000" fill-opacity="0.3"/>
<rect x="93.00" y="379.50" width="57.00" height="1.2" fill="#000" fill-opacity="0.3"/>
<rect x="164.00" y="379.50" width="57.00" height="1.2" fill="#000" fill-opacity="0.3"/>
<rect x="234.00" y="379.50" width="57.00" height="1.2" fill="#000" fill-opacity="0.3"/>
<rect x="302.60" y="379.50" width="57.00" height="1.2" fill="#000" fill-opacity="0.3"/>
<rect x="370.80" y="379.50" width="56.40" height="1.2" fill="#000" fill-opacity="0.3"/>
<rect x="93.00" y="418.90" width="57.00" height="1.2" fill="#000" fill-opacity="0.3"/>
<rect x="164.00" y="418.90" width="57.00" height="1.2" fill="#000" fill-opacity="0.3"/>
<rect x="234.00" y="418.90" width="57.00" height="1.2" fill="#000" fill-opacity="0.3"/>
<rect x="302.60" y="418.90" width="57.00" height="1.2" fill="#000" fill-opacity="0.3"/>
<rect x="370.80" y="418.90" width="56.40" height="1.2" fill="#000" fill-opacity="0.3"/>
<rect x="93.00" y="458.10" width="57.00" height="1.2" fill="#000" fill-opacity="0.3"/>
<rect x="164.00" y="458.10" width="57.00" height="1.2" fill="#000" fill-opacity="0.3"/>
<rect x="234.00" y="458.10" width="57.00" height="1.2" fill="#000" fill-opacity="0.3"/>
<rect x="302.60" y="458.10" width="57.00" height="1.2" fill="#000" fill-opacity="0.3"/>
<rect x="370.80" y="458.10" width="56.40" height="1.2" fill="#000" fill-opacity="0.3"/>
<rect x="93.00" y="497.80" width="57.00" height="1.2" fill="#000" fill-opacity="0.3"/>
<rect x="164.00" y="497.80" width="57.00" height="1.2" fill="#000" fill-opacity="0.3"/>
<rect x="234.00" y="497.80" width="57.00" height="1.2" fill="#000" fill-opacity="0.3"/>
<rect x="302.60" y="497.80" width="57.00" height="1.2" fill="#000" fill-opacity="0.3"/>
<rect x="370.80" y="497.80" width="56.40" height="1.2" fill="#000" fill-opacity="0.3"/>
<rect x="93.00" y="536.90" width="57.00" height="1.2" fill="#000" fill-opacity="0.3"/>
<rect x="164.00" y="536.90" width="57.00" height="1.2" fill="#000" fill-opacity="0.3"/>
<rect x="234.00" y="536.90" width="57.00" height="1.2" fill="#000" fill-opacity="0.3"/>
<rect x="302.60" y="536.90" width="57.00" height="1.2" fill="#000" fill-opacity="0.3"/>
<rect x="370.80" y="536.90" width="56.40" height="1.2" fill="#000" fill-opacity="0.3"/>
<rect x="93.00" y="553.90" width="57.00" height="1.2" fill="#000" fill-opacity="0.3"/>
<rect x="164.00" y="553.90" width="57.00" height="1.2" fill="#000" fill-opacity="0.3"/>
<rect x="234.00" y="553.90" width="57.00" height="1.2" fill="#000" fill-opacity="0.3"/>
<rect x="302.60" y="553.90" width="57.00" height="1.2" fill="#000" fill-opacity="0.3"/>
<rect x="370.80" y="553.90" width="56.40" height="1.2" fill="#000" fill-opacity="0.3"/>
<rect x="93.00" y="570.00" width="57.00" height="1.2" fill="#000" fill-opacity="0.3"/>
<rect x="164.00" y="570.00" width="57.00" height="1.2" fill="#000" fill-opacity="0.3"/>
<rect x="234.00" y="570.00" width="57.00" height="1.2" fill="#000" fill-opacity="0.3"/>
<rect x="302.60" y="570.00" width="57.00" height="1.2" fill="#000" fill-opacity="0.3"/>
<rect x="370.80" y="570.00" width="56.40" height="1.2" fill="#000" fill-opacity="0.3"/>
<rect x="93.00" y="585.75" width="57.00" height="1.2" fill="#000" fill-opacity="0.3"/>
<rect x="164.00" y="585.75" width="57.00" height="1.2" fill="#000" fill-opacity="0.3"/>
<rect x="234.00" y="585.75" width="57.00" height="1.2" fill="#000" fill-opacity="0.3"/>
<rect x="302.60" y="585.75" width="57.00" height="1.2" fill="#000" fill-opacity="0.3"/>
<rect x="370.80" y="585.75" width="56.40" height="1.2" fill="#000" fill-opacity="0.3"/>
<rect x="93.00" y="656.10" width="57.00" height="1.2" fill="#000" fill-opacity="0.3"/>
<rect x="164.00" y="656.10" width="57.00" height="1.2" fill="#000" fill-opacity="0.3"/>
<rect x="234.00" y="656.10" width="57.00" height="1.2" fill="#000" fill-opacity="0.3"/>
<rect x="302.60" y="656.10" width="57.00" height="1.2" fill="#000" fill-opacity="0.3"/>
<rect x="370.80" y="656.10" width="56.40" height="1.2" fill="#000" fill-opacity="0.3"/>
<rect x="93.00" y="672.10" width="57.00" height="1.2" fill="#000" fill-opacity="0.3"/>
<rect x="164.00" y="672.10" width="57.00" height="1.2" fill="#000" fill-opacity="0.3"/>
<rect x="234.00" y="672.10" width="57.00" height="1.2" fill="#000" fill-opacity="0.3"/>
<rect x="302.60" y="672.10" width="57.00" height="1.2" fill="#000" fill-opacity="0.3"/>
<rect x="370.80" y="672.10" width="56.40" height="1.2" fill="#000" fill-opacity="0.3"/>
<rect x="93.00" y="687.80" width="57.00" height="1.2" fill="#000" fill-opacity="0.3"/>
<rect x="164.00" y="687.80" width="57.00" height="1.2" fill="#000" fill-opacity="0.3"/>
<rect x="234.00" y="687.80" width="57.00" height="1.2" fill="#000" fill-opacity="0.3"/>
<rect x="302.60" y="687.80" width="57.00" height="1.2" fill="#000" fill-opacity="0.3"/>
<rect x="370.80" y="687.80" width="56.40" height="1.2" fill="#000" fill-opacity="0.3"/>
<rect x="93.00" y="703.80" width="57.00" height="1.2" fill="#000" fill-opacity="0.3"/>
<rect x="164.00" y="703.80" width="57.00" height="1.2" fill="#000" fill-opacity="0.3"/>
<rect x="234.00" y="703.80" width="57.00" height="1.2" fill="#000" fill-opacity="0.3"/>
<rect x="302.60" y="703.80" width="57.00" height="1.2" fill="#000" fill-opacity="0.3"/>
<rect x="370.80" y="703.80" width="56.40" height="1.2" fill="#000" fill-opacity="0.3"/>
<rect x="93.00" y="719.20" width="57.00" height="1.2" fill="#000" fill-opacity="0.3"/>
<rect x="164.00" y="719.20" width="57.00" height="1.2" fill="#000" fill-opacity="0.3"/>
<rect x="234.00" y="719.20" width="57.00" height="1.2" fill="#000" fill-opacity="0.3"/>
<rect x="302.60" y="719.20" width="57.00" height="1.2" fill="#000" fill-opacity="0.3"/>
<rect x="370.80" y="719.20" width="56.40" height="1.2" fill="#000" fill-opacity="0.3"/>
<rect x="93.00" y="735.10" width="57.00" height="1.2" fill="#000" fill-opacity="0.3"/>
<rect x="164.00" y="735.10" width="57.00" height="1.2" fill="#000" fill-opacity="0.3"/>
<rect x="234.00" y="735.10" width="57.00" height="1.2" fill="#000" fill-opacity="0.3"/>
<rect x="302.60" y="735.10" width="57.00" height="1.2" fill="#000" fill-opacity="0.3"/>
<rect x="370.80" y="735.10" width="56.40" height="1.2" fill="#000" fill-opacity="0.3"/>
<rect x="93.00" y="750.75" width="57.00" height="1.2" fill="#000" fill-opacity="0.3"/>
<rect x="164.00" y="750.75" width="57.00" height="1.2" fill="#000" fill-opacity="0.3"/>
<rect x="234.00" y="750.75" width="57.00" height="1.2" fill="#000" fill-opacity="0.3"/>
<rect x="302.60" y="750.75" width="57.00" height="1.2" fill="#000" fill-opacity="0.3"/>
<rect x="370.80" y="750.75" width="56.40" height="1.2" fill="#000" fill-opacity="0.3"/>
<rect x="93.00" y="766.65" width="57.00" height="1.2" fill="#000" fill-opacity="0.3"/>
<rect x="164.00" y="766.65" width="57.00" height="1.2" fill="#000" fill-opacity="0.3"/>
<rect x="234.00" y="766.65" width="57.00" height="1.2" fill="#000" fill-opacity="0.3"/>
<rect x="302.60" y="766.65" width="57.00" height="1.2" fill="#000" fill-opacity="0.3"/>
<rect x="370.80" y="766.65" width="56.40" height="1.2" fill="#000" fill-opacity="0.3"/>
<rect x="93.00" y="782.00" width="57.00" height="1.2" fill="#000" fill-opacity="0.3"/>
<rect x="164.00" y="782.00" width="57.00" height="1.2" fill="#000" fill-opacity="0.3"/>
<rect x="234.00" y="782.00" width="57.00" height="1.2" fill="#000" fill-opacity="0.3"/>
<rect x="302.60" y="782.00" width="57.00" height="1.2" fill="#000" fill-opacity="0.3"/>
<rect x="370.80" y="782.00" width="56.40" height="1.2" fill="#000" fill-opacity="0.3"/>
<rect x="93.00" y="797.95" width="57.00" height="1.2" fill="#000" fill-opacity="0.3"/>
<rect x="164.00" y="797.95" width="57.00" height="1.2" fill="#000" fill-opacity="0.3"/>
<rect x="234.00" y="797.95" width="57.00" height="1.2" fill="#000" fill-opacity="0.3"/>
<rect x="302.60" y="797.95" width="57.00" height="1.2" fill="#000" fill-opacity="0.3"/>
<rect x="370.80" y="797.95" width="56.40" height="1.2" fill="#000" fill-opacity="0.3"/>
<rect x="93.00" y="812.00" width="57.00" height="1.2" fill="#000" fill-opacity="0.3"/>
<rect x="164.00" y="812.00" width="57.00" height="1.2" fill="#000" fill-opacity="0.3"/>
<rect x="234.00" y="812.00" width="57.00" height="1.2" fill="#000" fill-opacity="0.3"/>
<rect x="302.60" y="812.00" width="57.00" height="1.2" fill="#000" fill-opacity="0.3"/>
<rect x="370.80" y="812.00" width="56.40" height="1.2" fill="#000" fill-opacity="0.3"/>
<rect x="93.00" y="827.80" width="57.00" height="1.2" fill="#000" fill-opacity="0.3"/>
<rect x="164.00" y="827.80" width="57.00" height="1.2" fill="#000" fill-opacity="0.3"/>
<rect x="234.00" y="827.80" width="57.00" height="1.2" fill="#000" fill-opacity="0.3"/>
<rect x="302.60" y="827.80" width="57.00" height="1.2" fill="#000" fill-opacity="0.3"/>
<rect x="370.80" y="827.80" width="56.40" height="1.2" fill="#000" fill-opacity="0.3"/>
<rect x="93.00" y="876.40" width="57.00" height="1.2" fill="#000" fill-opacity="0.3"/>
<rect x="164.00" y="876.40" width="57.00" height="1.2" fill="#000" fill-opacity="0.3"/>
<rect x="234.00" y="876.40" width="57.00" height="1.2" fill="#000" fill-opacity="0.3"/>
<rect x="302.60" y="876.40" width="57.00" height="1.2" fill="#000" fill-opacity="0.3"/>
<rect x="370.80" y="876.40" width="56.40" height="1.2" fill="#000" fill-opacity="0.3"/>
<rect x="93.00" y="915.50" width="57.00" height="1.2" fill="#000" fill-opacity="0.3"/>
<rect x="164.00" y="915.50" width="57.00" height="1.2" fill="#000" fill-opacity="0.3"/>
<rect x="234.00" y="915.50" width="57.00" height="1.2" fill="#000" fill-opacity="0.3"/>
<rect x="302.60" y="915.50" width="57.00" height="1.2" fill="#000" fill-opacity="0.3"/>
<rect x="370.80" y="915.50" width="56.40" height="1.2" fill="#000" fill-opacity="0.3"/>
<rect x="93.00" y="961.10" width="57.00" height="1.2" fill="#000" fill-opacity="0.3"/>
<rect x="164.00" y="961.10" width="57.00" height="1.2" fill="#000" fill-opacity="0.3"/>
<rect x="234.00" y="961.10" width="57.00" height="1.2" fill="#000" fill-opacity="0.3"/>
<rect x="302.60" y="961.10" width="57.00" height="1.2" fill="#000" fill-opacity="0.3"/>
<rect x="370.80" y="961.10" width="56.40" height="1.2" fill="#000" fill-opacity="0.3"/>
<rect x="93.00" y="998.90" width="57.00" height="1.2" fill="#000" fill-opacity="0.3"/>
<rect x="164.00" y="998.90" width="57.00" height="1.2" fill="#000" fill-opacity="0.3"/>
<rect x="234.00" y="998.90" width="57.00" height="1.2" fill="#000" fill-opacity="0.3"/>
<rect x="302.60" y="998.90" width="57.00" height="1.2" fill="#000" fill-opacity="0.3"/>
<rect x="370.80" y="998.90" width="56.40" height="1.2" fill="#000" fill-opacity="0.3"/>
<rect x="93.00" y="1043.00" width="57.00" height="1.2" fill="#000" fill-opacity="0.3"/>
<rect x="164.00" y="1043.00" width="57.00" height="1.2" fill="#000" fill-opacity="0.3"/>
<rect x="234.00" y="1043.00" width="57.00" height="1.2" fill="#000" fill-opacity="0.3"/>
<rect x="302.60" y="1043.00" width="57.00" height="1.2" fill="#000" fill-opacity="0.3"/>
<rect x="370.80" y="1043.00" width="56.40" height="1.2" fill="#000" fill-opacity="0.3"/>
<rect x="93.00" y="1055.75" width="57.00" height="1.2" fill="#000" fill-opacity="0.3"/>
<rect x="164.00" y="1055.75" width="57.00" height="1.2" fill="#000" fill-opacity="0.3"/>
<rect x="234.00" y="1055.75" width="57.00" height="1.2" fill="#000" fill-opacity="0.3"/>
<rect x="302.60" y="1055.75" width="57.00" height="1.2" fill="#000" fill-opacity="0.3"/>
<rect x="370.80" y="1055.75" width="56.40" height="1.2" fill="#000" fill-opacity="0.3"/>
<rect x="93.00" y="1077.90" width="57.00" height="1.2" fill="#000" fill-opacity="0.3"/>
<rect x="164.00" y="1077.90" width="57.00" height="1.2" fill="#000" fill-opacity="0.3"/>
<rect x="234.00" y="1077.90" width="57.00" height="1.2" fill="#000" fill-opacity="0.3"/>
<rect x="302.60" y="1077.90" width="57.00" height="1.2" fill="#000" fill-opacity="0.3"/>
<rect x="370.80" y="1077.90" width="56.40" height="1.2" fill="#000" fill-opacity="0.3"/>
<rect x="93.00" y="1102.90" width="57.00" height="1.2" fill="#000" fill-opacity="0.3"/>
<rect x="164.00" y="1102.90" width="57.00" height="1.2" fill="#000" fill-opacity="0.3"/>
<rect x="234.00" y="1102.90" width="57.00" height="1.2" fill="#000" fill-opacity="0.3"/>
<rect x="302.60" y="1102.90" width="57.00" height="1.2" fill="#000" fill-opacity="0.3"/>
<rect x="370.80" y="1102.90" width="56.40" height="1.2" fill="#000" fill-opacity="0.3"/>
<rect x="93.00" y="1142.00" width="57.00" height="1.2" fill="#000" fill-opacity="0.3"/>
<rect x="164.00" y="1142.00" width="57.00" height="1.2" fill="#000" fill-opacity="0.3"/>
<rect x="234.00" y="1142.00" width="57.00" height="1.2" fill="#000" fill-opacity="0.3"/>
<rect x="302.60" y="1142.00" width="57.00" height="1.2" fill="#000" fill-opacity="0.3"/>
<rect x="370.80" y="1142.00" width="56.40" height="1.2" fill="#000" fill-opacity="0.3"/>
</svg>
<svg class="lab" width="564" height="1200" viewBox="0 0 564 1200">
<g font-family="Liberation Sans" font-weight="bold" font-size="9.3" fill="#000" stroke="#000" stroke-width="0.25">
<text x="82.30" y="40.58" text-anchor="end" transform="rotate(30 82.30 40.58)">Biaka_Pygmies</text>
<text x="436.50" y="40.58" transform="rotate(30 436.50 40.58)">Central_African_Republic</text>
<text x="82.30" y="80.25" text-anchor="end" transform="rotate(30 82.30 80.25)">Mbuti_Pygmies</text>
<text x="436.50" y="80.25" transform="rotate(30 436.50 80.25)">Democratic_Republic_of_Congo</text>
<text x="82.30" y="101.17" text-anchor="end" transform="rotate(30 82.30 101.17)">Bantu_N.E.</text>
<text x="436.50" y="101.17" transform="rotate(30 436.50 101.17)">Kenya</text>
<text x="82.30" y="116.50" text-anchor="end" transform="rotate(30 82.30 116.50)">San</text>
<text x="436.50" y="116.50" transform="rotate(30 436.50 116.50)">Namibia</text>
<text x="82.30" y="141.82" text-anchor="end" transform="rotate(30 82.30 141.82)">Yoruba</text>
<text x="436.50" y="141.82" transform="rotate(30 436.50 141.82)">Nigeria</text>
<text x="82.30" y="180.20" text-anchor="end" transform="rotate(30 82.30 180.20)">Mandenka</text>
<text x="436.50" y="180.20" transform="rotate(30 436.50 180.20)">Senegal</text>
<text x="82.30" y="219.60" text-anchor="end" transform="rotate(30 82.30 219.60)">Uygur</text>
<text x="436.50" y="219.60" transform="rotate(30 436.50 219.60)">China</text>
<text x="82.30" y="247.07" text-anchor="end" transform="rotate(30 82.30 247.07)">Balochi</text>
<text x="436.50" y="247.07" transform="rotate(30 436.50 247.07)">Pakistan</text>
<text x="82.30" y="286.38" text-anchor="end" transform="rotate(30 82.30 286.38)">Brahui</text>
<text x="436.50" y="286.38" transform="rotate(30 436.50 286.38)">Pakistan</text>
<text x="82.30" y="325.75" text-anchor="end" transform="rotate(30 82.30 325.75)">Burusho</text>
<text x="436.50" y="325.75" transform="rotate(30 436.50 325.75)">Pakistan</text>
<text x="82.30" y="365.00" text-anchor="end" transform="rotate(30 82.30 365.00)">Hazara</text>
<text x="436.50" y="365.00" transform="rotate(30 436.50 365.00)">Pakistan</text>
<text x="82.30" y="404.20" text-anchor="end" transform="rotate(30 82.30 404.20)">Kalash</text>
<text x="436.50" y="404.20" transform="rotate(30 436.50 404.20)">Pakistan</text>
<text x="82.30" y="443.50" text-anchor="end" transform="rotate(30 82.30 443.50)">Makrani</text>
<text x="436.50" y="443.50" transform="rotate(30 436.50 443.50)">Pakistan</text>
<text x="82.30" y="482.95" text-anchor="end" transform="rotate(30 82.30 482.95)">Pathan</text>
<text x="436.50" y="482.95" transform="rotate(30 436.50 482.95)">Pakistan</text>
<text x="82.30" y="522.35" text-anchor="end" transform="rotate(30 82.30 522.35)">Sindhi</text>
<text x="436.50" y="522.35" transform="rotate(30 436.50 522.35)">Pakistan</text>
<text x="82.30" y="550.40" text-anchor="end" transform="rotate(30 82.30 550.40)">Cambodians</text>
<text x="436.50" y="550.40" transform="rotate(30 436.50 550.40)">Cambodia</text>
<text x="82.30" y="566.95" text-anchor="end" transform="rotate(30 82.30 566.95)">Dai</text>
<text x="436.50" y="566.95" transform="rotate(30 436.50 566.95)">China</text>
<text x="82.30" y="582.88" text-anchor="end" transform="rotate(30 82.30 582.88)">Daur</text>
<text x="436.50" y="582.88" transform="rotate(30 436.50 582.88)">China</text>
<text x="82.30" y="625.92" text-anchor="end" transform="rotate(30 82.30 625.92)">Han</text>
<text x="436.50" y="625.92" transform="rotate(30 436.50 625.92)">China</text>
<text x="82.30" y="669.10" text-anchor="end" transform="rotate(30 82.30 669.10)">Hezhen</text>
<text x="436.50" y="669.10" transform="rotate(30 436.50 669.10)">China</text>
<text x="82.30" y="684.95" text-anchor="end" transform="rotate(30 82.30 684.95)">Lahu</text>
<text x="436.50" y="684.95" transform="rotate(30 436.50 684.95)">China</text>
<text x="82.30" y="700.80" text-anchor="end" transform="rotate(30 82.30 700.80)">Miaozu</text>
<text x="436.50" y="700.80" transform="rotate(30 436.50 700.80)">China</text>
<text x="82.30" y="716.50" text-anchor="end" transform="rotate(30 82.30 716.50)">Mongola</text>
<text x="436.50" y="716.50" transform="rotate(30 436.50 716.50)">China</text>
<text x="82.30" y="732.15" text-anchor="end" transform="rotate(30 82.30 732.15)">Naxi</text>
<text x="436.50" y="732.15" transform="rotate(30 436.50 732.15)">China</text>
<text x="82.30" y="747.92" text-anchor="end" transform="rotate(30 82.30 747.92)">Oroqen</text>
<text x="436.50" y="747.92" transform="rotate(30 436.50 747.92)">China</text>
<text x="82.30" y="763.70" text-anchor="end" transform="rotate(30 82.30 763.70)">She</text>
<text x="436.50" y="763.70" transform="rotate(30 436.50 763.70)">China</text>
<text x="82.30" y="779.33" text-anchor="end" transform="rotate(30 82.30 779.33)">Tu</text>
<text x="436.50" y="779.33" transform="rotate(30 436.50 779.33)">China</text>
<text x="82.30" y="794.98" text-anchor="end" transform="rotate(30 82.30 794.98)">Tujia</text>
<text x="436.50" y="794.98" transform="rotate(30 436.50 794.98)">China</text>
<text x="82.30" y="809.98" text-anchor="end" transform="rotate(30 82.30 809.98)">Xibo</text>
<text x="436.50" y="809.98" transform="rotate(30 436.50 809.98)">China</text>
<text x="82.30" y="824.90" text-anchor="end" transform="rotate(30 82.30 824.90)">Yizu</text>
<text x="436.50" y="824.90" transform="rotate(30 436.50 824.90)">China</text>
<text x="82.30" y="857.10" text-anchor="end" transform="rotate(30 82.30 857.10)">Japanese</text>
<text x="436.50" y="857.10" transform="rotate(30 436.50 857.10)">Japan</text>
<text x="82.30" y="900.95" text-anchor="end" transform="rotate(30 82.30 900.95)">Yakut</text>
<text x="436.50" y="900.95" transform="rotate(30 436.50 900.95)">Siberia</text>
<text x="82.30" y="943.30" text-anchor="end" transform="rotate(30 82.30 943.30)">French</text>
<text x="436.50" y="943.30" transform="rotate(30 436.50 943.30)">France</text>
<text x="82.30" y="985.00" text-anchor="end" transform="rotate(30 82.30 985.00)">French_Basque</text>
<text x="436.50" y="985.00" transform="rotate(30 436.50 985.00)">France</text>
<text x="82.30" y="1025.95" text-anchor="end" transform="rotate(30 82.30 1025.95)">Sardinian</text>
<text x="436.50" y="1025.95" transform="rotate(30 436.50 1025.95)">Italy</text>
<text x="82.30" y="1054.38" text-anchor="end" transform="rotate(30 82.30 1054.38)">Tuscan</text>
<text x="436.50" y="1054.38" transform="rotate(30 436.50 1054.38)">Italy</text>
<text x="82.30" y="1071.83" text-anchor="end" transform="rotate(30 82.30 1071.83)">North_Italian</text>
<text x="436.50" y="1071.83" transform="rotate(30 436.50 1071.83)">Italy_(Bergamo)</text>
<text x="82.30" y="1095.40" text-anchor="end" transform="rotate(30 82.30 1095.40)">Orcadian</text>
<text x="436.50" y="1095.40" transform="rotate(30 436.50 1095.40)">Orkney_Islands</text>
<text x="82.30" y="1127.45" text-anchor="end" transform="rotate(30 82.30 1127.45)">Russian</text>
<text x="436.50" y="1127.45" transform="rotate(30 436.50 1127.45)">Russia</text>
<text x="82.30" y="1160.25" text-anchor="end" transform="rotate(30 82.30 1160.25)">Adygei</text>
<text x="436.50" y="1160.25" transform="rotate(30 436.50 1160.25)">Russia_Caucasus</text>
<text x="82.30" y="199.10" text-anchor="end" font-weight="normal" stroke-width="0.3" font-size="9.9" transform="rotate(30 82.30 199.10)">Bantu_S.E._Pedi</text>
<text x="436.50" y="199.10" stroke-width="0" transform="rotate(30 436.50 199.10)">South_Africa</text>
<text x="82.30" y="200.85" text-anchor="end" font-weight="normal" stroke-width="0.3" font-size="9.9" transform="rotate(30 82.30 200.85)">Bantu_S.E._S.Sotho</text>
<text x="436.50" y="200.85" stroke-width="0" transform="rotate(30 436.50 200.85)">South_Africa</text>
<text x="82.30" y="202.60" text-anchor="end" font-weight="normal" stroke-width="0.3" font-size="9.9" transform="rotate(30 82.30 202.60)">Bantu_S.E._Tswana</text>
<text x="436.50" y="202.60" stroke-width="0" transform="rotate(30 436.50 202.60)">South_Africa</text>
<text x="82.30" y="204.35" text-anchor="end" font-weight="normal" stroke-width="0.3" font-size="9.9" transform="rotate(30 82.30 204.35)">Bantu_S.W._Ovambo</text>
<text x="436.50" y="204.35" stroke-width="0" transform="rotate(30 436.50 204.35)">South_Africa</text>
<text x="82.30" y="206.10" text-anchor="end" font-weight="normal" stroke-width="0.3" font-size="9.9" transform="rotate(30 82.30 206.10)">Bantu_S.E._Zulu</text>
<text x="436.50" y="206.10" stroke-width="0" transform="rotate(30 436.50 206.10)">South_Africa</text>
<text x="82.30" y="207.85" text-anchor="end" font-weight="normal" stroke-width="0.3" font-size="9.9" transform="rotate(30 82.30 207.85)">Bantu_S.W._Herero</text>
<text x="436.50" y="207.85" stroke-width="0" transform="rotate(30 436.50 207.85)">South_Africa</text>
<text x="82.30" y="209.60" text-anchor="end" font-weight="normal" stroke-width="0.3" font-size="9.9" transform="rotate(30 82.30 209.60)">Bantu_S.W._Ovambo</text>
<text x="436.50" y="209.60" stroke-width="0" transform="rotate(30 436.50 209.60)">South_Africa</text>
<text x="82.30" y="211.35" text-anchor="end" font-weight="normal" stroke-width="0.3" font-size="9.9" transform="rotate(30 82.30 211.35)">Bantu_S.E._Sotho</text>
<text x="436.50" y="211.35" stroke-width="0" transform="rotate(30 436.50 211.35)">South_Africa</text>
</g>
<g font-family="Liberation Sans" font-size="11.35" fill="#111" stroke="#111" stroke-width="0.3">
<text x="95.6" y="1185.5">K-means</text>
<text x="157.1" y="1185.5">S. K-means</text>
<text x="233.0" y="1185.5">Spectral w/</text>
<text x="237.7" y="1198.2">K-means</text>
<text x="308.4" y="1185.5">Spectral w/</text>
<text x="308.4" y="1198.2">S. K-means</text>
<text x="380.6" y="1185.5">structure</text>
</g>
</svg>
</body></html>
